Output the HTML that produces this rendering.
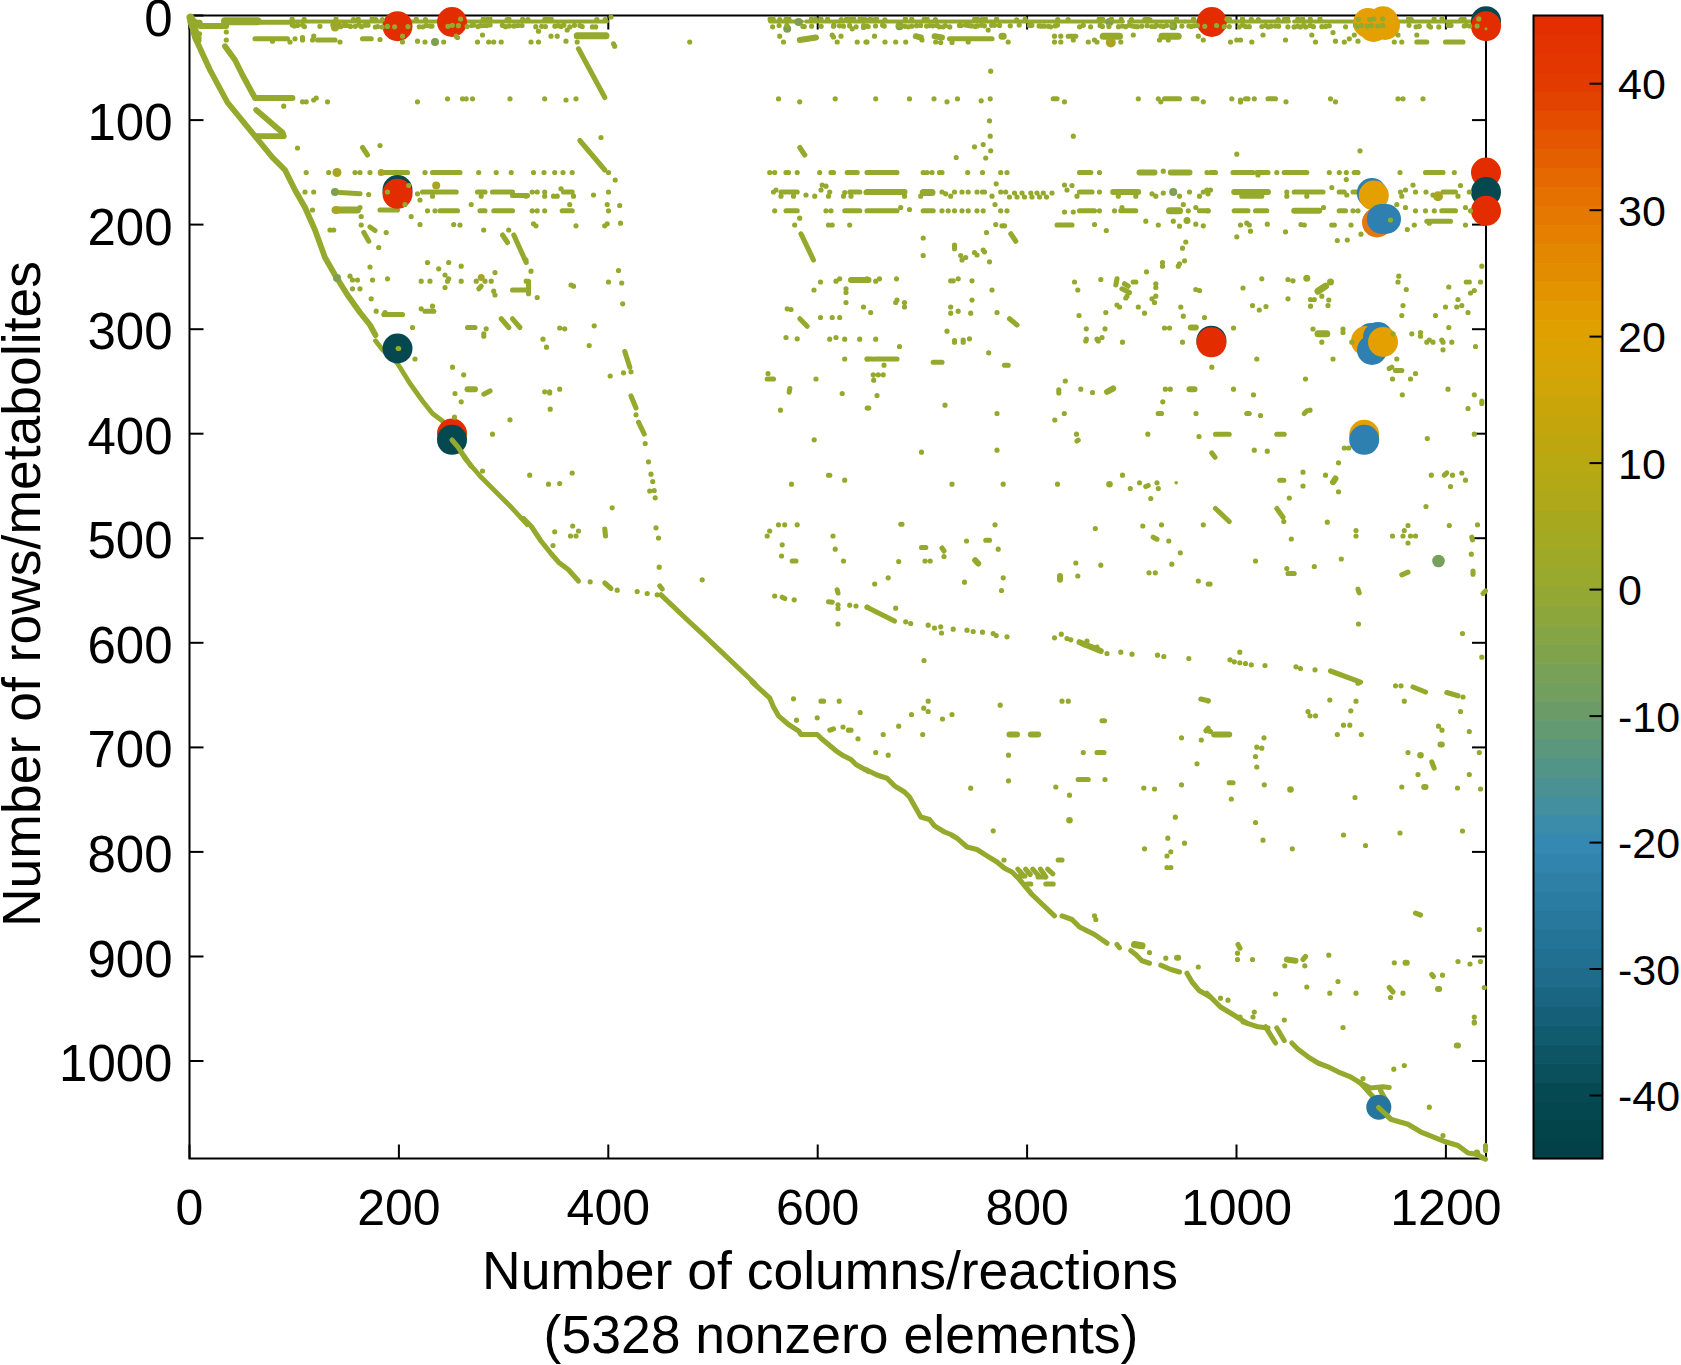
<!DOCTYPE html>
<html><head><meta charset="utf-8"><style>html,body{margin:0;padding:0;background:#fff;overflow:hidden}body{width:1681px;height:1365px;position:relative}</style></head>
<body>
<svg width="1681" height="1365" viewBox="0 0 1681 1365" style="position:absolute;left:0;top:0">
<rect width="1681" height="1365" fill="#fff"/>
<rect x="1533.5" y="15.50" width="69.0" height="19.65" fill="#e32f00"/>
<rect x="1533.5" y="34.55" width="69.0" height="19.65" fill="#e33300"/>
<rect x="1533.5" y="53.60" width="69.0" height="19.65" fill="#e33600"/>
<rect x="1533.5" y="72.65" width="69.0" height="19.65" fill="#e33a00"/>
<rect x="1533.5" y="91.70" width="69.0" height="19.65" fill="#e34300"/>
<rect x="1533.5" y="110.75" width="69.0" height="19.65" fill="#e44d00"/>
<rect x="1533.5" y="129.80" width="69.0" height="19.65" fill="#e45600"/>
<rect x="1533.5" y="148.85" width="69.0" height="19.65" fill="#e45f00"/>
<rect x="1533.5" y="167.90" width="69.0" height="19.65" fill="#e56800"/>
<rect x="1533.5" y="186.95" width="69.0" height="19.65" fill="#e57100"/>
<rect x="1533.5" y="206.00" width="69.0" height="19.65" fill="#e57900"/>
<rect x="1533.5" y="225.05" width="69.0" height="19.65" fill="#e47f00"/>
<rect x="1533.5" y="244.10" width="69.0" height="19.65" fill="#e38600"/>
<rect x="1533.5" y="263.15" width="69.0" height="19.65" fill="#e28d00"/>
<rect x="1533.5" y="282.20" width="69.0" height="19.65" fill="#e29300"/>
<rect x="1533.5" y="301.25" width="69.0" height="19.65" fill="#e19a00"/>
<rect x="1533.5" y="320.30" width="69.0" height="19.65" fill="#e0a100"/>
<rect x="1533.5" y="339.35" width="69.0" height="19.65" fill="#dba302"/>
<rect x="1533.5" y="358.40" width="69.0" height="19.65" fill="#d6a404"/>
<rect x="1533.5" y="377.45" width="69.0" height="19.65" fill="#d0a507"/>
<rect x="1533.5" y="396.50" width="69.0" height="19.65" fill="#caa509"/>
<rect x="1533.5" y="415.55" width="69.0" height="19.65" fill="#c4a60c"/>
<rect x="1533.5" y="434.60" width="69.0" height="19.65" fill="#bea70e"/>
<rect x="1533.5" y="453.65" width="69.0" height="19.65" fill="#b8a811"/>
<rect x="1533.5" y="472.70" width="69.0" height="19.65" fill="#b3a815"/>
<rect x="1533.5" y="491.75" width="69.0" height="19.65" fill="#aea81a"/>
<rect x="1533.5" y="510.80" width="69.0" height="19.65" fill="#a8a81f"/>
<rect x="1533.5" y="529.85" width="69.0" height="19.65" fill="#a3a923"/>
<rect x="1533.5" y="548.90" width="69.0" height="19.65" fill="#9ea928"/>
<rect x="1533.5" y="567.95" width="69.0" height="19.65" fill="#99a92d"/>
<rect x="1533.5" y="587.00" width="69.0" height="19.65" fill="#93a833"/>
<rect x="1533.5" y="606.05" width="69.0" height="19.65" fill="#8ca63c"/>
<rect x="1533.5" y="625.10" width="69.0" height="19.65" fill="#85a444"/>
<rect x="1533.5" y="644.15" width="69.0" height="19.65" fill="#7fa24d"/>
<rect x="1533.5" y="663.20" width="69.0" height="19.65" fill="#78a056"/>
<rect x="1533.5" y="682.25" width="69.0" height="19.65" fill="#729e5e"/>
<rect x="1533.5" y="701.30" width="69.0" height="19.65" fill="#6b9c67"/>
<rect x="1533.5" y="720.35" width="69.0" height="19.65" fill="#639a72"/>
<rect x="1533.5" y="739.40" width="69.0" height="19.65" fill="#5b977d"/>
<rect x="1533.5" y="758.45" width="69.0" height="19.65" fill="#539488"/>
<rect x="1533.5" y="777.50" width="69.0" height="19.65" fill="#4b9194"/>
<rect x="1533.5" y="796.55" width="69.0" height="19.65" fill="#438e9f"/>
<rect x="1533.5" y="815.60" width="69.0" height="19.65" fill="#3b8baa"/>
<rect x="1533.5" y="834.65" width="69.0" height="19.65" fill="#3488b2"/>
<rect x="1533.5" y="853.70" width="69.0" height="19.65" fill="#3184ad"/>
<rect x="1533.5" y="872.75" width="69.0" height="19.65" fill="#2e80a7"/>
<rect x="1533.5" y="891.80" width="69.0" height="19.65" fill="#2b7ca2"/>
<rect x="1533.5" y="910.85" width="69.0" height="19.65" fill="#28789d"/>
<rect x="1533.5" y="929.90" width="69.0" height="19.65" fill="#247497"/>
<rect x="1533.5" y="948.95" width="69.0" height="19.65" fill="#217092"/>
<rect x="1533.5" y="968.00" width="69.0" height="19.65" fill="#1e6b8b"/>
<rect x="1533.5" y="987.05" width="69.0" height="19.65" fill="#1a6581"/>
<rect x="1533.5" y="1006.10" width="69.0" height="19.65" fill="#156078"/>
<rect x="1533.5" y="1025.15" width="69.0" height="19.65" fill="#115b6e"/>
<rect x="1533.5" y="1044.20" width="69.0" height="19.65" fill="#0d5565"/>
<rect x="1533.5" y="1063.25" width="69.0" height="19.65" fill="#09505c"/>
<rect x="1533.5" y="1082.30" width="69.0" height="19.65" fill="#054a52"/>
<rect x="1533.5" y="1101.35" width="69.0" height="19.65" fill="#04474e"/>
<rect x="1533.5" y="1120.40" width="69.0" height="19.65" fill="#03444b"/>
<rect x="1533.5" y="1139.45" width="69.0" height="19.65" fill="#024147"/>
<rect x="1533.5" y="15.5" width="69.0" height="1143.0" fill="none" stroke="#000" stroke-width="2"/>
<line x1="1589.5" y1="1095.5" x2="1602.5" y2="1095.5" stroke="#000" stroke-width="2"/>
<text x="1618" y="1111.0" font-size="43" font-family="Liberation Sans, sans-serif">-40</text>
<line x1="1589.5" y1="969.0" x2="1602.5" y2="969.0" stroke="#000" stroke-width="2"/>
<text x="1618" y="984.5" font-size="43" font-family="Liberation Sans, sans-serif">-30</text>
<line x1="1589.5" y1="842.6" x2="1602.5" y2="842.6" stroke="#000" stroke-width="2"/>
<text x="1618" y="858.1" font-size="43" font-family="Liberation Sans, sans-serif">-20</text>
<line x1="1589.5" y1="716.1" x2="1602.5" y2="716.1" stroke="#000" stroke-width="2"/>
<text x="1618" y="731.6" font-size="43" font-family="Liberation Sans, sans-serif">-10</text>
<line x1="1589.5" y1="589.6" x2="1602.5" y2="589.6" stroke="#000" stroke-width="2"/>
<text x="1618" y="605.1" font-size="43" font-family="Liberation Sans, sans-serif">0</text>
<line x1="1589.5" y1="463.1" x2="1602.5" y2="463.1" stroke="#000" stroke-width="2"/>
<text x="1618" y="478.6" font-size="43" font-family="Liberation Sans, sans-serif">10</text>
<line x1="1589.5" y1="336.6" x2="1602.5" y2="336.6" stroke="#000" stroke-width="2"/>
<text x="1618" y="352.1" font-size="43" font-family="Liberation Sans, sans-serif">20</text>
<line x1="1589.5" y1="210.2" x2="1602.5" y2="210.2" stroke="#000" stroke-width="2"/>
<text x="1618" y="225.7" font-size="43" font-family="Liberation Sans, sans-serif">30</text>
<line x1="1589.5" y1="83.7" x2="1602.5" y2="83.7" stroke="#000" stroke-width="2"/>
<text x="1618" y="99.2" font-size="43" font-family="Liberation Sans, sans-serif">40</text>
<rect x="189.5" y="15.5" width="1296.5" height="1143.0" fill="none" stroke="#000" stroke-width="2"/>
<line x1="189.5" y1="1158.5" x2="189.5" y2="1144.5" stroke="#000" stroke-width="2"/>
<line x1="189.5" y1="15.5" x2="189.5" y2="29.5" stroke="#000" stroke-width="2"/>
<text x="189.5" y="1225" font-size="50" text-anchor="middle" font-family="Liberation Sans, sans-serif">0</text>
<line x1="398.9" y1="1158.5" x2="398.9" y2="1144.5" stroke="#000" stroke-width="2"/>
<line x1="398.9" y1="15.5" x2="398.9" y2="29.5" stroke="#000" stroke-width="2"/>
<text x="398.9" y="1225" font-size="50" text-anchor="middle" font-family="Liberation Sans, sans-serif">200</text>
<line x1="608.3" y1="1158.5" x2="608.3" y2="1144.5" stroke="#000" stroke-width="2"/>
<line x1="608.3" y1="15.5" x2="608.3" y2="29.5" stroke="#000" stroke-width="2"/>
<text x="608.3" y="1225" font-size="50" text-anchor="middle" font-family="Liberation Sans, sans-serif">400</text>
<line x1="817.7" y1="1158.5" x2="817.7" y2="1144.5" stroke="#000" stroke-width="2"/>
<line x1="817.7" y1="15.5" x2="817.7" y2="29.5" stroke="#000" stroke-width="2"/>
<text x="817.7" y="1225" font-size="50" text-anchor="middle" font-family="Liberation Sans, sans-serif">600</text>
<line x1="1027.1" y1="1158.5" x2="1027.1" y2="1144.5" stroke="#000" stroke-width="2"/>
<line x1="1027.1" y1="15.5" x2="1027.1" y2="29.5" stroke="#000" stroke-width="2"/>
<text x="1027.1" y="1225" font-size="50" text-anchor="middle" font-family="Liberation Sans, sans-serif">800</text>
<line x1="1236.5" y1="1158.5" x2="1236.5" y2="1144.5" stroke="#000" stroke-width="2"/>
<line x1="1236.5" y1="15.5" x2="1236.5" y2="29.5" stroke="#000" stroke-width="2"/>
<text x="1236.5" y="1225" font-size="50" text-anchor="middle" font-family="Liberation Sans, sans-serif">1000</text>
<line x1="1445.9" y1="1158.5" x2="1445.9" y2="1144.5" stroke="#000" stroke-width="2"/>
<line x1="1445.9" y1="15.5" x2="1445.9" y2="29.5" stroke="#000" stroke-width="2"/>
<text x="1445.9" y="1225" font-size="50" text-anchor="middle" font-family="Liberation Sans, sans-serif">1200</text>
<line x1="189.5" y1="15.5" x2="203.5" y2="15.5" stroke="#000" stroke-width="2"/>
<line x1="1486.0" y1="15.5" x2="1472.0" y2="15.5" stroke="#000" stroke-width="2"/>
<text x="172.5" y="35.5" font-size="51" text-anchor="end" font-family="Liberation Sans, sans-serif">0</text>
<line x1="189.5" y1="120.1" x2="203.5" y2="120.1" stroke="#000" stroke-width="2"/>
<line x1="1486.0" y1="120.1" x2="1472.0" y2="120.1" stroke="#000" stroke-width="2"/>
<text x="172.5" y="140.1" font-size="51" text-anchor="end" font-family="Liberation Sans, sans-serif">100</text>
<line x1="189.5" y1="224.6" x2="203.5" y2="224.6" stroke="#000" stroke-width="2"/>
<line x1="1486.0" y1="224.6" x2="1472.0" y2="224.6" stroke="#000" stroke-width="2"/>
<text x="172.5" y="244.6" font-size="51" text-anchor="end" font-family="Liberation Sans, sans-serif">200</text>
<line x1="189.5" y1="329.2" x2="203.5" y2="329.2" stroke="#000" stroke-width="2"/>
<line x1="1486.0" y1="329.2" x2="1472.0" y2="329.2" stroke="#000" stroke-width="2"/>
<text x="172.5" y="349.2" font-size="51" text-anchor="end" font-family="Liberation Sans, sans-serif">300</text>
<line x1="189.5" y1="433.7" x2="203.5" y2="433.7" stroke="#000" stroke-width="2"/>
<line x1="1486.0" y1="433.7" x2="1472.0" y2="433.7" stroke="#000" stroke-width="2"/>
<text x="172.5" y="453.7" font-size="51" text-anchor="end" font-family="Liberation Sans, sans-serif">400</text>
<line x1="189.5" y1="538.2" x2="203.5" y2="538.2" stroke="#000" stroke-width="2"/>
<line x1="1486.0" y1="538.2" x2="1472.0" y2="538.2" stroke="#000" stroke-width="2"/>
<text x="172.5" y="558.2" font-size="51" text-anchor="end" font-family="Liberation Sans, sans-serif">500</text>
<line x1="189.5" y1="642.8" x2="203.5" y2="642.8" stroke="#000" stroke-width="2"/>
<line x1="1486.0" y1="642.8" x2="1472.0" y2="642.8" stroke="#000" stroke-width="2"/>
<text x="172.5" y="662.8" font-size="51" text-anchor="end" font-family="Liberation Sans, sans-serif">600</text>
<line x1="189.5" y1="747.4" x2="203.5" y2="747.4" stroke="#000" stroke-width="2"/>
<line x1="1486.0" y1="747.4" x2="1472.0" y2="747.4" stroke="#000" stroke-width="2"/>
<text x="172.5" y="767.4" font-size="51" text-anchor="end" font-family="Liberation Sans, sans-serif">700</text>
<line x1="189.5" y1="851.9" x2="203.5" y2="851.9" stroke="#000" stroke-width="2"/>
<line x1="1486.0" y1="851.9" x2="1472.0" y2="851.9" stroke="#000" stroke-width="2"/>
<text x="172.5" y="871.9" font-size="51" text-anchor="end" font-family="Liberation Sans, sans-serif">800</text>
<line x1="189.5" y1="956.5" x2="203.5" y2="956.5" stroke="#000" stroke-width="2"/>
<line x1="1486.0" y1="956.5" x2="1472.0" y2="956.5" stroke="#000" stroke-width="2"/>
<text x="172.5" y="976.5" font-size="51" text-anchor="end" font-family="Liberation Sans, sans-serif">900</text>
<line x1="189.5" y1="1061.0" x2="203.5" y2="1061.0" stroke="#000" stroke-width="2"/>
<line x1="1486.0" y1="1061.0" x2="1472.0" y2="1061.0" stroke="#000" stroke-width="2"/>
<text x="172.5" y="1081.0" font-size="51" text-anchor="end" font-family="Liberation Sans, sans-serif">1000</text>
<polyline points="190.0,18.0 195.0,37.5 210.0,70.0 227.5,102.5 255.0,136.2 272.5,157.5 285.0,170.0 295.0,190.0 305.0,207.5 315.0,230.0 325.0,257.5 335.0,275.0 347.5,295.0 360.0,312.5 370.0,325.0 375.5,335.2" fill="none" stroke="#95a92c" stroke-width="5.8" stroke-linecap="round" stroke-linejoin="round"/>
<polyline points="225.0,46.2 235.0,60.0 242.5,75.0 255.0,98.0 292.5,98.0" fill="none" stroke="#95a92c" stroke-width="5.8" stroke-linecap="round" stroke-linejoin="round"/>
<polyline points="256.2,110.0 265.0,117.5 275.0,126.2 282.5,132.5 283.8,136.2 256.2,136.2" fill="none" stroke="#95a92c" stroke-width="5.8" stroke-linecap="round" stroke-linejoin="round"/>
<polyline points="190.5,18.0 200.0,26.0 226.2,26.0" fill="none" stroke="#95a92c" stroke-width="5.8" stroke-linecap="round" stroke-linejoin="round"/>
<line x1="225.0" y1="21.2" x2="257.5" y2="21.2" stroke="#95a92c" stroke-width="8.0" stroke-linecap="round"/>
<line x1="257.5" y1="22.2" x2="292.5" y2="22.2" stroke="#95a92c" stroke-width="5.1" stroke-linecap="round"/>
<line x1="190.0" y1="22.2" x2="200.0" y2="22.2" stroke="#95a92c" stroke-width="5.1" stroke-linecap="round"/>
<line x1="190.5" y1="17.5" x2="197.5" y2="40.0" stroke="#95a92c" stroke-width="8.0" stroke-linecap="round"/>
<line x1="255.0" y1="38.8" x2="287.5" y2="38.8" stroke="#95a92c" stroke-width="5.1" stroke-linecap="round"/>
<line x1="317.5" y1="40.0" x2="335.0" y2="40.0" stroke="#95a92c" stroke-width="5.1" stroke-linecap="round"/>
<line x1="362.5" y1="38.8" x2="371.2" y2="38.8" stroke="#95a92c" stroke-width="5.1" stroke-linecap="round"/>
<line x1="362.5" y1="147.5" x2="367.5" y2="155.0" stroke="#95a92c" stroke-width="5.1" stroke-linecap="round"/>
<line x1="381.2" y1="172.5" x2="407.5" y2="172.5" stroke="#95a92c" stroke-width="5.1" stroke-linecap="round"/>
<line x1="432.5" y1="172.5" x2="460.0" y2="172.5" stroke="#95a92c" stroke-width="5.1" stroke-linecap="round"/>
<line x1="340.0" y1="192.5" x2="360.0" y2="193.8" stroke="#95a92c" stroke-width="5.1" stroke-linecap="round"/>
<line x1="422.5" y1="192.0" x2="435.0" y2="192.0" stroke="#95a92c" stroke-width="5.1" stroke-linecap="round"/>
<line x1="437.5" y1="192.0" x2="456.2" y2="192.0" stroke="#95a92c" stroke-width="5.1" stroke-linecap="round"/>
<line x1="477.5" y1="192.0" x2="485.0" y2="192.0" stroke="#95a92c" stroke-width="5.1" stroke-linecap="round"/>
<line x1="492.5" y1="192.0" x2="512.5" y2="192.0" stroke="#95a92c" stroke-width="5.1" stroke-linecap="round"/>
<line x1="512.5" y1="195.5" x2="527.5" y2="195.5" stroke="#95a92c" stroke-width="5.1" stroke-linecap="round"/>
<line x1="335.0" y1="210.0" x2="357.5" y2="210.0" stroke="#95a92c" stroke-width="7.0" stroke-linecap="round"/>
<line x1="380.0" y1="210.0" x2="397.5" y2="210.0" stroke="#95a92c" stroke-width="5.1" stroke-linecap="round"/>
<line x1="440.0" y1="210.8" x2="457.5" y2="210.8" stroke="#95a92c" stroke-width="5.1" stroke-linecap="round"/>
<line x1="480.0" y1="210.8" x2="485.0" y2="210.8" stroke="#95a92c" stroke-width="5.1" stroke-linecap="round"/>
<line x1="493.8" y1="210.8" x2="512.5" y2="210.8" stroke="#95a92c" stroke-width="5.1" stroke-linecap="round"/>
<line x1="363.8" y1="232.5" x2="368.8" y2="241.2" stroke="#95a92c" stroke-width="5.1" stroke-linecap="round"/>
<line x1="370.0" y1="227.0" x2="375.0" y2="230.5" stroke="#95a92c" stroke-width="5.1" stroke-linecap="round"/>
<line x1="502.5" y1="235.0" x2="507.5" y2="242.5" stroke="#95a92c" stroke-width="5.1" stroke-linecap="round"/>
<line x1="513.8" y1="235.0" x2="526.2" y2="262.5" stroke="#95a92c" stroke-width="5.1" stroke-linecap="round"/>
<line x1="512.5" y1="290.0" x2="527.5" y2="290.0" stroke="#95a92c" stroke-width="5.1" stroke-linecap="round"/>
<line x1="478.8" y1="288.8" x2="481.2" y2="286.2" stroke="#95a92c" stroke-width="5.1" stroke-linecap="round"/>
<line x1="383.8" y1="314.5" x2="402.5" y2="314.5" stroke="#95a92c" stroke-width="5.1" stroke-linecap="round"/>
<line x1="425.0" y1="311.2" x2="433.8" y2="311.2" stroke="#95a92c" stroke-width="5.1" stroke-linecap="round"/>
<line x1="467.5" y1="327.5" x2="475.0" y2="327.5" stroke="#95a92c" stroke-width="5.1" stroke-linecap="round"/>
<line x1="501.2" y1="318.8" x2="508.8" y2="327.5" stroke="#95a92c" stroke-width="5.1" stroke-linecap="round"/>
<line x1="512.5" y1="318.8" x2="520.0" y2="327.5" stroke="#95a92c" stroke-width="5.1" stroke-linecap="round"/>
<line x1="483.8" y1="333.8" x2="483.8" y2="336.2" stroke="#95a92c" stroke-width="5.1" stroke-linecap="round"/>
<line x1="577.2" y1="35.8" x2="606.0" y2="35.8" stroke="#95a92c" stroke-width="7.0" stroke-linecap="round"/>
<line x1="578.5" y1="48.8" x2="604.8" y2="97.5" stroke="#95a92c" stroke-width="5.1" stroke-linecap="round"/>
<line x1="799.8" y1="40.0" x2="816.0" y2="37.5" stroke="#95a92c" stroke-width="6.0" stroke-linecap="round"/>
<line x1="579.8" y1="140.5" x2="604.8" y2="170.0" stroke="#95a92c" stroke-width="5.1" stroke-linecap="round"/>
<line x1="799.8" y1="147.5" x2="804.8" y2="155.0" stroke="#95a92c" stroke-width="5.1" stroke-linecap="round"/>
<line x1="563.5" y1="192.0" x2="572.2" y2="192.0" stroke="#95a92c" stroke-width="5.1" stroke-linecap="round"/>
<line x1="847.2" y1="172.5" x2="857.2" y2="172.5" stroke="#95a92c" stroke-width="5.1" stroke-linecap="round"/>
<line x1="781.0" y1="192.0" x2="797.2" y2="192.0" stroke="#95a92c" stroke-width="5.1" stroke-linecap="round"/>
<line x1="849.8" y1="192.0" x2="859.8" y2="192.0" stroke="#95a92c" stroke-width="5.1" stroke-linecap="round"/>
<line x1="562.2" y1="210.8" x2="572.2" y2="210.8" stroke="#95a92c" stroke-width="5.1" stroke-linecap="round"/>
<line x1="786.0" y1="210.8" x2="797.2" y2="210.8" stroke="#95a92c" stroke-width="5.1" stroke-linecap="round"/>
<line x1="844.8" y1="210.8" x2="859.8" y2="210.8" stroke="#95a92c" stroke-width="5.1" stroke-linecap="round"/>
<line x1="801.0" y1="233.8" x2="813.5" y2="260.0" stroke="#95a92c" stroke-width="5.1" stroke-linecap="round"/>
<line x1="528.5" y1="281.2" x2="528.5" y2="293.8" stroke="#95a92c" stroke-width="5.1" stroke-linecap="round"/>
<line x1="851.0" y1="280.0" x2="868.5" y2="280.0" stroke="#95a92c" stroke-width="6.0" stroke-linecap="round"/>
<line x1="799.8" y1="318.8" x2="807.2" y2="326.2" stroke="#95a92c" stroke-width="5.1" stroke-linecap="round"/>
<line x1="915.8" y1="36.2" x2="920.8" y2="37.5" stroke="#95a92c" stroke-width="6.0" stroke-linecap="round"/>
<line x1="934.5" y1="36.2" x2="942.0" y2="37.5" stroke="#95a92c" stroke-width="6.0" stroke-linecap="round"/>
<line x1="949.5" y1="38.8" x2="992.0" y2="38.8" stroke="#95a92c" stroke-width="5.1" stroke-linecap="round"/>
<line x1="1002.0" y1="36.2" x2="1003.2" y2="36.2" stroke="#95a92c" stroke-width="7.0" stroke-linecap="round"/>
<line x1="1068.2" y1="36.2" x2="1075.8" y2="36.2" stroke="#95a92c" stroke-width="5.1" stroke-linecap="round"/>
<line x1="1103.2" y1="36.2" x2="1119.5" y2="36.2" stroke="#95a92c" stroke-width="7.0" stroke-linecap="round"/>
<line x1="1162.0" y1="36.2" x2="1178.2" y2="36.2" stroke="#95a92c" stroke-width="7.0" stroke-linecap="round"/>
<line x1="1053.2" y1="98.8" x2="1057.0" y2="98.8" stroke="#95a92c" stroke-width="5.1" stroke-linecap="round"/>
<line x1="1164.5" y1="98.8" x2="1179.5" y2="98.8" stroke="#95a92c" stroke-width="5.1" stroke-linecap="round"/>
<line x1="1193.2" y1="98.8" x2="1197.0" y2="98.8" stroke="#95a92c" stroke-width="5.1" stroke-linecap="round"/>
<line x1="867.0" y1="172.5" x2="897.0" y2="172.5" stroke="#95a92c" stroke-width="5.1" stroke-linecap="round"/>
<line x1="1079.5" y1="172.5" x2="1090.8" y2="172.5" stroke="#95a92c" stroke-width="5.1" stroke-linecap="round"/>
<line x1="1139.5" y1="172.5" x2="1154.5" y2="172.5" stroke="#95a92c" stroke-width="6.0" stroke-linecap="round"/>
<line x1="1170.8" y1="172.5" x2="1189.5" y2="172.5" stroke="#95a92c" stroke-width="6.0" stroke-linecap="round"/>
<line x1="867.0" y1="192.0" x2="904.5" y2="192.0" stroke="#95a92c" stroke-width="6.0" stroke-linecap="round"/>
<line x1="923.2" y1="192.5" x2="932.0" y2="192.5" stroke="#95a92c" stroke-width="7.0" stroke-linecap="round"/>
<line x1="1079.5" y1="192.0" x2="1092.0" y2="192.0" stroke="#95a92c" stroke-width="5.1" stroke-linecap="round"/>
<line x1="1113.2" y1="192.0" x2="1138.2" y2="192.0" stroke="#95a92c" stroke-width="6.0" stroke-linecap="round"/>
<line x1="867.0" y1="210.8" x2="897.0" y2="210.8" stroke="#95a92c" stroke-width="5.1" stroke-linecap="round"/>
<line x1="923.2" y1="210.8" x2="933.2" y2="210.8" stroke="#95a92c" stroke-width="5.1" stroke-linecap="round"/>
<line x1="1079.5" y1="210.8" x2="1094.5" y2="210.8" stroke="#95a92c" stroke-width="5.1" stroke-linecap="round"/>
<line x1="1120.8" y1="210.8" x2="1135.8" y2="210.8" stroke="#95a92c" stroke-width="5.1" stroke-linecap="round"/>
<line x1="1169.5" y1="210.8" x2="1179.5" y2="210.8" stroke="#95a92c" stroke-width="7.0" stroke-linecap="round"/>
<line x1="1199.5" y1="210.8" x2="1208.2" y2="210.8" stroke="#95a92c" stroke-width="5.1" stroke-linecap="round"/>
<line x1="1057.0" y1="225.0" x2="1072.0" y2="225.0" stroke="#95a92c" stroke-width="5.1" stroke-linecap="round"/>
<line x1="1010.8" y1="233.8" x2="1015.8" y2="241.2" stroke="#95a92c" stroke-width="5.1" stroke-linecap="round"/>
<line x1="954.5" y1="245.0" x2="954.5" y2="248.8" stroke="#95a92c" stroke-width="5.1" stroke-linecap="round"/>
<line x1="1009.5" y1="318.8" x2="1017.0" y2="325.0" stroke="#95a92c" stroke-width="5.1" stroke-linecap="round"/>
<line x1="1117.0" y1="278.8" x2="1115.8" y2="285.0" stroke="#95a92c" stroke-width="5.1" stroke-linecap="round"/>
<line x1="1124.5" y1="283.8" x2="1128.2" y2="286.2" stroke="#95a92c" stroke-width="5.1" stroke-linecap="round"/>
<line x1="1122.0" y1="288.8" x2="1129.5" y2="292.5" stroke="#95a92c" stroke-width="5.1" stroke-linecap="round"/>
<line x1="1190.8" y1="327.5" x2="1195.8" y2="327.5" stroke="#95a92c" stroke-width="6.0" stroke-linecap="round"/>
<line x1="1416.8" y1="42.0" x2="1426.8" y2="42.0" stroke="#95a92c" stroke-width="5.1" stroke-linecap="round"/>
<line x1="1445.5" y1="42.0" x2="1463.0" y2="42.0" stroke="#95a92c" stroke-width="5.1" stroke-linecap="round"/>
<line x1="1268.0" y1="98.8" x2="1275.5" y2="98.8" stroke="#95a92c" stroke-width="5.1" stroke-linecap="round"/>
<line x1="1210.5" y1="172.5" x2="1215.5" y2="172.5" stroke="#95a92c" stroke-width="5.1" stroke-linecap="round"/>
<line x1="1233.0" y1="172.5" x2="1253.0" y2="172.5" stroke="#95a92c" stroke-width="5.1" stroke-linecap="round"/>
<line x1="1256.8" y1="172.5" x2="1268.0" y2="172.5" stroke="#95a92c" stroke-width="5.1" stroke-linecap="round"/>
<line x1="1284.2" y1="172.5" x2="1306.8" y2="172.5" stroke="#95a92c" stroke-width="5.1" stroke-linecap="round"/>
<line x1="1354.2" y1="172.5" x2="1358.0" y2="172.5" stroke="#95a92c" stroke-width="5.1" stroke-linecap="round"/>
<line x1="1425.5" y1="172.5" x2="1443.0" y2="172.5" stroke="#95a92c" stroke-width="5.1" stroke-linecap="round"/>
<line x1="1234.2" y1="192.0" x2="1268.0" y2="192.0" stroke="#95a92c" stroke-width="6.0" stroke-linecap="round"/>
<line x1="1241.8" y1="196.2" x2="1261.8" y2="196.2" stroke="#95a92c" stroke-width="5.1" stroke-linecap="round"/>
<line x1="1294.2" y1="192.0" x2="1323.0" y2="192.0" stroke="#95a92c" stroke-width="5.1" stroke-linecap="round"/>
<line x1="1339.2" y1="192.0" x2="1344.2" y2="192.0" stroke="#95a92c" stroke-width="5.1" stroke-linecap="round"/>
<line x1="1353.0" y1="192.0" x2="1360.5" y2="192.0" stroke="#95a92c" stroke-width="5.1" stroke-linecap="round"/>
<line x1="1443.0" y1="192.0" x2="1455.5" y2="192.0" stroke="#95a92c" stroke-width="5.1" stroke-linecap="round"/>
<line x1="1234.2" y1="210.8" x2="1248.0" y2="210.8" stroke="#95a92c" stroke-width="5.1" stroke-linecap="round"/>
<line x1="1255.5" y1="210.8" x2="1266.8" y2="210.8" stroke="#95a92c" stroke-width="5.1" stroke-linecap="round"/>
<line x1="1294.2" y1="210.8" x2="1319.2" y2="210.8" stroke="#95a92c" stroke-width="6.0" stroke-linecap="round"/>
<line x1="1339.2" y1="210.8" x2="1345.5" y2="210.8" stroke="#95a92c" stroke-width="5.1" stroke-linecap="round"/>
<line x1="1441.8" y1="210.8" x2="1455.5" y2="210.8" stroke="#95a92c" stroke-width="5.1" stroke-linecap="round"/>
<line x1="1426.8" y1="221.2" x2="1450.5" y2="221.2" stroke="#95a92c" stroke-width="5.1" stroke-linecap="round"/>
<line x1="1318.0" y1="291.2" x2="1325.5" y2="286.2" stroke="#95a92c" stroke-width="7.0" stroke-linecap="round"/>
<line x1="1318.0" y1="333.8" x2="1326.8" y2="333.8" stroke="#95a92c" stroke-width="7.0" stroke-linecap="round"/>
<polyline points="375.5,340.8 382.5,349.8 397.5,363.5 410.0,383.5 422.5,401.0 432.5,413.5 442.5,421.0 452.0,438.5 465.0,458.5 480.0,476.0 497.5,493.5 510.0,506.0 527.5,524.8" fill="none" stroke="#95a92c" stroke-width="4.8" stroke-linecap="round" stroke-linejoin="round"/>
<line x1="467.5" y1="389.2" x2="475.0" y2="389.2" stroke="#95a92c" stroke-width="6.0" stroke-linecap="round"/>
<line x1="483.8" y1="394.2" x2="490.0" y2="391.0" stroke="#95a92c" stroke-width="5.1" stroke-linecap="round"/>
<polyline points="523.5,518.5 531.0,526.0 541.0,541.0 551.0,553.5 558.5,562.2 568.5,569.8 578.5,581.0" fill="none" stroke="#95a92c" stroke-width="5.1" stroke-linecap="round" stroke-linejoin="round"/>
<polyline points="661.0,594.8 688.5,621.0 703.5,634.8 754.8,683.5" fill="none" stroke="#95a92c" stroke-width="5.1" stroke-linecap="round" stroke-linejoin="round"/>
<line x1="604.8" y1="583.0" x2="611.0" y2="588.5" stroke="#95a92c" stroke-width="5.1" stroke-linecap="round"/>
<line x1="624.8" y1="351.5" x2="629.8" y2="367.2" stroke="#95a92c" stroke-width="5.1" stroke-linecap="round"/>
<line x1="631.0" y1="396.0" x2="636.0" y2="408.0" stroke="#95a92c" stroke-width="5.1" stroke-linecap="round"/>
<line x1="638.5" y1="422.2" x2="644.2" y2="434.0" stroke="#95a92c" stroke-width="5.1" stroke-linecap="round"/>
<line x1="659.8" y1="586.0" x2="662.2" y2="589.0" stroke="#95a92c" stroke-width="5.1" stroke-linecap="round"/>
<line x1="604.8" y1="529.0" x2="605.5" y2="536.0" stroke="#95a92c" stroke-width="5.1" stroke-linecap="round"/>
<line x1="767.2" y1="379.0" x2="773.5" y2="379.0" stroke="#95a92c" stroke-width="5.1" stroke-linecap="round"/>
<line x1="789.8" y1="388.5" x2="789.2" y2="392.2" stroke="#95a92c" stroke-width="5.1" stroke-linecap="round"/>
<line x1="828.5" y1="475.2" x2="829.8" y2="475.2" stroke="#95a92c" stroke-width="5.1" stroke-linecap="round"/>
<line x1="792.2" y1="561.0" x2="796.0" y2="561.0" stroke="#95a92c" stroke-width="5.1" stroke-linecap="round"/>
<line x1="837.2" y1="589.8" x2="838.0" y2="593.0" stroke="#95a92c" stroke-width="5.1" stroke-linecap="round"/>
<line x1="782.2" y1="597.2" x2="784.8" y2="598.5" stroke="#95a92c" stroke-width="5.1" stroke-linecap="round"/>
<line x1="828.5" y1="601.8" x2="832.2" y2="602.2" stroke="#95a92c" stroke-width="5.1" stroke-linecap="round"/>
<polyline points="867.0,607.2 877.0,612.2 894.5,621.0" fill="none" stroke="#95a92c" stroke-width="5.1" stroke-linecap="round" stroke-linejoin="round"/>
<line x1="867.0" y1="359.0" x2="872.0" y2="359.0" stroke="#95a92c" stroke-width="5.1" stroke-linecap="round"/>
<line x1="874.5" y1="359.0" x2="897.0" y2="359.0" stroke="#95a92c" stroke-width="5.1" stroke-linecap="round"/>
<line x1="933.2" y1="362.2" x2="942.0" y2="362.2" stroke="#95a92c" stroke-width="5.1" stroke-linecap="round"/>
<line x1="1004.5" y1="365.2" x2="1008.2" y2="365.2" stroke="#95a92c" stroke-width="5.1" stroke-linecap="round"/>
<line x1="1145.8" y1="486.5" x2="1148.2" y2="485.5" stroke="#95a92c" stroke-width="5.1" stroke-linecap="round"/>
<line x1="1058.8" y1="389.8" x2="1058.8" y2="393.0" stroke="#95a92c" stroke-width="5.1" stroke-linecap="round"/>
<line x1="1107.0" y1="391.8" x2="1113.2" y2="388.5" stroke="#95a92c" stroke-width="6.0" stroke-linecap="round"/>
<line x1="1189.5" y1="389.2" x2="1194.5" y2="389.2" stroke="#95a92c" stroke-width="6.0" stroke-linecap="round"/>
<line x1="1158.2" y1="413.5" x2="1161.5" y2="413.5" stroke="#95a92c" stroke-width="5.1" stroke-linecap="round"/>
<line x1="1077.0" y1="441.0" x2="1078.2" y2="440.2" stroke="#95a92c" stroke-width="5.1" stroke-linecap="round"/>
<line x1="900.8" y1="524.2" x2="902.0" y2="524.2" stroke="#95a92c" stroke-width="5.1" stroke-linecap="round"/>
<line x1="985.8" y1="540.2" x2="989.5" y2="540.2" stroke="#95a92c" stroke-width="5.1" stroke-linecap="round"/>
<line x1="921.5" y1="547.5" x2="925.8" y2="547.5" stroke="#95a92c" stroke-width="5.1" stroke-linecap="round"/>
<line x1="942.0" y1="548.0" x2="944.0" y2="551.0" stroke="#95a92c" stroke-width="5.1" stroke-linecap="round"/>
<line x1="975.2" y1="560.2" x2="978.2" y2="563.5" stroke="#95a92c" stroke-width="6.0" stroke-linecap="round"/>
<line x1="1153.2" y1="537.2" x2="1157.0" y2="539.2" stroke="#95a92c" stroke-width="5.1" stroke-linecap="round"/>
<line x1="1060.0" y1="576.0" x2="1060.0" y2="579.8" stroke="#95a92c" stroke-width="6.0" stroke-linecap="round"/>
<line x1="1079.5" y1="642.2" x2="1100.8" y2="651.0" stroke="#95a92c" stroke-width="6.0" stroke-linecap="round"/>

<line x1="1389.2" y1="368.5" x2="1391.8" y2="367.2" stroke="#95a92c" stroke-width="5.1" stroke-linecap="round"/>
<line x1="1395.5" y1="370.5" x2="1401.8" y2="370.5" stroke="#95a92c" stroke-width="5.1" stroke-linecap="round"/>
<line x1="1481.8" y1="401.0" x2="1481.8" y2="403.5" stroke="#95a92c" stroke-width="5.1" stroke-linecap="round"/>
<line x1="1246.8" y1="413.5" x2="1249.2" y2="413.5" stroke="#95a92c" stroke-width="5.1" stroke-linecap="round"/>
<line x1="1304.2" y1="413.5" x2="1306.8" y2="411.0" stroke="#95a92c" stroke-width="5.1" stroke-linecap="round"/>
<line x1="1215.5" y1="434.2" x2="1229.2" y2="434.2" stroke="#95a92c" stroke-width="5.1" stroke-linecap="round"/>
<line x1="1276.8" y1="434.2" x2="1284.2" y2="434.2" stroke="#95a92c" stroke-width="5.1" stroke-linecap="round"/>
<line x1="1211.8" y1="453.0" x2="1215.0" y2="457.2" stroke="#95a92c" stroke-width="5.1" stroke-linecap="round"/>
<line x1="1335.5" y1="478.5" x2="1333.0" y2="482.2" stroke="#95a92c" stroke-width="6.0" stroke-linecap="round"/>
<line x1="1279.8" y1="480.2" x2="1283.8" y2="480.2" stroke="#95a92c" stroke-width="5.1" stroke-linecap="round"/>
<line x1="1444.2" y1="475.2" x2="1446.8" y2="473.0" stroke="#95a92c" stroke-width="5.1" stroke-linecap="round"/>
<line x1="1215.5" y1="508.5" x2="1229.2" y2="521.5" stroke="#95a92c" stroke-width="5.1" stroke-linecap="round"/>
<line x1="1276.8" y1="508.5" x2="1283.0" y2="517.2" stroke="#95a92c" stroke-width="5.1" stroke-linecap="round"/>
<line x1="1471.8" y1="537.2" x2="1472.5" y2="539.8" stroke="#95a92c" stroke-width="5.1" stroke-linecap="round"/>
<line x1="1288.0" y1="573.5" x2="1294.2" y2="573.5" stroke="#95a92c" stroke-width="5.1" stroke-linecap="round"/>
<line x1="1401.8" y1="574.8" x2="1408.0" y2="572.2" stroke="#95a92c" stroke-width="5.1" stroke-linecap="round"/>
<line x1="1473.0" y1="571.0" x2="1473.0" y2="574.2" stroke="#95a92c" stroke-width="5.1" stroke-linecap="round"/>
<line x1="1358.0" y1="589.2" x2="1359.2" y2="592.8" stroke="#95a92c" stroke-width="5.1" stroke-linecap="round"/>
<line x1="1483.0" y1="593.5" x2="1485.5" y2="591.0" stroke="#95a92c" stroke-width="5.1" stroke-linecap="round"/>
<line x1="1330.5" y1="671.0" x2="1360.5" y2="682.2" stroke="#95a92c" stroke-width="5.1" stroke-linecap="round"/>
<polyline points="752.2,682.0 769.8,698.2 773.5,707.0 778.5,715.8 788.5,724.5 798.5,730.8 801.0,734.5 817.2,734.5 821.0,738.2 828.5,744.5 836.0,750.8 843.5,755.8 851.0,759.5 856.0,764.5 868.5,771.5" fill="none" stroke="#95a92c" stroke-width="5.1" stroke-linecap="round" stroke-linejoin="round"/>
<line x1="829.8" y1="730.2" x2="833.5" y2="728.8" stroke="#95a92c" stroke-width="5.1" stroke-linecap="round"/>
<polyline points="865.8,769.5 877.0,775.0 887.0,778.2 894.5,785.8 904.5,792.0 909.5,797.0 920.8,817.0 929.5,819.5 934.5,825.8 944.5,832.0 950.8,834.5 957.0,838.2 967.0,847.0 977.0,849.5 987.0,855.8 997.0,862.0 1004.5,868.2 1012.0,872.0 1019.5,879.5 1032.0,894.5 1054.5,915.8" fill="none" stroke="#95a92c" stroke-width="5.1" stroke-linecap="round" stroke-linejoin="round"/>
<polyline points="1062.0,915.8 1072.0,919.5 1079.5,927.0 1087.0,930.8 1094.5,934.5 1107.0,943.2" fill="none" stroke="#95a92c" stroke-width="5.1" stroke-linecap="round" stroke-linejoin="round"/>
<polyline points="1130.8,950.8 1135.8,954.5 1142.0,960.8 1149.5,963.2" fill="none" stroke="#95a92c" stroke-width="5.1" stroke-linecap="round" stroke-linejoin="round"/>
<polyline points="1160.8,965.2 1170.8,969.5 1179.5,972.0" fill="none" stroke="#95a92c" stroke-width="5.1" stroke-linecap="round" stroke-linejoin="round"/>
<polyline points="1187.0,973.2 1192.0,982.0 1199.5,990.8 1209.5,996.5" fill="none" stroke="#95a92c" stroke-width="5.1" stroke-linecap="round" stroke-linejoin="round"/>
<line x1="1017.8" y1="869.1" x2="1023.8" y2="875.7" stroke="#95a92c" stroke-width="5.1" stroke-linecap="round"/>
<line x1="1025.6" y1="869.1" x2="1030.3" y2="874.5" stroke="#95a92c" stroke-width="5.1" stroke-linecap="round"/>
<line x1="1032.7" y1="869.1" x2="1038.5" y2="875.5" stroke="#95a92c" stroke-width="5.1" stroke-linecap="round"/>
<line x1="1040.5" y1="869.1" x2="1045.8" y2="876.9" stroke="#95a92c" stroke-width="5.1" stroke-linecap="round"/>
<line x1="1047.6" y1="869.1" x2="1052.9" y2="873.9" stroke="#95a92c" stroke-width="5.1" stroke-linecap="round"/>
<line x1="1020.0" y1="876.0" x2="1025.0" y2="876.0" stroke="#95a92c" stroke-width="5.1" stroke-linecap="round"/>
<line x1="1038.0" y1="877.0" x2="1045.0" y2="877.0" stroke="#95a92c" stroke-width="5.1" stroke-linecap="round"/>
<line x1="1045.8" y1="884.0" x2="1053.2" y2="884.0" stroke="#95a92c" stroke-width="5.1" stroke-linecap="round"/>
<line x1="1027.0" y1="884.0" x2="1030.8" y2="884.0" stroke="#95a92c" stroke-width="5.1" stroke-linecap="round"/>
<line x1="1058.2" y1="860.0" x2="1062.0" y2="860.0" stroke="#95a92c" stroke-width="5.1" stroke-linecap="round"/>
<line x1="1117.0" y1="944.5" x2="1119.5" y2="947.8" stroke="#95a92c" stroke-width="5.1" stroke-linecap="round"/>
<line x1="1134.5" y1="944.5" x2="1142.0" y2="945.8" stroke="#95a92c" stroke-width="7.0" stroke-linecap="round"/>
<line x1="1177.0" y1="957.8" x2="1178.2" y2="957.8" stroke="#95a92c" stroke-width="6.0" stroke-linecap="round"/>
<line x1="1009.5" y1="734.5" x2="1017.0" y2="734.5" stroke="#95a92c" stroke-width="6.0" stroke-linecap="round"/>
<line x1="1030.8" y1="734.5" x2="1038.2" y2="734.5" stroke="#95a92c" stroke-width="6.0" stroke-linecap="round"/>
<line x1="1102.0" y1="720.8" x2="1104.5" y2="720.8" stroke="#95a92c" stroke-width="5.1" stroke-linecap="round"/>
<line x1="1097.0" y1="752.5" x2="1104.0" y2="752.5" stroke="#95a92c" stroke-width="5.1" stroke-linecap="round"/>
<line x1="1078.2" y1="779.5" x2="1088.2" y2="779.5" stroke="#95a92c" stroke-width="5.1" stroke-linecap="round"/>
<line x1="1200.8" y1="699.0" x2="1208.2" y2="700.8" stroke="#95a92c" stroke-width="5.1" stroke-linecap="round"/>
<line x1="1205.8" y1="730.8" x2="1208.2" y2="728.2" stroke="#95a92c" stroke-width="5.1" stroke-linecap="round"/>
<polyline points="1206.8,993.2 1220.5,1007.0 1233.0,1014.5 1246.8,1023.2" fill="none" stroke="#95a92c" stroke-width="5.1" stroke-linecap="round" stroke-linejoin="round"/>
<line x1="1413.0" y1="687.0" x2="1425.5" y2="692.0" stroke="#95a92c" stroke-width="5.1" stroke-linecap="round"/>
<line x1="1446.8" y1="692.5" x2="1458.0" y2="695.8" stroke="#95a92c" stroke-width="5.1" stroke-linecap="round"/>
<line x1="1208.0" y1="730.8" x2="1210.5" y2="731.5" stroke="#95a92c" stroke-width="5.1" stroke-linecap="round"/>
<line x1="1214.2" y1="734.5" x2="1229.2" y2="734.5" stroke="#95a92c" stroke-width="6.0" stroke-linecap="round"/>
<line x1="1440.5" y1="744.5" x2="1441.8" y2="744.5" stroke="#95a92c" stroke-width="6.0" stroke-linecap="round"/>
<line x1="1431.8" y1="762.0" x2="1434.2" y2="768.2" stroke="#95a92c" stroke-width="5.1" stroke-linecap="round"/>
<line x1="1229.2" y1="782.8" x2="1233.0" y2="782.8" stroke="#95a92c" stroke-width="5.1" stroke-linecap="round"/>
<line x1="1424.2" y1="787.0" x2="1425.5" y2="787.0" stroke="#95a92c" stroke-width="6.0" stroke-linecap="round"/>
<line x1="1415.5" y1="913.2" x2="1420.5" y2="915.0" stroke="#95a92c" stroke-width="5.1" stroke-linecap="round"/>
<line x1="1238.0" y1="944.5" x2="1240.0" y2="948.2" stroke="#95a92c" stroke-width="5.1" stroke-linecap="round"/>
<line x1="1286.8" y1="959.5" x2="1295.5" y2="960.8" stroke="#95a92c" stroke-width="6.0" stroke-linecap="round"/>
<line x1="1303.0" y1="959.5" x2="1305.5" y2="956.5" stroke="#95a92c" stroke-width="5.1" stroke-linecap="round"/>
<line x1="1405.5" y1="962.8" x2="1406.8" y2="962.8" stroke="#95a92c" stroke-width="6.0" stroke-linecap="round"/>
<line x1="1431.8" y1="974.5" x2="1433.5" y2="976.5" stroke="#95a92c" stroke-width="5.1" stroke-linecap="round"/>
<line x1="1389.2" y1="987.5" x2="1393.0" y2="992.0" stroke="#95a92c" stroke-width="5.1" stroke-linecap="round"/>
<line x1="1438.0" y1="989.0" x2="1439.2" y2="989.0" stroke="#95a92c" stroke-width="6.0" stroke-linecap="round"/>

<polyline points="1243.0,1021.8 1258.0,1026.8 1268.0,1028.0" fill="none" stroke="#95a92c" stroke-width="5.1" stroke-linecap="round" stroke-linejoin="round"/>
<polyline points="1265.5,1026.8 1275.5,1043.0" fill="none" stroke="#95a92c" stroke-width="5.1" stroke-linecap="round" stroke-linejoin="round"/>
<polyline points="1276.8,1028.0 1284.2,1040.5" fill="none" stroke="#95a92c" stroke-width="5.1" stroke-linecap="round" stroke-linejoin="round"/>
<polyline points="1291.8,1043.0 1298.0,1049.2 1308.0,1056.8 1318.0,1063.0 1328.0,1066.8 1338.0,1071.8 1350.5,1076.8 1360.5,1083.0 1370.5,1088.0 1383.0,1086.8 1389.2,1087.5" fill="none" stroke="#95a92c" stroke-width="5.1" stroke-linecap="round" stroke-linejoin="round"/>
<polyline points="1360.5,1083.0 1373.0,1096.8" fill="none" stroke="#95a92c" stroke-width="5.1" stroke-linecap="round" stroke-linejoin="round"/>
<polyline points="1380.5,1090.5 1388.0,1104.2" fill="none" stroke="#95a92c" stroke-width="5.1" stroke-linecap="round" stroke-linejoin="round"/>
<polyline points="1378.8,1108.0 1390.5,1119.2 1408.0,1124.2 1420.5,1131.8 1433.0,1136.8 1445.5,1141.8 1458.0,1145.5 1468.0,1153.0 1476.8,1154.2 1485.5,1159.2" fill="none" stroke="#95a92c" stroke-width="5.1" stroke-linecap="round" stroke-linejoin="round"/>
<line x1="1456.8" y1="1045.5" x2="1458.0" y2="1045.5" stroke="#95a92c" stroke-width="6.0" stroke-linecap="round"/>
<line x1="1485.5" y1="1145.5" x2="1485.5" y2="1150.5" stroke="#95a92c" stroke-width="5.1" stroke-linecap="round"/>
<line x1="292.0" y1="21.5" x2="607.0" y2="21.5" stroke="#95a92c" stroke-width="3.8" stroke-linecap="round"/>
<line x1="770.0" y1="21.5" x2="802.0" y2="21.5" stroke="#95a92c" stroke-width="3.8" stroke-linecap="round"/>
<line x1="806.0" y1="21.5" x2="844.0" y2="21.5" stroke="#95a92c" stroke-width="3.8" stroke-linecap="round"/>
<line x1="847.0" y1="21.5" x2="1123.0" y2="21.5" stroke="#95a92c" stroke-width="3.8" stroke-linecap="round"/>
<line x1="1129.0" y1="21.5" x2="1185.0" y2="21.5" stroke="#95a92c" stroke-width="3.8" stroke-linecap="round"/>
<line x1="1185.0" y1="21.5" x2="1289.0" y2="21.5" stroke="#95a92c" stroke-width="3.8" stroke-linecap="round"/>
<line x1="1294.0" y1="21.5" x2="1484.0" y2="21.5" stroke="#95a92c" stroke-width="3.8" stroke-linecap="round"/>
<circle cx="397.5" cy="190.0" r="15" fill="#054850"/>
<circle cx="397.5" cy="26.2" r="15" fill="#e32d00"/>
<circle cx="452.0" cy="22.0" r="15" fill="#e32d00"/>
<circle cx="397.5" cy="193.8" r="15" fill="#e32d00"/>
<circle cx="1211.8" cy="22.0" r="15" fill="#e32d00"/>
<circle cx="1368.0" cy="23.0" r="15" fill="#e3a000"/>
<circle cx="1383.0" cy="21.2" r="15" fill="#e3a000"/>
<circle cx="1373.5" cy="27.0" r="15" fill="#e3a000"/>
<circle cx="1385.0" cy="25.0" r="15" fill="#e3a000"/>
<circle cx="1486.0" cy="21.2" r="15" fill="#054850"/>
<circle cx="1486.0" cy="26.2" r="15" fill="#e32d00"/>
<circle cx="1486.0" cy="172.5" r="15" fill="#e32d00"/>
<circle cx="1486.0" cy="192.0" r="15" fill="#054850"/>
<circle cx="1486.0" cy="210.8" r="15" fill="#e32d00"/>
<circle cx="1371.8" cy="193.0" r="15" fill="#2e80b0"/>
<circle cx="1373.8" cy="195.5" r="15" fill="#e3a000"/>
<circle cx="1377.0" cy="222.5" r="15" fill="#e27812"/>
<circle cx="1381.8" cy="219.0" r="15" fill="#2e80b0"/>
<circle cx="1386.0" cy="219.0" r="15" fill="#2e80b0"/>
<circle cx="397.5" cy="348.5" r="15" fill="#054850"/>
<circle cx="452.0" cy="433.5" r="15" fill="#e32d00"/>
<circle cx="452.0" cy="439.8" r="15" fill="#054850"/>
<circle cx="1211.4" cy="340.7" r="15" fill="#054850"/>
<circle cx="1211.4" cy="342.3" r="15" fill="#e32d00"/>
<circle cx="1371.0" cy="338.0" r="15" fill="#2e80b0"/>
<circle cx="1366.0" cy="341.0" r="15" fill="#e3a000"/>
<circle cx="1372.0" cy="350.0" r="15" fill="#2e80b0"/>
<circle cx="1378.0" cy="337.0" r="15" fill="#2e80b0"/>
<circle cx="1383.0" cy="342.0" r="15" fill="#e3a000"/>
<circle cx="1364.2" cy="434.8" r="15" fill="#e3a000"/>
<circle cx="1364.2" cy="439.8" r="15" fill="#2e80b0"/>
<circle cx="1378.8" cy="1107.2" r="12.5" fill="#27759c"/>
<path d="M196.9,33.8a2.6,2.6 0 1,0 5.2,0a2.6,2.6 0 1,0 -5.2,0M196.4,37.5a2.6,2.6 0 1,0 5.2,0a2.6,2.6 0 1,0 -5.2,0M281.1,106.2a2.6,2.6 0 1,0 5.2,0a2.6,2.6 0 1,0 -5.2,0M299.9,101.8a2.6,2.6 0 1,0 5.2,0a2.6,2.6 0 1,0 -5.2,0M303.6,101.8a2.6,2.6 0 1,0 5.2,0a2.6,2.6 0 1,0 -5.2,0M311.1,100.0a2.6,2.6 0 1,0 5.2,0a2.6,2.6 0 1,0 -5.2,0M313.6,98.0a2.6,2.6 0 1,0 5.2,0a2.6,2.6 0 1,0 -5.2,0M324.9,101.8a2.6,2.6 0 1,0 5.2,0a2.6,2.6 0 1,0 -5.2,0M414.9,101.8a2.6,2.6 0 1,0 5.2,0a2.6,2.6 0 1,0 -5.2,0M444.9,98.8a2.6,2.6 0 1,0 5.2,0a2.6,2.6 0 1,0 -5.2,0M459.9,98.8a2.6,2.6 0 1,0 5.2,0a2.6,2.6 0 1,0 -5.2,0M463.6,98.8a2.6,2.6 0 1,0 5.2,0a2.6,2.6 0 1,0 -5.2,0M469.9,98.8a2.6,2.6 0 1,0 5.2,0a2.6,2.6 0 1,0 -5.2,0M507.4,98.8a2.6,2.6 0 1,0 5.2,0a2.6,2.6 0 1,0 -5.2,0M269.9,41.2a2.6,2.6 0 1,0 5.2,0a2.6,2.6 0 1,0 -5.2,0M287.4,42.0a2.6,2.6 0 1,0 5.2,0a2.6,2.6 0 1,0 -5.2,0M292.4,38.8a2.6,2.6 0 1,0 5.2,0a2.6,2.6 0 1,0 -5.2,0M299.9,37.5a2.6,2.6 0 1,0 5.2,0a2.6,2.6 0 1,0 -5.2,0M299.9,40.0a2.6,2.6 0 1,0 5.2,0a2.6,2.6 0 1,0 -5.2,0M311.1,36.2a2.6,2.6 0 1,0 5.2,0a2.6,2.6 0 1,0 -5.2,0M309.9,40.0a2.6,2.6 0 1,0 5.2,0a2.6,2.6 0 1,0 -5.2,0M337.4,42.0a2.6,2.6 0 1,0 5.2,0a2.6,2.6 0 1,0 -5.2,0M377.4,39.5a2.6,2.6 0 1,0 5.2,0a2.6,2.6 0 1,0 -5.2,0M399.9,42.0a2.6,2.6 0 1,0 5.2,0a2.6,2.6 0 1,0 -5.2,0M414.9,41.2a2.6,2.6 0 1,0 5.2,0a2.6,2.6 0 1,0 -5.2,0M422.4,42.0a2.6,2.6 0 1,0 5.2,0a2.6,2.6 0 1,0 -5.2,0M441.1,42.0a2.6,2.6 0 1,0 5.2,0a2.6,2.6 0 1,0 -5.2,0M454.9,37.5a2.6,2.6 0 1,0 5.2,0a2.6,2.6 0 1,0 -5.2,0M474.9,42.0a2.6,2.6 0 1,0 5.2,0a2.6,2.6 0 1,0 -5.2,0M479.9,35.0a2.6,2.6 0 1,0 5.2,0a2.6,2.6 0 1,0 -5.2,0M486.1,42.0a2.6,2.6 0 1,0 5.2,0a2.6,2.6 0 1,0 -5.2,0M491.1,42.0a2.6,2.6 0 1,0 5.2,0a2.6,2.6 0 1,0 -5.2,0M498.6,42.0a2.6,2.6 0 1,0 5.2,0a2.6,2.6 0 1,0 -5.2,0M223.7,32.0a2.6,2.6 0 1,0 5.2,0a2.6,2.6 0 1,0 -5.2,0M223.7,40.0a2.6,2.6 0 1,0 5.2,0a2.6,2.6 0 1,0 -5.2,0M399.9,36.2a2.6,2.6 0 1,0 5.2,0a2.6,2.6 0 1,0 -5.2,0M453.6,36.2a2.6,2.6 0 1,0 5.2,0a2.6,2.6 0 1,0 -5.2,0M294.9,148.0a2.6,2.6 0 1,0 5.2,0a2.6,2.6 0 1,0 -5.2,0M377.4,145.5a2.6,2.6 0 1,0 5.2,0a2.6,2.6 0 1,0 -5.2,0M303.6,172.5a2.6,2.6 0 1,0 5.2,0a2.6,2.6 0 1,0 -5.2,0M326.1,172.5a2.6,2.6 0 1,0 5.2,0a2.6,2.6 0 1,0 -5.2,0M352.4,172.5a2.6,2.6 0 1,0 5.2,0a2.6,2.6 0 1,0 -5.2,0M357.4,172.5a2.6,2.6 0 1,0 5.2,0a2.6,2.6 0 1,0 -5.2,0M367.4,172.5a2.6,2.6 0 1,0 5.2,0a2.6,2.6 0 1,0 -5.2,0M422.4,172.5a2.6,2.6 0 1,0 5.2,0a2.6,2.6 0 1,0 -5.2,0M476.1,172.5a2.6,2.6 0 1,0 5.2,0a2.6,2.6 0 1,0 -5.2,0M493.6,172.5a2.6,2.6 0 1,0 5.2,0a2.6,2.6 0 1,0 -5.2,0M508.6,172.5a2.6,2.6 0 1,0 5.2,0a2.6,2.6 0 1,0 -5.2,0M302.4,192.0a2.6,2.6 0 1,0 5.2,0a2.6,2.6 0 1,0 -5.2,0M311.1,192.0a2.6,2.6 0 1,0 5.2,0a2.6,2.6 0 1,0 -5.2,0M366.1,194.5a2.6,2.6 0 1,0 5.2,0a2.6,2.6 0 1,0 -5.2,0M384.9,192.0a2.6,2.6 0 1,0 5.2,0a2.6,2.6 0 1,0 -5.2,0M406.1,185.5a2.6,2.6 0 1,0 5.2,0a2.6,2.6 0 1,0 -5.2,0M414.9,193.8a2.6,2.6 0 1,0 5.2,0a2.6,2.6 0 1,0 -5.2,0M417.4,200.0a2.6,2.6 0 1,0 5.2,0a2.6,2.6 0 1,0 -5.2,0M429.9,196.2a2.6,2.6 0 1,0 5.2,0a2.6,2.6 0 1,0 -5.2,0M478.6,196.2a2.6,2.6 0 1,0 5.2,0a2.6,2.6 0 1,0 -5.2,0M309.9,210.0a2.6,2.6 0 1,0 5.2,0a2.6,2.6 0 1,0 -5.2,0M357.4,207.5a2.6,2.6 0 1,0 5.2,0a2.6,2.6 0 1,0 -5.2,0M402.4,204.5a2.6,2.6 0 1,0 5.2,0a2.6,2.6 0 1,0 -5.2,0M408.6,216.5a2.6,2.6 0 1,0 5.2,0a2.6,2.6 0 1,0 -5.2,0M424.9,210.8a2.6,2.6 0 1,0 5.2,0a2.6,2.6 0 1,0 -5.2,0M432.4,210.8a2.6,2.6 0 1,0 5.2,0a2.6,2.6 0 1,0 -5.2,0M468.6,204.5a2.6,2.6 0 1,0 5.2,0a2.6,2.6 0 1,0 -5.2,0M358.6,216.5a2.6,2.6 0 1,0 5.2,0a2.6,2.6 0 1,0 -5.2,0M358.6,225.0a2.6,2.6 0 1,0 5.2,0a2.6,2.6 0 1,0 -5.2,0M383.6,232.5a2.6,2.6 0 1,0 5.2,0a2.6,2.6 0 1,0 -5.2,0M376.1,247.5a2.6,2.6 0 1,0 5.2,0a2.6,2.6 0 1,0 -5.2,0M327.4,230.0a2.6,2.6 0 1,0 5.2,0a2.6,2.6 0 1,0 -5.2,0M331.1,230.0a2.6,2.6 0 1,0 5.2,0a2.6,2.6 0 1,0 -5.2,0M417.4,224.5a2.6,2.6 0 1,0 5.2,0a2.6,2.6 0 1,0 -5.2,0M451.1,224.5a2.6,2.6 0 1,0 5.2,0a2.6,2.6 0 1,0 -5.2,0M457.4,225.0a2.6,2.6 0 1,0 5.2,0a2.6,2.6 0 1,0 -5.2,0M481.1,230.0a2.6,2.6 0 1,0 5.2,0a2.6,2.6 0 1,0 -5.2,0M506.1,230.0a2.6,2.6 0 1,0 5.2,0a2.6,2.6 0 1,0 -5.2,0M367.4,267.0a2.6,2.6 0 1,0 5.2,0a2.6,2.6 0 1,0 -5.2,0M424.9,262.5a2.6,2.6 0 1,0 5.2,0a2.6,2.6 0 1,0 -5.2,0M446.1,262.5a2.6,2.6 0 1,0 5.2,0a2.6,2.6 0 1,0 -5.2,0M458.6,266.2a2.6,2.6 0 1,0 5.2,0a2.6,2.6 0 1,0 -5.2,0M436.1,268.8a2.6,2.6 0 1,0 5.2,0a2.6,2.6 0 1,0 -5.2,0M442.4,275.0a2.6,2.6 0 1,0 5.2,0a2.6,2.6 0 1,0 -5.2,0M446.1,278.8a2.6,2.6 0 1,0 5.2,0a2.6,2.6 0 1,0 -5.2,0M444.9,281.2a2.6,2.6 0 1,0 5.2,0a2.6,2.6 0 1,0 -5.2,0M442.4,287.5a2.6,2.6 0 1,0 5.2,0a2.6,2.6 0 1,0 -5.2,0M418.6,281.2a2.6,2.6 0 1,0 5.2,0a2.6,2.6 0 1,0 -5.2,0M427.4,281.2a2.6,2.6 0 1,0 5.2,0a2.6,2.6 0 1,0 -5.2,0M458.6,281.2a2.6,2.6 0 1,0 5.2,0a2.6,2.6 0 1,0 -5.2,0M473.6,281.2a2.6,2.6 0 1,0 5.2,0a2.6,2.6 0 1,0 -5.2,0M482.4,281.2a2.6,2.6 0 1,0 5.2,0a2.6,2.6 0 1,0 -5.2,0M488.6,281.2a2.6,2.6 0 1,0 5.2,0a2.6,2.6 0 1,0 -5.2,0M492.4,272.5a2.6,2.6 0 1,0 5.2,0a2.6,2.6 0 1,0 -5.2,0M491.1,291.2a2.6,2.6 0 1,0 5.2,0a2.6,2.6 0 1,0 -5.2,0M492.4,295.0a2.6,2.6 0 1,0 5.2,0a2.6,2.6 0 1,0 -5.2,0M523.6,281.2a2.6,2.6 0 1,0 5.2,0a2.6,2.6 0 1,0 -5.2,0M347.4,276.2a2.6,2.6 0 1,0 5.2,0a2.6,2.6 0 1,0 -5.2,0M349.9,280.0a2.6,2.6 0 1,0 5.2,0a2.6,2.6 0 1,0 -5.2,0M354.9,280.0a2.6,2.6 0 1,0 5.2,0a2.6,2.6 0 1,0 -5.2,0M369.9,280.0a2.6,2.6 0 1,0 5.2,0a2.6,2.6 0 1,0 -5.2,0M384.9,278.8a2.6,2.6 0 1,0 5.2,0a2.6,2.6 0 1,0 -5.2,0M349.9,288.8a2.6,2.6 0 1,0 5.2,0a2.6,2.6 0 1,0 -5.2,0M357.4,288.8a2.6,2.6 0 1,0 5.2,0a2.6,2.6 0 1,0 -5.2,0M368.6,298.8a2.6,2.6 0 1,0 5.2,0a2.6,2.6 0 1,0 -5.2,0M373.6,311.2a2.6,2.6 0 1,0 5.2,0a2.6,2.6 0 1,0 -5.2,0M382.4,312.5a2.6,2.6 0 1,0 5.2,0a2.6,2.6 0 1,0 -5.2,0M418.6,308.8a2.6,2.6 0 1,0 5.2,0a2.6,2.6 0 1,0 -5.2,0M429.9,306.2a2.6,2.6 0 1,0 5.2,0a2.6,2.6 0 1,0 -5.2,0M409.9,327.5a2.6,2.6 0 1,0 5.2,0a2.6,2.6 0 1,0 -5.2,0M483.6,328.8a2.6,2.6 0 1,0 5.2,0a2.6,2.6 0 1,0 -5.2,0" fill="#95a92c"/>
<circle cx="335.0" cy="27.5" r="4" fill="#a9a520"/>
<circle cx="337.5" cy="23.8" r="4" fill="#a9a520"/>
<circle cx="435.0" cy="42.0" r="4" fill="#7c9f50"/>
<circle cx="337.0" cy="172.5" r="4.5" fill="#a9a520"/>
<circle cx="381.2" cy="172.5" r="3.5" fill="#a9a520"/>
<circle cx="335.0" cy="192.0" r="4" fill="#7c9f50"/>
<circle cx="436.2" cy="185.5" r="4" fill="#a9a520"/>
<circle cx="337.0" cy="278.0" r="4" fill="#7c9f50"/>
<circle cx="481.2" cy="277.5" r="3.5" fill="#a9a520"/>
<circle cx="336.2" cy="210.0" r="4" fill="#a9a520"/>
<path d="M535.9,31.2a2.6,2.6 0 1,0 5.2,0a2.6,2.6 0 1,0 -5.2,0M564.6,30.0a2.6,2.6 0 1,0 5.2,0a2.6,2.6 0 1,0 -5.2,0M548.4,36.2a2.6,2.6 0 1,0 5.2,0a2.6,2.6 0 1,0 -5.2,0M554.6,36.2a2.6,2.6 0 1,0 5.2,0a2.6,2.6 0 1,0 -5.2,0M528.4,42.0a2.6,2.6 0 1,0 5.2,0a2.6,2.6 0 1,0 -5.2,0M535.9,42.0a2.6,2.6 0 1,0 5.2,0a2.6,2.6 0 1,0 -5.2,0M563.4,41.2a2.6,2.6 0 1,0 5.2,0a2.6,2.6 0 1,0 -5.2,0M574.6,42.0a2.6,2.6 0 1,0 5.2,0a2.6,2.6 0 1,0 -5.2,0M608.4,17.0a2.6,2.6 0 1,0 5.2,0a2.6,2.6 0 1,0 -5.2,0M610.9,43.8a2.6,2.6 0 1,0 5.2,0a2.6,2.6 0 1,0 -5.2,0M612.1,46.2a2.6,2.6 0 1,0 5.2,0a2.6,2.6 0 1,0 -5.2,0M542.1,98.8a2.6,2.6 0 1,0 5.2,0a2.6,2.6 0 1,0 -5.2,0M563.4,100.0a2.6,2.6 0 1,0 5.2,0a2.6,2.6 0 1,0 -5.2,0M573.4,98.8a2.6,2.6 0 1,0 5.2,0a2.6,2.6 0 1,0 -5.2,0M687.1,42.0a2.6,2.6 0 1,0 5.2,0a2.6,2.6 0 1,0 -5.2,0M777.1,36.2a2.6,2.6 0 1,0 5.2,0a2.6,2.6 0 1,0 -5.2,0M780.9,42.0a2.6,2.6 0 1,0 5.2,0a2.6,2.6 0 1,0 -5.2,0M829.6,35.0a2.6,2.6 0 1,0 5.2,0a2.6,2.6 0 1,0 -5.2,0M830.9,37.0a2.6,2.6 0 1,0 5.2,0a2.6,2.6 0 1,0 -5.2,0M838.4,36.2a2.6,2.6 0 1,0 5.2,0a2.6,2.6 0 1,0 -5.2,0M834.6,42.0a2.6,2.6 0 1,0 5.2,0a2.6,2.6 0 1,0 -5.2,0M854.6,42.0a2.6,2.6 0 1,0 5.2,0a2.6,2.6 0 1,0 -5.2,0M863.4,42.0a2.6,2.6 0 1,0 5.2,0a2.6,2.6 0 1,0 -5.2,0M849.6,28.8a2.6,2.6 0 1,0 5.2,0a2.6,2.6 0 1,0 -5.2,0M830.9,26.2a2.6,2.6 0 1,0 5.2,0a2.6,2.6 0 1,0 -5.2,0M840.9,26.2a2.6,2.6 0 1,0 5.2,0a2.6,2.6 0 1,0 -5.2,0M860.9,27.5a2.6,2.6 0 1,0 5.2,0a2.6,2.6 0 1,0 -5.2,0M775.9,98.8a2.6,2.6 0 1,0 5.2,0a2.6,2.6 0 1,0 -5.2,0M797.1,101.8a2.6,2.6 0 1,0 5.2,0a2.6,2.6 0 1,0 -5.2,0M832.6,98.8a2.6,2.6 0 1,0 5.2,0a2.6,2.6 0 1,0 -5.2,0M598.4,137.5a2.6,2.6 0 1,0 5.2,0a2.6,2.6 0 1,0 -5.2,0M605.9,172.5a2.6,2.6 0 1,0 5.2,0a2.6,2.6 0 1,0 -5.2,0M612.6,180.0a2.6,2.6 0 1,0 5.2,0a2.6,2.6 0 1,0 -5.2,0M530.9,172.5a2.6,2.6 0 1,0 5.2,0a2.6,2.6 0 1,0 -5.2,0M541.4,172.5a2.6,2.6 0 1,0 5.2,0a2.6,2.6 0 1,0 -5.2,0M552.1,172.5a2.6,2.6 0 1,0 5.2,0a2.6,2.6 0 1,0 -5.2,0M560.4,172.5a2.6,2.6 0 1,0 5.2,0a2.6,2.6 0 1,0 -5.2,0M569.6,172.5a2.6,2.6 0 1,0 5.2,0a2.6,2.6 0 1,0 -5.2,0M767.1,172.5a2.6,2.6 0 1,0 5.2,0a2.6,2.6 0 1,0 -5.2,0M772.1,172.5a2.6,2.6 0 1,0 5.2,0a2.6,2.6 0 1,0 -5.2,0M783.4,172.5a2.6,2.6 0 1,0 5.2,0a2.6,2.6 0 1,0 -5.2,0M785.9,172.5a2.6,2.6 0 1,0 5.2,0a2.6,2.6 0 1,0 -5.2,0M794.6,172.5a2.6,2.6 0 1,0 5.2,0a2.6,2.6 0 1,0 -5.2,0M817.1,172.5a2.6,2.6 0 1,0 5.2,0a2.6,2.6 0 1,0 -5.2,0M828.4,172.5a2.6,2.6 0 1,0 5.2,0a2.6,2.6 0 1,0 -5.2,0M830.9,172.5a2.6,2.6 0 1,0 5.2,0a2.6,2.6 0 1,0 -5.2,0M523.4,196.2a2.6,2.6 0 1,0 5.2,0a2.6,2.6 0 1,0 -5.2,0M529.6,192.0a2.6,2.6 0 1,0 5.2,0a2.6,2.6 0 1,0 -5.2,0M534.6,192.0a2.6,2.6 0 1,0 5.2,0a2.6,2.6 0 1,0 -5.2,0M542.1,192.0a2.6,2.6 0 1,0 5.2,0a2.6,2.6 0 1,0 -5.2,0M542.1,196.2a2.6,2.6 0 1,0 5.2,0a2.6,2.6 0 1,0 -5.2,0M550.9,196.2a2.6,2.6 0 1,0 5.2,0a2.6,2.6 0 1,0 -5.2,0M554.6,196.2a2.6,2.6 0 1,0 5.2,0a2.6,2.6 0 1,0 -5.2,0M558.4,188.8a2.6,2.6 0 1,0 5.2,0a2.6,2.6 0 1,0 -5.2,0M570.9,196.2a2.6,2.6 0 1,0 5.2,0a2.6,2.6 0 1,0 -5.2,0M590.9,195.0a2.6,2.6 0 1,0 5.2,0a2.6,2.6 0 1,0 -5.2,0M605.9,192.0a2.6,2.6 0 1,0 5.2,0a2.6,2.6 0 1,0 -5.2,0M770.9,192.0a2.6,2.6 0 1,0 5.2,0a2.6,2.6 0 1,0 -5.2,0M773.4,190.0a2.6,2.6 0 1,0 5.2,0a2.6,2.6 0 1,0 -5.2,0M778.4,196.2a2.6,2.6 0 1,0 5.2,0a2.6,2.6 0 1,0 -5.2,0M790.9,196.2a2.6,2.6 0 1,0 5.2,0a2.6,2.6 0 1,0 -5.2,0M803.4,195.0a2.6,2.6 0 1,0 5.2,0a2.6,2.6 0 1,0 -5.2,0M812.1,196.2a2.6,2.6 0 1,0 5.2,0a2.6,2.6 0 1,0 -5.2,0M819.6,185.0a2.6,2.6 0 1,0 5.2,0a2.6,2.6 0 1,0 -5.2,0M823.4,186.2a2.6,2.6 0 1,0 5.2,0a2.6,2.6 0 1,0 -5.2,0M818.4,190.0a2.6,2.6 0 1,0 5.2,0a2.6,2.6 0 1,0 -5.2,0M827.1,192.0a2.6,2.6 0 1,0 5.2,0a2.6,2.6 0 1,0 -5.2,0M825.9,196.2a2.6,2.6 0 1,0 5.2,0a2.6,2.6 0 1,0 -5.2,0M842.1,192.5a2.6,2.6 0 1,0 5.2,0a2.6,2.6 0 1,0 -5.2,0M840.9,196.2a2.6,2.6 0 1,0 5.2,0a2.6,2.6 0 1,0 -5.2,0M848.4,196.2a2.6,2.6 0 1,0 5.2,0a2.6,2.6 0 1,0 -5.2,0M863.4,192.5a2.6,2.6 0 1,0 5.2,0a2.6,2.6 0 1,0 -5.2,0M529.6,210.8a2.6,2.6 0 1,0 5.2,0a2.6,2.6 0 1,0 -5.2,0M534.6,210.8a2.6,2.6 0 1,0 5.2,0a2.6,2.6 0 1,0 -5.2,0M542.1,210.8a2.6,2.6 0 1,0 5.2,0a2.6,2.6 0 1,0 -5.2,0M567.1,204.5a2.6,2.6 0 1,0 5.2,0a2.6,2.6 0 1,0 -5.2,0M604.6,204.5a2.6,2.6 0 1,0 5.2,0a2.6,2.6 0 1,0 -5.2,0M605.9,210.8a2.6,2.6 0 1,0 5.2,0a2.6,2.6 0 1,0 -5.2,0M617.1,205.5a2.6,2.6 0 1,0 5.2,0a2.6,2.6 0 1,0 -5.2,0M772.1,210.8a2.6,2.6 0 1,0 5.2,0a2.6,2.6 0 1,0 -5.2,0M823.4,210.8a2.6,2.6 0 1,0 5.2,0a2.6,2.6 0 1,0 -5.2,0M828.4,210.8a2.6,2.6 0 1,0 5.2,0a2.6,2.6 0 1,0 -5.2,0M530.9,223.8a2.6,2.6 0 1,0 5.2,0a2.6,2.6 0 1,0 -5.2,0M533.4,225.8a2.6,2.6 0 1,0 5.2,0a2.6,2.6 0 1,0 -5.2,0M573.4,225.8a2.6,2.6 0 1,0 5.2,0a2.6,2.6 0 1,0 -5.2,0M602.1,225.8a2.6,2.6 0 1,0 5.2,0a2.6,2.6 0 1,0 -5.2,0M604.6,223.8a2.6,2.6 0 1,0 5.2,0a2.6,2.6 0 1,0 -5.2,0M617.9,223.2a2.6,2.6 0 1,0 5.2,0a2.6,2.6 0 1,0 -5.2,0M792.1,225.0a2.6,2.6 0 1,0 5.2,0a2.6,2.6 0 1,0 -5.2,0M797.1,218.2a2.6,2.6 0 1,0 5.2,0a2.6,2.6 0 1,0 -5.2,0M825.9,225.0a2.6,2.6 0 1,0 5.2,0a2.6,2.6 0 1,0 -5.2,0M829.6,225.0a2.6,2.6 0 1,0 5.2,0a2.6,2.6 0 1,0 -5.2,0M847.1,225.0a2.6,2.6 0 1,0 5.2,0a2.6,2.6 0 1,0 -5.2,0M523.4,260.0a2.6,2.6 0 1,0 5.2,0a2.6,2.6 0 1,0 -5.2,0M528.4,271.2a2.6,2.6 0 1,0 5.2,0a2.6,2.6 0 1,0 -5.2,0M534.6,297.5a2.6,2.6 0 1,0 5.2,0a2.6,2.6 0 1,0 -5.2,0M568.4,285.0a2.6,2.6 0 1,0 5.2,0a2.6,2.6 0 1,0 -5.2,0M570.9,286.2a2.6,2.6 0 1,0 5.2,0a2.6,2.6 0 1,0 -5.2,0M605.9,282.0a2.6,2.6 0 1,0 5.2,0a2.6,2.6 0 1,0 -5.2,0M615.9,270.5a2.6,2.6 0 1,0 5.2,0a2.6,2.6 0 1,0 -5.2,0M619.1,283.0a2.6,2.6 0 1,0 5.2,0a2.6,2.6 0 1,0 -5.2,0M620.1,303.8a2.6,2.6 0 1,0 5.2,0a2.6,2.6 0 1,0 -5.2,0M557.1,328.0a2.6,2.6 0 1,0 5.2,0a2.6,2.6 0 1,0 -5.2,0M562.1,328.8a2.6,2.6 0 1,0 5.2,0a2.6,2.6 0 1,0 -5.2,0M591.6,325.8a2.6,2.6 0 1,0 5.2,0a2.6,2.6 0 1,0 -5.2,0M540.4,339.2a2.6,2.6 0 1,0 5.2,0a2.6,2.6 0 1,0 -5.2,0M817.9,282.0a2.6,2.6 0 1,0 5.2,0a2.6,2.6 0 1,0 -5.2,0M811.4,290.0a2.6,2.6 0 1,0 5.2,0a2.6,2.6 0 1,0 -5.2,0M833.4,281.2a2.6,2.6 0 1,0 5.2,0a2.6,2.6 0 1,0 -5.2,0M837.1,278.8a2.6,2.6 0 1,0 5.2,0a2.6,2.6 0 1,0 -5.2,0M843.4,288.8a2.6,2.6 0 1,0 5.2,0a2.6,2.6 0 1,0 -5.2,0M843.4,292.5a2.6,2.6 0 1,0 5.2,0a2.6,2.6 0 1,0 -5.2,0M843.4,302.5a2.6,2.6 0 1,0 5.2,0a2.6,2.6 0 1,0 -5.2,0M860.9,307.0a2.6,2.6 0 1,0 5.2,0a2.6,2.6 0 1,0 -5.2,0M784.6,308.8a2.6,2.6 0 1,0 5.2,0a2.6,2.6 0 1,0 -5.2,0M788.4,309.5a2.6,2.6 0 1,0 5.2,0a2.6,2.6 0 1,0 -5.2,0M817.9,317.5a2.6,2.6 0 1,0 5.2,0a2.6,2.6 0 1,0 -5.2,0M829.6,317.5a2.6,2.6 0 1,0 5.2,0a2.6,2.6 0 1,0 -5.2,0M837.1,317.5a2.6,2.6 0 1,0 5.2,0a2.6,2.6 0 1,0 -5.2,0M783.4,337.5a2.6,2.6 0 1,0 5.2,0a2.6,2.6 0 1,0 -5.2,0M794.6,338.8a2.6,2.6 0 1,0 5.2,0a2.6,2.6 0 1,0 -5.2,0M827.1,339.2a2.6,2.6 0 1,0 5.2,0a2.6,2.6 0 1,0 -5.2,0M833.4,337.5a2.6,2.6 0 1,0 5.2,0a2.6,2.6 0 1,0 -5.2,0M842.1,339.2a2.6,2.6 0 1,0 5.2,0a2.6,2.6 0 1,0 -5.2,0M857.1,339.2a2.6,2.6 0 1,0 5.2,0a2.6,2.6 0 1,0 -5.2,0" fill="#95a92c"/>
<circle cx="787.2" cy="28.8" r="4" fill="#7c9f50"/>
<circle cx="798.5" cy="22.0" r="4" fill="#7c9f50"/>
<path d="M871.9,36.2a2.6,2.6 0 1,0 5.2,0a2.6,2.6 0 1,0 -5.2,0M864.4,42.0a2.6,2.6 0 1,0 5.2,0a2.6,2.6 0 1,0 -5.2,0M882.4,42.0a2.6,2.6 0 1,0 5.2,0a2.6,2.6 0 1,0 -5.2,0M893.1,42.0a2.6,2.6 0 1,0 5.2,0a2.6,2.6 0 1,0 -5.2,0M903.1,42.0a2.6,2.6 0 1,0 5.2,0a2.6,2.6 0 1,0 -5.2,0M919.4,40.0a2.6,2.6 0 1,0 5.2,0a2.6,2.6 0 1,0 -5.2,0M933.1,42.0a2.6,2.6 0 1,0 5.2,0a2.6,2.6 0 1,0 -5.2,0M938.1,42.5a2.6,2.6 0 1,0 5.2,0a2.6,2.6 0 1,0 -5.2,0M949.4,42.5a2.6,2.6 0 1,0 5.2,0a2.6,2.6 0 1,0 -5.2,0M965.6,42.0a2.6,2.6 0 1,0 5.2,0a2.6,2.6 0 1,0 -5.2,0M985.6,30.0a2.6,2.6 0 1,0 5.2,0a2.6,2.6 0 1,0 -5.2,0M1005.6,42.0a2.6,2.6 0 1,0 5.2,0a2.6,2.6 0 1,0 -5.2,0M1051.9,36.2a2.6,2.6 0 1,0 5.2,0a2.6,2.6 0 1,0 -5.2,0M1051.9,42.0a2.6,2.6 0 1,0 5.2,0a2.6,2.6 0 1,0 -5.2,0M1058.2,36.2a2.6,2.6 0 1,0 5.2,0a2.6,2.6 0 1,0 -5.2,0M1058.2,42.0a2.6,2.6 0 1,0 5.2,0a2.6,2.6 0 1,0 -5.2,0M1070.7,40.0a2.6,2.6 0 1,0 5.2,0a2.6,2.6 0 1,0 -5.2,0M1085.7,42.0a2.6,2.6 0 1,0 5.2,0a2.6,2.6 0 1,0 -5.2,0M1091.9,40.0a2.6,2.6 0 1,0 5.2,0a2.6,2.6 0 1,0 -5.2,0M1094.4,42.0a2.6,2.6 0 1,0 5.2,0a2.6,2.6 0 1,0 -5.2,0M1118.2,42.0a2.6,2.6 0 1,0 5.2,0a2.6,2.6 0 1,0 -5.2,0M1130.7,35.0a2.6,2.6 0 1,0 5.2,0a2.6,2.6 0 1,0 -5.2,0M1156.9,40.0a2.6,2.6 0 1,0 5.2,0a2.6,2.6 0 1,0 -5.2,0M1165.7,40.0a2.6,2.6 0 1,0 5.2,0a2.6,2.6 0 1,0 -5.2,0M1195.7,36.2a2.6,2.6 0 1,0 5.2,0a2.6,2.6 0 1,0 -5.2,0M1200.7,40.0a2.6,2.6 0 1,0 5.2,0a2.6,2.6 0 1,0 -5.2,0M873.1,98.8a2.6,2.6 0 1,0 5.2,0a2.6,2.6 0 1,0 -5.2,0M906.9,98.8a2.6,2.6 0 1,0 5.2,0a2.6,2.6 0 1,0 -5.2,0M931.4,98.8a2.6,2.6 0 1,0 5.2,0a2.6,2.6 0 1,0 -5.2,0M944.4,101.8a2.6,2.6 0 1,0 5.2,0a2.6,2.6 0 1,0 -5.2,0M954.9,98.8a2.6,2.6 0 1,0 5.2,0a2.6,2.6 0 1,0 -5.2,0M978.6,100.8a2.6,2.6 0 1,0 5.2,0a2.6,2.6 0 1,0 -5.2,0M987.6,98.8a2.6,2.6 0 1,0 5.2,0a2.6,2.6 0 1,0 -5.2,0M1061.9,101.8a2.6,2.6 0 1,0 5.2,0a2.6,2.6 0 1,0 -5.2,0M1135.7,98.8a2.6,2.6 0 1,0 5.2,0a2.6,2.6 0 1,0 -5.2,0M1155.7,98.8a2.6,2.6 0 1,0 5.2,0a2.6,2.6 0 1,0 -5.2,0M1158.2,101.8a2.6,2.6 0 1,0 5.2,0a2.6,2.6 0 1,0 -5.2,0M1200.7,101.8a2.6,2.6 0 1,0 5.2,0a2.6,2.6 0 1,0 -5.2,0M988.1,71.2a2.6,2.6 0 1,0 5.2,0a2.6,2.6 0 1,0 -5.2,0M986.9,120.8a2.6,2.6 0 1,0 5.2,0a2.6,2.6 0 1,0 -5.2,0M987.6,136.2a2.6,2.6 0 1,0 5.2,0a2.6,2.6 0 1,0 -5.2,0M988.1,150.8a2.6,2.6 0 1,0 5.2,0a2.6,2.6 0 1,0 -5.2,0M983.1,158.0a2.6,2.6 0 1,0 5.2,0a2.6,2.6 0 1,0 -5.2,0M971.9,146.8a2.6,2.6 0 1,0 5.2,0a2.6,2.6 0 1,0 -5.2,0M980.6,144.5a2.6,2.6 0 1,0 5.2,0a2.6,2.6 0 1,0 -5.2,0M953.6,157.5a2.6,2.6 0 1,0 5.2,0a2.6,2.6 0 1,0 -5.2,0M1070.7,136.2a2.6,2.6 0 1,0 5.2,0a2.6,2.6 0 1,0 -5.2,0M920.6,172.5a2.6,2.6 0 1,0 5.2,0a2.6,2.6 0 1,0 -5.2,0M924.4,172.5a2.6,2.6 0 1,0 5.2,0a2.6,2.6 0 1,0 -5.2,0M929.4,172.5a2.6,2.6 0 1,0 5.2,0a2.6,2.6 0 1,0 -5.2,0M936.9,172.5a2.6,2.6 0 1,0 5.2,0a2.6,2.6 0 1,0 -5.2,0M939.4,172.5a2.6,2.6 0 1,0 5.2,0a2.6,2.6 0 1,0 -5.2,0M965.1,172.5a2.6,2.6 0 1,0 5.2,0a2.6,2.6 0 1,0 -5.2,0M979.9,172.5a2.6,2.6 0 1,0 5.2,0a2.6,2.6 0 1,0 -5.2,0M998.1,172.5a2.6,2.6 0 1,0 5.2,0a2.6,2.6 0 1,0 -5.2,0M1004.4,172.5a2.6,2.6 0 1,0 5.2,0a2.6,2.6 0 1,0 -5.2,0M1096.9,172.5a2.6,2.6 0 1,0 5.2,0a2.6,2.6 0 1,0 -5.2,0M1160.7,171.2a2.6,2.6 0 1,0 5.2,0a2.6,2.6 0 1,0 -5.2,0M1204.4,172.5a2.6,2.6 0 1,0 5.2,0a2.6,2.6 0 1,0 -5.2,0M901.9,196.2a2.6,2.6 0 1,0 5.2,0a2.6,2.6 0 1,0 -5.2,0M918.1,196.2a2.6,2.6 0 1,0 5.2,0a2.6,2.6 0 1,0 -5.2,0M939.4,192.0a2.6,2.6 0 1,0 5.2,0a2.6,2.6 0 1,0 -5.2,0M943.1,193.8a2.6,2.6 0 1,0 5.2,0a2.6,2.6 0 1,0 -5.2,0M948.1,196.2a2.6,2.6 0 1,0 5.2,0a2.6,2.6 0 1,0 -5.2,0M951.9,192.0a2.6,2.6 0 1,0 5.2,0a2.6,2.6 0 1,0 -5.2,0M959.4,192.0a2.6,2.6 0 1,0 5.2,0a2.6,2.6 0 1,0 -5.2,0M965.6,192.0a2.6,2.6 0 1,0 5.2,0a2.6,2.6 0 1,0 -5.2,0M974.4,192.0a2.6,2.6 0 1,0 5.2,0a2.6,2.6 0 1,0 -5.2,0M979.9,192.0a2.6,2.6 0 1,0 5.2,0a2.6,2.6 0 1,0 -5.2,0M981.9,192.0a2.6,2.6 0 1,0 5.2,0a2.6,2.6 0 1,0 -5.2,0M989.4,196.2a2.6,2.6 0 1,0 5.2,0a2.6,2.6 0 1,0 -5.2,0M993.6,183.8a2.6,2.6 0 1,0 5.2,0a2.6,2.6 0 1,0 -5.2,0M998.1,192.0a2.6,2.6 0 1,0 5.2,0a2.6,2.6 0 1,0 -5.2,0M1003.1,192.0a2.6,2.6 0 1,0 5.2,0a2.6,2.6 0 1,0 -5.2,0M1006.9,197.0a2.6,2.6 0 1,0 5.2,0a2.6,2.6 0 1,0 -5.2,0M1011.9,193.0a2.6,2.6 0 1,0 5.2,0a2.6,2.6 0 1,0 -5.2,0M1014.4,197.0a2.6,2.6 0 1,0 5.2,0a2.6,2.6 0 1,0 -5.2,0M1019.4,193.0a2.6,2.6 0 1,0 5.2,0a2.6,2.6 0 1,0 -5.2,0M1021.9,197.0a2.6,2.6 0 1,0 5.2,0a2.6,2.6 0 1,0 -5.2,0M1028.2,193.0a2.6,2.6 0 1,0 5.2,0a2.6,2.6 0 1,0 -5.2,0M1029.4,197.0a2.6,2.6 0 1,0 5.2,0a2.6,2.6 0 1,0 -5.2,0M1034.4,193.0a2.6,2.6 0 1,0 5.2,0a2.6,2.6 0 1,0 -5.2,0M1036.9,197.0a2.6,2.6 0 1,0 5.2,0a2.6,2.6 0 1,0 -5.2,0M1040.7,193.0a2.6,2.6 0 1,0 5.2,0a2.6,2.6 0 1,0 -5.2,0M1043.9,197.0a2.6,2.6 0 1,0 5.2,0a2.6,2.6 0 1,0 -5.2,0M1049.4,193.0a2.6,2.6 0 1,0 5.2,0a2.6,2.6 0 1,0 -5.2,0M1061.9,185.0a2.6,2.6 0 1,0 5.2,0a2.6,2.6 0 1,0 -5.2,0M1064.4,190.0a2.6,2.6 0 1,0 5.2,0a2.6,2.6 0 1,0 -5.2,0M1069.4,185.5a2.6,2.6 0 1,0 5.2,0a2.6,2.6 0 1,0 -5.2,0M1074.4,196.2a2.6,2.6 0 1,0 5.2,0a2.6,2.6 0 1,0 -5.2,0M1096.9,192.0a2.6,2.6 0 1,0 5.2,0a2.6,2.6 0 1,0 -5.2,0M1115.7,196.2a2.6,2.6 0 1,0 5.2,0a2.6,2.6 0 1,0 -5.2,0M1133.2,196.2a2.6,2.6 0 1,0 5.2,0a2.6,2.6 0 1,0 -5.2,0M1149.4,193.8a2.6,2.6 0 1,0 5.2,0a2.6,2.6 0 1,0 -5.2,0M1153.2,196.2a2.6,2.6 0 1,0 5.2,0a2.6,2.6 0 1,0 -5.2,0M1160.7,193.0a2.6,2.6 0 1,0 5.2,0a2.6,2.6 0 1,0 -5.2,0M1176.9,196.2a2.6,2.6 0 1,0 5.2,0a2.6,2.6 0 1,0 -5.2,0M1186.9,192.0a2.6,2.6 0 1,0 5.2,0a2.6,2.6 0 1,0 -5.2,0M1196.9,196.2a2.6,2.6 0 1,0 5.2,0a2.6,2.6 0 1,0 -5.2,0M1200.7,192.0a2.6,2.6 0 1,0 5.2,0a2.6,2.6 0 1,0 -5.2,0M1204.4,190.0a2.6,2.6 0 1,0 5.2,0a2.6,2.6 0 1,0 -5.2,0M898.1,207.5a2.6,2.6 0 1,0 5.2,0a2.6,2.6 0 1,0 -5.2,0M906.9,209.5a2.6,2.6 0 1,0 5.2,0a2.6,2.6 0 1,0 -5.2,0M939.4,210.8a2.6,2.6 0 1,0 5.2,0a2.6,2.6 0 1,0 -5.2,0M945.6,210.8a2.6,2.6 0 1,0 5.2,0a2.6,2.6 0 1,0 -5.2,0M951.9,210.8a2.6,2.6 0 1,0 5.2,0a2.6,2.6 0 1,0 -5.2,0M959.4,210.8a2.6,2.6 0 1,0 5.2,0a2.6,2.6 0 1,0 -5.2,0M965.6,210.8a2.6,2.6 0 1,0 5.2,0a2.6,2.6 0 1,0 -5.2,0M974.4,210.8a2.6,2.6 0 1,0 5.2,0a2.6,2.6 0 1,0 -5.2,0M980.6,210.8a2.6,2.6 0 1,0 5.2,0a2.6,2.6 0 1,0 -5.2,0M992.4,204.5a2.6,2.6 0 1,0 5.2,0a2.6,2.6 0 1,0 -5.2,0M998.1,210.8a2.6,2.6 0 1,0 5.2,0a2.6,2.6 0 1,0 -5.2,0M1004.4,210.8a2.6,2.6 0 1,0 5.2,0a2.6,2.6 0 1,0 -5.2,0M1061.9,212.0a2.6,2.6 0 1,0 5.2,0a2.6,2.6 0 1,0 -5.2,0M1070.7,212.0a2.6,2.6 0 1,0 5.2,0a2.6,2.6 0 1,0 -5.2,0M1096.9,210.8a2.6,2.6 0 1,0 5.2,0a2.6,2.6 0 1,0 -5.2,0M1111.9,210.8a2.6,2.6 0 1,0 5.2,0a2.6,2.6 0 1,0 -5.2,0M1119.4,207.5a2.6,2.6 0 1,0 5.2,0a2.6,2.6 0 1,0 -5.2,0M1180.7,204.5a2.6,2.6 0 1,0 5.2,0a2.6,2.6 0 1,0 -5.2,0M1185.7,210.8a2.6,2.6 0 1,0 5.2,0a2.6,2.6 0 1,0 -5.2,0M1193.2,207.5a2.6,2.6 0 1,0 5.2,0a2.6,2.6 0 1,0 -5.2,0M993.1,224.5a2.6,2.6 0 1,0 5.2,0a2.6,2.6 0 1,0 -5.2,0M999.4,225.8a2.6,2.6 0 1,0 5.2,0a2.6,2.6 0 1,0 -5.2,0M1001.9,225.8a2.6,2.6 0 1,0 5.2,0a2.6,2.6 0 1,0 -5.2,0M1091.9,224.5a2.6,2.6 0 1,0 5.2,0a2.6,2.6 0 1,0 -5.2,0M1103.7,230.5a2.6,2.6 0 1,0 5.2,0a2.6,2.6 0 1,0 -5.2,0M1143.2,221.2a2.6,2.6 0 1,0 5.2,0a2.6,2.6 0 1,0 -5.2,0M1155.7,225.0a2.6,2.6 0 1,0 5.2,0a2.6,2.6 0 1,0 -5.2,0M1170.7,221.2a2.6,2.6 0 1,0 5.2,0a2.6,2.6 0 1,0 -5.2,0M1176.9,226.2a2.6,2.6 0 1,0 5.2,0a2.6,2.6 0 1,0 -5.2,0M1193.2,224.2a2.6,2.6 0 1,0 5.2,0a2.6,2.6 0 1,0 -5.2,0M1200.7,225.8a2.6,2.6 0 1,0 5.2,0a2.6,2.6 0 1,0 -5.2,0M983.9,232.5a2.6,2.6 0 1,0 5.2,0a2.6,2.6 0 1,0 -5.2,0M920.6,238.0a2.6,2.6 0 1,0 5.2,0a2.6,2.6 0 1,0 -5.2,0M920.6,255.5a2.6,2.6 0 1,0 5.2,0a2.6,2.6 0 1,0 -5.2,0M958.1,255.5a2.6,2.6 0 1,0 5.2,0a2.6,2.6 0 1,0 -5.2,0M959.4,260.0a2.6,2.6 0 1,0 5.2,0a2.6,2.6 0 1,0 -5.2,0M963.1,257.5a2.6,2.6 0 1,0 5.2,0a2.6,2.6 0 1,0 -5.2,0M971.9,252.5a2.6,2.6 0 1,0 5.2,0a2.6,2.6 0 1,0 -5.2,0M974.4,255.0a2.6,2.6 0 1,0 5.2,0a2.6,2.6 0 1,0 -5.2,0M980.6,250.0a2.6,2.6 0 1,0 5.2,0a2.6,2.6 0 1,0 -5.2,0M981.9,251.8a2.6,2.6 0 1,0 5.2,0a2.6,2.6 0 1,0 -5.2,0M986.9,261.8a2.6,2.6 0 1,0 5.2,0a2.6,2.6 0 1,0 -5.2,0M1183.2,242.0a2.6,2.6 0 1,0 5.2,0a2.6,2.6 0 1,0 -5.2,0M1179.9,248.2a2.6,2.6 0 1,0 5.2,0a2.6,2.6 0 1,0 -5.2,0M1181.9,260.8a2.6,2.6 0 1,0 5.2,0a2.6,2.6 0 1,0 -5.2,0M1176.9,263.8a2.6,2.6 0 1,0 5.2,0a2.6,2.6 0 1,0 -5.2,0M1175.7,266.2a2.6,2.6 0 1,0 5.2,0a2.6,2.6 0 1,0 -5.2,0M1159.9,262.5a2.6,2.6 0 1,0 5.2,0a2.6,2.6 0 1,0 -5.2,0M1159.9,266.2a2.6,2.6 0 1,0 5.2,0a2.6,2.6 0 1,0 -5.2,0M1143.9,271.8a2.6,2.6 0 1,0 5.2,0a2.6,2.6 0 1,0 -5.2,0M864.4,278.8a2.6,2.6 0 1,0 5.2,0a2.6,2.6 0 1,0 -5.2,0M873.1,281.2a2.6,2.6 0 1,0 5.2,0a2.6,2.6 0 1,0 -5.2,0M876.9,278.8a2.6,2.6 0 1,0 5.2,0a2.6,2.6 0 1,0 -5.2,0M893.9,278.8a2.6,2.6 0 1,0 5.2,0a2.6,2.6 0 1,0 -5.2,0M948.1,280.8a2.6,2.6 0 1,0 5.2,0a2.6,2.6 0 1,0 -5.2,0M950.6,280.8a2.6,2.6 0 1,0 5.2,0a2.6,2.6 0 1,0 -5.2,0M955.6,278.8a2.6,2.6 0 1,0 5.2,0a2.6,2.6 0 1,0 -5.2,0M969.4,280.8a2.6,2.6 0 1,0 5.2,0a2.6,2.6 0 1,0 -5.2,0M989.4,290.0a2.6,2.6 0 1,0 5.2,0a2.6,2.6 0 1,0 -5.2,0M894.4,300.0a2.6,2.6 0 1,0 5.2,0a2.6,2.6 0 1,0 -5.2,0M901.9,302.5a2.6,2.6 0 1,0 5.2,0a2.6,2.6 0 1,0 -5.2,0M901.9,307.0a2.6,2.6 0 1,0 5.2,0a2.6,2.6 0 1,0 -5.2,0M893.1,302.5a2.6,2.6 0 1,0 5.2,0a2.6,2.6 0 1,0 -5.2,0M868.1,312.5a2.6,2.6 0 1,0 5.2,0a2.6,2.6 0 1,0 -5.2,0M948.1,307.0a2.6,2.6 0 1,0 5.2,0a2.6,2.6 0 1,0 -5.2,0M948.1,313.2a2.6,2.6 0 1,0 5.2,0a2.6,2.6 0 1,0 -5.2,0M955.6,311.2a2.6,2.6 0 1,0 5.2,0a2.6,2.6 0 1,0 -5.2,0M968.1,313.2a2.6,2.6 0 1,0 5.2,0a2.6,2.6 0 1,0 -5.2,0M969.4,300.0a2.6,2.6 0 1,0 5.2,0a2.6,2.6 0 1,0 -5.2,0M994.4,312.5a2.6,2.6 0 1,0 5.2,0a2.6,2.6 0 1,0 -5.2,0M944.4,331.2a2.6,2.6 0 1,0 5.2,0a2.6,2.6 0 1,0 -5.2,0M873.1,339.2a2.6,2.6 0 1,0 5.2,0a2.6,2.6 0 1,0 -5.2,0M951.9,340.5a2.6,2.6 0 1,0 5.2,0a2.6,2.6 0 1,0 -5.2,0M960.6,340.0a2.6,2.6 0 1,0 5.2,0a2.6,2.6 0 1,0 -5.2,0M966.9,338.8a2.6,2.6 0 1,0 5.2,0a2.6,2.6 0 1,0 -5.2,0M1071.9,282.0a2.6,2.6 0 1,0 5.2,0a2.6,2.6 0 1,0 -5.2,0M1075.2,290.0a2.6,2.6 0 1,0 5.2,0a2.6,2.6 0 1,0 -5.2,0M1098.2,279.5a2.6,2.6 0 1,0 5.2,0a2.6,2.6 0 1,0 -5.2,0M1124.4,296.2a2.6,2.6 0 1,0 5.2,0a2.6,2.6 0 1,0 -5.2,0M1123.2,298.0a2.6,2.6 0 1,0 5.2,0a2.6,2.6 0 1,0 -5.2,0M1130.7,282.0a2.6,2.6 0 1,0 5.2,0a2.6,2.6 0 1,0 -5.2,0M1133.2,282.0a2.6,2.6 0 1,0 5.2,0a2.6,2.6 0 1,0 -5.2,0M1153.2,283.8a2.6,2.6 0 1,0 5.2,0a2.6,2.6 0 1,0 -5.2,0M1153.2,287.5a2.6,2.6 0 1,0 5.2,0a2.6,2.6 0 1,0 -5.2,0M1149.4,298.8a2.6,2.6 0 1,0 5.2,0a2.6,2.6 0 1,0 -5.2,0M1153.2,296.2a2.6,2.6 0 1,0 5.2,0a2.6,2.6 0 1,0 -5.2,0M1151.9,302.5a2.6,2.6 0 1,0 5.2,0a2.6,2.6 0 1,0 -5.2,0M1135.7,307.0a2.6,2.6 0 1,0 5.2,0a2.6,2.6 0 1,0 -5.2,0M1141.9,313.2a2.6,2.6 0 1,0 5.2,0a2.6,2.6 0 1,0 -5.2,0M1114.4,305.0a2.6,2.6 0 1,0 5.2,0a2.6,2.6 0 1,0 -5.2,0M1116.9,307.0a2.6,2.6 0 1,0 5.2,0a2.6,2.6 0 1,0 -5.2,0M1103.2,312.5a2.6,2.6 0 1,0 5.2,0a2.6,2.6 0 1,0 -5.2,0M1076.4,315.5a2.6,2.6 0 1,0 5.2,0a2.6,2.6 0 1,0 -5.2,0M1083.7,328.8a2.6,2.6 0 1,0 5.2,0a2.6,2.6 0 1,0 -5.2,0M1102.4,328.8a2.6,2.6 0 1,0 5.2,0a2.6,2.6 0 1,0 -5.2,0M1083.7,339.2a2.6,2.6 0 1,0 5.2,0a2.6,2.6 0 1,0 -5.2,0M1094.4,339.2a2.6,2.6 0 1,0 5.2,0a2.6,2.6 0 1,0 -5.2,0M1099.4,337.5a2.6,2.6 0 1,0 5.2,0a2.6,2.6 0 1,0 -5.2,0M1178.2,307.0a2.6,2.6 0 1,0 5.2,0a2.6,2.6 0 1,0 -5.2,0M1180.7,316.2a2.6,2.6 0 1,0 5.2,0a2.6,2.6 0 1,0 -5.2,0M1193.2,289.5a2.6,2.6 0 1,0 5.2,0a2.6,2.6 0 1,0 -5.2,0M1196.9,290.5a2.6,2.6 0 1,0 5.2,0a2.6,2.6 0 1,0 -5.2,0M1201.9,317.5a2.6,2.6 0 1,0 5.2,0a2.6,2.6 0 1,0 -5.2,0M1161.9,328.0a2.6,2.6 0 1,0 5.2,0a2.6,2.6 0 1,0 -5.2,0M1166.9,328.0a2.6,2.6 0 1,0 5.2,0a2.6,2.6 0 1,0 -5.2,0" fill="#95a92c"/>
<circle cx="899.5" cy="26.2" r="4" fill="#7c9f50"/>
<circle cx="1109.5" cy="22.0" r="4" fill="#7c9f50"/>
<circle cx="1173.2" cy="26.2" r="4" fill="#7c9f50"/>
<circle cx="1110.8" cy="42.5" r="5" fill="#a9a520"/>
<circle cx="1173.2" cy="192.0" r="4" fill="#7c9f50"/>
<circle cx="1187.0" cy="220.5" r="3.5" fill="#95a92c"/>
<path d="M1227.9,42.0a2.6,2.6 0 1,0 5.2,0a2.6,2.6 0 1,0 -5.2,0M1234.2,40.0a2.6,2.6 0 1,0 5.2,0a2.6,2.6 0 1,0 -5.2,0M1237.9,40.0a2.6,2.6 0 1,0 5.2,0a2.6,2.6 0 1,0 -5.2,0M1249.2,42.0a2.6,2.6 0 1,0 5.2,0a2.6,2.6 0 1,0 -5.2,0M1260.4,35.0a2.6,2.6 0 1,0 5.2,0a2.6,2.6 0 1,0 -5.2,0M1282.9,40.0a2.6,2.6 0 1,0 5.2,0a2.6,2.6 0 1,0 -5.2,0M1309.2,35.0a2.6,2.6 0 1,0 5.2,0a2.6,2.6 0 1,0 -5.2,0M1312.9,42.0a2.6,2.6 0 1,0 5.2,0a2.6,2.6 0 1,0 -5.2,0M1330.4,32.5a2.6,2.6 0 1,0 5.2,0a2.6,2.6 0 1,0 -5.2,0M1332.9,41.2a2.6,2.6 0 1,0 5.2,0a2.6,2.6 0 1,0 -5.2,0M1341.7,42.0a2.6,2.6 0 1,0 5.2,0a2.6,2.6 0 1,0 -5.2,0M1346.7,38.8a2.6,2.6 0 1,0 5.2,0a2.6,2.6 0 1,0 -5.2,0M1351.7,35.0a2.6,2.6 0 1,0 5.2,0a2.6,2.6 0 1,0 -5.2,0M1355.4,41.2a2.6,2.6 0 1,0 5.2,0a2.6,2.6 0 1,0 -5.2,0M1391.7,42.0a2.6,2.6 0 1,0 5.2,0a2.6,2.6 0 1,0 -5.2,0M1395.4,35.0a2.6,2.6 0 1,0 5.2,0a2.6,2.6 0 1,0 -5.2,0M1399.2,42.0a2.6,2.6 0 1,0 5.2,0a2.6,2.6 0 1,0 -5.2,0M1414.2,35.0a2.6,2.6 0 1,0 5.2,0a2.6,2.6 0 1,0 -5.2,0M1229.2,98.8a2.6,2.6 0 1,0 5.2,0a2.6,2.6 0 1,0 -5.2,0M1237.9,100.0a2.6,2.6 0 1,0 5.2,0a2.6,2.6 0 1,0 -5.2,0M1237.9,102.0a2.6,2.6 0 1,0 5.2,0a2.6,2.6 0 1,0 -5.2,0M1242.9,98.8a2.6,2.6 0 1,0 5.2,0a2.6,2.6 0 1,0 -5.2,0M1245.4,98.8a2.6,2.6 0 1,0 5.2,0a2.6,2.6 0 1,0 -5.2,0M1251.7,98.8a2.6,2.6 0 1,0 5.2,0a2.6,2.6 0 1,0 -5.2,0M1283.4,101.8a2.6,2.6 0 1,0 5.2,0a2.6,2.6 0 1,0 -5.2,0M1327.9,98.8a2.6,2.6 0 1,0 5.2,0a2.6,2.6 0 1,0 -5.2,0M1332.9,101.8a2.6,2.6 0 1,0 5.2,0a2.6,2.6 0 1,0 -5.2,0M1395.4,98.8a2.6,2.6 0 1,0 5.2,0a2.6,2.6 0 1,0 -5.2,0M1400.4,98.8a2.6,2.6 0 1,0 5.2,0a2.6,2.6 0 1,0 -5.2,0M1420.4,98.8a2.6,2.6 0 1,0 5.2,0a2.6,2.6 0 1,0 -5.2,0M1234.2,154.2a2.6,2.6 0 1,0 5.2,0a2.6,2.6 0 1,0 -5.2,0M1357.4,150.8a2.6,2.6 0 1,0 5.2,0a2.6,2.6 0 1,0 -5.2,0M1255.4,175.0a2.6,2.6 0 1,0 5.2,0a2.6,2.6 0 1,0 -5.2,0M1274.2,172.5a2.6,2.6 0 1,0 5.2,0a2.6,2.6 0 1,0 -5.2,0M1326.7,172.5a2.6,2.6 0 1,0 5.2,0a2.6,2.6 0 1,0 -5.2,0M1336.7,172.5a2.6,2.6 0 1,0 5.2,0a2.6,2.6 0 1,0 -5.2,0M1343.7,172.5a2.6,2.6 0 1,0 5.2,0a2.6,2.6 0 1,0 -5.2,0M1343.7,179.5a2.6,2.6 0 1,0 5.2,0a2.6,2.6 0 1,0 -5.2,0M1397.4,172.5a2.6,2.6 0 1,0 5.2,0a2.6,2.6 0 1,0 -5.2,0M1451.7,172.5a2.6,2.6 0 1,0 5.2,0a2.6,2.6 0 1,0 -5.2,0M1207.9,190.0a2.6,2.6 0 1,0 5.2,0a2.6,2.6 0 1,0 -5.2,0M1205.4,193.8a2.6,2.6 0 1,0 5.2,0a2.6,2.6 0 1,0 -5.2,0M1284.2,192.0a2.6,2.6 0 1,0 5.2,0a2.6,2.6 0 1,0 -5.2,0M1284.2,196.2a2.6,2.6 0 1,0 5.2,0a2.6,2.6 0 1,0 -5.2,0M1304.2,196.2a2.6,2.6 0 1,0 5.2,0a2.6,2.6 0 1,0 -5.2,0M1329.2,187.5a2.6,2.6 0 1,0 5.2,0a2.6,2.6 0 1,0 -5.2,0M1344.2,195.0a2.6,2.6 0 1,0 5.2,0a2.6,2.6 0 1,0 -5.2,0M1397.9,192.0a2.6,2.6 0 1,0 5.2,0a2.6,2.6 0 1,0 -5.2,0M1399.2,196.2a2.6,2.6 0 1,0 5.2,0a2.6,2.6 0 1,0 -5.2,0M1402.9,190.0a2.6,2.6 0 1,0 5.2,0a2.6,2.6 0 1,0 -5.2,0M1410.4,185.0a2.6,2.6 0 1,0 5.2,0a2.6,2.6 0 1,0 -5.2,0M1412.9,192.0a2.6,2.6 0 1,0 5.2,0a2.6,2.6 0 1,0 -5.2,0M1423.4,192.0a2.6,2.6 0 1,0 5.2,0a2.6,2.6 0 1,0 -5.2,0M1430.4,195.0a2.6,2.6 0 1,0 5.2,0a2.6,2.6 0 1,0 -5.2,0M1457.9,185.5a2.6,2.6 0 1,0 5.2,0a2.6,2.6 0 1,0 -5.2,0M1455.4,196.2a2.6,2.6 0 1,0 5.2,0a2.6,2.6 0 1,0 -5.2,0M1466.7,192.0a2.6,2.6 0 1,0 5.2,0a2.6,2.6 0 1,0 -5.2,0M1205.4,210.8a2.6,2.6 0 1,0 5.2,0a2.6,2.6 0 1,0 -5.2,0M1320.9,207.5a2.6,2.6 0 1,0 5.2,0a2.6,2.6 0 1,0 -5.2,0M1350.4,210.8a2.6,2.6 0 1,0 5.2,0a2.6,2.6 0 1,0 -5.2,0M1355.4,210.8a2.6,2.6 0 1,0 5.2,0a2.6,2.6 0 1,0 -5.2,0M1394.2,204.5a2.6,2.6 0 1,0 5.2,0a2.6,2.6 0 1,0 -5.2,0M1402.9,207.5a2.6,2.6 0 1,0 5.2,0a2.6,2.6 0 1,0 -5.2,0M1412.9,210.8a2.6,2.6 0 1,0 5.2,0a2.6,2.6 0 1,0 -5.2,0M1422.9,210.8a2.6,2.6 0 1,0 5.2,0a2.6,2.6 0 1,0 -5.2,0M1431.7,210.8a2.6,2.6 0 1,0 5.2,0a2.6,2.6 0 1,0 -5.2,0M1462.9,207.5a2.6,2.6 0 1,0 5.2,0a2.6,2.6 0 1,0 -5.2,0M1467.9,210.8a2.6,2.6 0 1,0 5.2,0a2.6,2.6 0 1,0 -5.2,0M1237.9,225.0a2.6,2.6 0 1,0 5.2,0a2.6,2.6 0 1,0 -5.2,0M1244.2,223.2a2.6,2.6 0 1,0 5.2,0a2.6,2.6 0 1,0 -5.2,0M1246.7,225.0a2.6,2.6 0 1,0 5.2,0a2.6,2.6 0 1,0 -5.2,0M1247.9,231.2a2.6,2.6 0 1,0 5.2,0a2.6,2.6 0 1,0 -5.2,0M1264.7,224.2a2.6,2.6 0 1,0 5.2,0a2.6,2.6 0 1,0 -5.2,0M1282.9,231.8a2.6,2.6 0 1,0 5.2,0a2.6,2.6 0 1,0 -5.2,0M1298.4,224.5a2.6,2.6 0 1,0 5.2,0a2.6,2.6 0 1,0 -5.2,0M1301.7,225.0a2.6,2.6 0 1,0 5.2,0a2.6,2.6 0 1,0 -5.2,0M1329.2,225.0a2.6,2.6 0 1,0 5.2,0a2.6,2.6 0 1,0 -5.2,0M1331.7,225.0a2.6,2.6 0 1,0 5.2,0a2.6,2.6 0 1,0 -5.2,0M1348.4,225.0a2.6,2.6 0 1,0 5.2,0a2.6,2.6 0 1,0 -5.2,0M1358.4,234.2a2.6,2.6 0 1,0 5.2,0a2.6,2.6 0 1,0 -5.2,0M1334.7,240.5a2.6,2.6 0 1,0 5.2,0a2.6,2.6 0 1,0 -5.2,0M1344.7,240.0a2.6,2.6 0 1,0 5.2,0a2.6,2.6 0 1,0 -5.2,0M1234.2,236.8a2.6,2.6 0 1,0 5.2,0a2.6,2.6 0 1,0 -5.2,0M1387.9,220.0a2.6,2.6 0 1,0 5.2,0a2.6,2.6 0 1,0 -5.2,0M1404.7,229.5a2.6,2.6 0 1,0 5.2,0a2.6,2.6 0 1,0 -5.2,0M1411.7,225.0a2.6,2.6 0 1,0 5.2,0a2.6,2.6 0 1,0 -5.2,0M1426.7,223.2a2.6,2.6 0 1,0 5.2,0a2.6,2.6 0 1,0 -5.2,0M1462.9,225.0a2.6,2.6 0 1,0 5.2,0a2.6,2.6 0 1,0 -5.2,0M1259.2,278.8a2.6,2.6 0 1,0 5.2,0a2.6,2.6 0 1,0 -5.2,0M1240.4,288.0a2.6,2.6 0 1,0 5.2,0a2.6,2.6 0 1,0 -5.2,0M1285.4,279.5a2.6,2.6 0 1,0 5.2,0a2.6,2.6 0 1,0 -5.2,0M1290.4,280.8a2.6,2.6 0 1,0 5.2,0a2.6,2.6 0 1,0 -5.2,0M1319.2,296.2a2.6,2.6 0 1,0 5.2,0a2.6,2.6 0 1,0 -5.2,0M1307.9,299.5a2.6,2.6 0 1,0 5.2,0a2.6,2.6 0 1,0 -5.2,0M1311.7,299.5a2.6,2.6 0 1,0 5.2,0a2.6,2.6 0 1,0 -5.2,0M1326.2,300.0a2.6,2.6 0 1,0 5.2,0a2.6,2.6 0 1,0 -5.2,0M1285.4,298.8a2.6,2.6 0 1,0 5.2,0a2.6,2.6 0 1,0 -5.2,0M1249.9,305.5a2.6,2.6 0 1,0 5.2,0a2.6,2.6 0 1,0 -5.2,0M1256.7,310.0a2.6,2.6 0 1,0 5.2,0a2.6,2.6 0 1,0 -5.2,0M1263.4,306.5a2.6,2.6 0 1,0 5.2,0a2.6,2.6 0 1,0 -5.2,0M1307.9,306.2a2.6,2.6 0 1,0 5.2,0a2.6,2.6 0 1,0 -5.2,0M1325.4,305.5a2.6,2.6 0 1,0 5.2,0a2.6,2.6 0 1,0 -5.2,0M1396.2,276.2a2.6,2.6 0 1,0 5.2,0a2.6,2.6 0 1,0 -5.2,0M1395.4,282.0a2.6,2.6 0 1,0 5.2,0a2.6,2.6 0 1,0 -5.2,0M1403.7,289.5a2.6,2.6 0 1,0 5.2,0a2.6,2.6 0 1,0 -5.2,0M1400.4,305.5a2.6,2.6 0 1,0 5.2,0a2.6,2.6 0 1,0 -5.2,0M1399.2,315.5a2.6,2.6 0 1,0 5.2,0a2.6,2.6 0 1,0 -5.2,0M1446.2,287.0a2.6,2.6 0 1,0 5.2,0a2.6,2.6 0 1,0 -5.2,0M1463.7,282.0a2.6,2.6 0 1,0 5.2,0a2.6,2.6 0 1,0 -5.2,0M1466.7,282.0a2.6,2.6 0 1,0 5.2,0a2.6,2.6 0 1,0 -5.2,0M1477.9,282.0a2.6,2.6 0 1,0 5.2,0a2.6,2.6 0 1,0 -5.2,0M1479.2,266.2a2.6,2.6 0 1,0 5.2,0a2.6,2.6 0 1,0 -5.2,0M1467.9,293.0a2.6,2.6 0 1,0 5.2,0a2.6,2.6 0 1,0 -5.2,0M1471.7,290.5a2.6,2.6 0 1,0 5.2,0a2.6,2.6 0 1,0 -5.2,0M1455.4,299.5a2.6,2.6 0 1,0 5.2,0a2.6,2.6 0 1,0 -5.2,0M1442.9,307.0a2.6,2.6 0 1,0 5.2,0a2.6,2.6 0 1,0 -5.2,0M1454.2,307.0a2.6,2.6 0 1,0 5.2,0a2.6,2.6 0 1,0 -5.2,0M1459.2,305.5a2.6,2.6 0 1,0 5.2,0a2.6,2.6 0 1,0 -5.2,0M1465.4,312.5a2.6,2.6 0 1,0 5.2,0a2.6,2.6 0 1,0 -5.2,0M1432.9,315.5a2.6,2.6 0 1,0 5.2,0a2.6,2.6 0 1,0 -5.2,0M1446.2,327.5a2.6,2.6 0 1,0 5.2,0a2.6,2.6 0 1,0 -5.2,0M1230.9,328.0a2.6,2.6 0 1,0 5.2,0a2.6,2.6 0 1,0 -5.2,0M1310.4,329.0a2.6,2.6 0 1,0 5.2,0a2.6,2.6 0 1,0 -5.2,0M1340.4,329.0a2.6,2.6 0 1,0 5.2,0a2.6,2.6 0 1,0 -5.2,0M1340.4,332.5a2.6,2.6 0 1,0 5.2,0a2.6,2.6 0 1,0 -5.2,0M1390.4,333.8a2.6,2.6 0 1,0 5.2,0a2.6,2.6 0 1,0 -5.2,0M1409.2,333.8a2.6,2.6 0 1,0 5.2,0a2.6,2.6 0 1,0 -5.2,0M1417.9,332.5a2.6,2.6 0 1,0 5.2,0a2.6,2.6 0 1,0 -5.2,0M1417.9,336.2a2.6,2.6 0 1,0 5.2,0a2.6,2.6 0 1,0 -5.2,0M1439.2,340.0a2.6,2.6 0 1,0 5.2,0a2.6,2.6 0 1,0 -5.2,0M1426.7,340.0a2.6,2.6 0 1,0 5.2,0a2.6,2.6 0 1,0 -5.2,0" fill="#95a92c"/>
<circle cx="1438.0" cy="196.2" r="5" fill="#a9a520"/>
<circle cx="1306.8" cy="278.2" r="3.5" fill="#95a92c"/>
<circle cx="1330.5" cy="282.0" r="3.5" fill="#95a92c"/>
<circle cx="1486.0" cy="28.8" r="1.5" fill="#95a92c"/>
<path d="M396.1,348.5a2.6,2.6 0 1,0 5.2,0a2.6,2.6 0 1,0 -5.2,0M412.4,359.0a2.6,2.6 0 1,0 5.2,0a2.6,2.6 0 1,0 -5.2,0M449.9,367.2a2.6,2.6 0 1,0 5.2,0a2.6,2.6 0 1,0 -5.2,0M461.1,374.8a2.6,2.6 0 1,0 5.2,0a2.6,2.6 0 1,0 -5.2,0M452.4,393.5a2.6,2.6 0 1,0 5.2,0a2.6,2.6 0 1,0 -5.2,0M458.6,401.8a2.6,2.6 0 1,0 5.2,0a2.6,2.6 0 1,0 -5.2,0M451.9,417.2a2.6,2.6 0 1,0 5.2,0a2.6,2.6 0 1,0 -5.2,0M507.4,419.8a2.6,2.6 0 1,0 5.2,0a2.6,2.6 0 1,0 -5.2,0M489.9,434.2a2.6,2.6 0 1,0 5.2,0a2.6,2.6 0 1,0 -5.2,0M479.9,471.0a2.6,2.6 0 1,0 5.2,0a2.6,2.6 0 1,0 -5.2,0" fill="#95a92c"/>
<path d="M587.6,581.8a2.6,2.6 0 1,0 5.2,0a2.6,2.6 0 1,0 -5.2,0M614.6,590.2a2.6,2.6 0 1,0 5.2,0a2.6,2.6 0 1,0 -5.2,0M634.6,591.5a2.6,2.6 0 1,0 5.2,0a2.6,2.6 0 1,0 -5.2,0M644.6,593.5a2.6,2.6 0 1,0 5.2,0a2.6,2.6 0 1,0 -5.2,0M654.6,594.8a2.6,2.6 0 1,0 5.2,0a2.6,2.6 0 1,0 -5.2,0M628.4,371.8a2.6,2.6 0 1,0 5.2,0a2.6,2.6 0 1,0 -5.2,0M620.9,372.8a2.6,2.6 0 1,0 5.2,0a2.6,2.6 0 1,0 -5.2,0M607.6,376.0a2.6,2.6 0 1,0 5.2,0a2.6,2.6 0 1,0 -5.2,0M633.4,414.8a2.6,2.6 0 1,0 5.2,0a2.6,2.6 0 1,0 -5.2,0M642.6,443.5a2.6,2.6 0 1,0 5.2,0a2.6,2.6 0 1,0 -5.2,0M645.9,461.8a2.6,2.6 0 1,0 5.2,0a2.6,2.6 0 1,0 -5.2,0M648.4,474.2a2.6,2.6 0 1,0 5.2,0a2.6,2.6 0 1,0 -5.2,0M650.1,481.5a2.6,2.6 0 1,0 5.2,0a2.6,2.6 0 1,0 -5.2,0M647.1,491.0a2.6,2.6 0 1,0 5.2,0a2.6,2.6 0 1,0 -5.2,0M651.6,490.5a2.6,2.6 0 1,0 5.2,0a2.6,2.6 0 1,0 -5.2,0M652.6,497.8a2.6,2.6 0 1,0 5.2,0a2.6,2.6 0 1,0 -5.2,0M653.4,527.8a2.6,2.6 0 1,0 5.2,0a2.6,2.6 0 1,0 -5.2,0M655.9,538.0a2.6,2.6 0 1,0 5.2,0a2.6,2.6 0 1,0 -5.2,0M656.6,567.2a2.6,2.6 0 1,0 5.2,0a2.6,2.6 0 1,0 -5.2,0M543.9,347.2a2.6,2.6 0 1,0 5.2,0a2.6,2.6 0 1,0 -5.2,0M586.6,345.5a2.6,2.6 0 1,0 5.2,0a2.6,2.6 0 1,0 -5.2,0M542.1,391.8a2.6,2.6 0 1,0 5.2,0a2.6,2.6 0 1,0 -5.2,0M547.1,391.8a2.6,2.6 0 1,0 5.2,0a2.6,2.6 0 1,0 -5.2,0M547.1,393.0a2.6,2.6 0 1,0 5.2,0a2.6,2.6 0 1,0 -5.2,0M557.1,389.2a2.6,2.6 0 1,0 5.2,0a2.6,2.6 0 1,0 -5.2,0M547.6,409.2a2.6,2.6 0 1,0 5.2,0a2.6,2.6 0 1,0 -5.2,0M527.1,475.2a2.6,2.6 0 1,0 5.2,0a2.6,2.6 0 1,0 -5.2,0M569.6,473.0a2.6,2.6 0 1,0 5.2,0a2.6,2.6 0 1,0 -5.2,0M545.9,484.2a2.6,2.6 0 1,0 5.2,0a2.6,2.6 0 1,0 -5.2,0M557.1,483.5a2.6,2.6 0 1,0 5.2,0a2.6,2.6 0 1,0 -5.2,0M609.6,507.8a2.6,2.6 0 1,0 5.2,0a2.6,2.6 0 1,0 -5.2,0M570.1,526.0a2.6,2.6 0 1,0 5.2,0a2.6,2.6 0 1,0 -5.2,0M575.9,531.0a2.6,2.6 0 1,0 5.2,0a2.6,2.6 0 1,0 -5.2,0M567.9,536.0a2.6,2.6 0 1,0 5.2,0a2.6,2.6 0 1,0 -5.2,0M573.4,536.0a2.6,2.6 0 1,0 5.2,0a2.6,2.6 0 1,0 -5.2,0M552.1,531.8a2.6,2.6 0 1,0 5.2,0a2.6,2.6 0 1,0 -5.2,0M550.4,545.5a2.6,2.6 0 1,0 5.2,0a2.6,2.6 0 1,0 -5.2,0M699.6,579.8a2.6,2.6 0 1,0 5.2,0a2.6,2.6 0 1,0 -5.2,0M842.1,359.0a2.6,2.6 0 1,0 5.2,0a2.6,2.6 0 1,0 -5.2,0M864.6,359.0a2.6,2.6 0 1,0 5.2,0a2.6,2.6 0 1,0 -5.2,0M765.4,373.5a2.6,2.6 0 1,0 5.2,0a2.6,2.6 0 1,0 -5.2,0M813.4,379.0a2.6,2.6 0 1,0 5.2,0a2.6,2.6 0 1,0 -5.2,0M839.6,393.5a2.6,2.6 0 1,0 5.2,0a2.6,2.6 0 1,0 -5.2,0M864.6,408.0a2.6,2.6 0 1,0 5.2,0a2.6,2.6 0 1,0 -5.2,0M777.9,410.2a2.6,2.6 0 1,0 5.2,0a2.6,2.6 0 1,0 -5.2,0M811.6,439.8a2.6,2.6 0 1,0 5.2,0a2.6,2.6 0 1,0 -5.2,0M842.1,480.2a2.6,2.6 0 1,0 5.2,0a2.6,2.6 0 1,0 -5.2,0M788.9,484.2a2.6,2.6 0 1,0 5.2,0a2.6,2.6 0 1,0 -5.2,0M775.9,524.8a2.6,2.6 0 1,0 5.2,0a2.6,2.6 0 1,0 -5.2,0M782.1,524.8a2.6,2.6 0 1,0 5.2,0a2.6,2.6 0 1,0 -5.2,0M794.6,524.8a2.6,2.6 0 1,0 5.2,0a2.6,2.6 0 1,0 -5.2,0M767.1,531.0a2.6,2.6 0 1,0 5.2,0a2.6,2.6 0 1,0 -5.2,0M764.6,536.0a2.6,2.6 0 1,0 5.2,0a2.6,2.6 0 1,0 -5.2,0M830.4,536.0a2.6,2.6 0 1,0 5.2,0a2.6,2.6 0 1,0 -5.2,0M779.6,544.8a2.6,2.6 0 1,0 5.2,0a2.6,2.6 0 1,0 -5.2,0M832.6,549.2a2.6,2.6 0 1,0 5.2,0a2.6,2.6 0 1,0 -5.2,0M778.9,556.0a2.6,2.6 0 1,0 5.2,0a2.6,2.6 0 1,0 -5.2,0M840.9,561.0a2.6,2.6 0 1,0 5.2,0a2.6,2.6 0 1,0 -5.2,0M772.1,596.0a2.6,2.6 0 1,0 5.2,0a2.6,2.6 0 1,0 -5.2,0M791.6,599.8a2.6,2.6 0 1,0 5.2,0a2.6,2.6 0 1,0 -5.2,0M835.4,604.8a2.6,2.6 0 1,0 5.2,0a2.6,2.6 0 1,0 -5.2,0M835.4,608.5a2.6,2.6 0 1,0 5.2,0a2.6,2.6 0 1,0 -5.2,0M847.1,605.2a2.6,2.6 0 1,0 5.2,0a2.6,2.6 0 1,0 -5.2,0M853.4,606.0a2.6,2.6 0 1,0 5.2,0a2.6,2.6 0 1,0 -5.2,0M864.6,607.2a2.6,2.6 0 1,0 5.2,0a2.6,2.6 0 1,0 -5.2,0M835.4,624.0a2.6,2.6 0 1,0 5.2,0a2.6,2.6 0 1,0 -5.2,0" fill="#95a92c"/>
<path d="M896.9,346.5a2.6,2.6 0 1,0 5.2,0a2.6,2.6 0 1,0 -5.2,0M951.9,342.2a2.6,2.6 0 1,0 5.2,0a2.6,2.6 0 1,0 -5.2,0M960.6,342.2a2.6,2.6 0 1,0 5.2,0a2.6,2.6 0 1,0 -5.2,0M986.1,352.8a2.6,2.6 0 1,0 5.2,0a2.6,2.6 0 1,0 -5.2,0M881.4,365.2a2.6,2.6 0 1,0 5.2,0a2.6,2.6 0 1,0 -5.2,0M870.6,374.8a2.6,2.6 0 1,0 5.2,0a2.6,2.6 0 1,0 -5.2,0M875.6,374.8a2.6,2.6 0 1,0 5.2,0a2.6,2.6 0 1,0 -5.2,0M880.6,374.8a2.6,2.6 0 1,0 5.2,0a2.6,2.6 0 1,0 -5.2,0M871.1,380.2a2.6,2.6 0 1,0 5.2,0a2.6,2.6 0 1,0 -5.2,0M874.4,395.5a2.6,2.6 0 1,0 5.2,0a2.6,2.6 0 1,0 -5.2,0M866.1,408.0a2.6,2.6 0 1,0 5.2,0a2.6,2.6 0 1,0 -5.2,0M942.4,405.2a2.6,2.6 0 1,0 5.2,0a2.6,2.6 0 1,0 -5.2,0M994.4,413.5a2.6,2.6 0 1,0 5.2,0a2.6,2.6 0 1,0 -5.2,0M918.9,452.2a2.6,2.6 0 1,0 5.2,0a2.6,2.6 0 1,0 -5.2,0M994.4,450.2a2.6,2.6 0 1,0 5.2,0a2.6,2.6 0 1,0 -5.2,0M949.4,484.2a2.6,2.6 0 1,0 5.2,0a2.6,2.6 0 1,0 -5.2,0M1000.6,484.2a2.6,2.6 0 1,0 5.2,0a2.6,2.6 0 1,0 -5.2,0M1054.9,484.2a2.6,2.6 0 1,0 5.2,0a2.6,2.6 0 1,0 -5.2,0M1119.9,475.2a2.6,2.6 0 1,0 5.2,0a2.6,2.6 0 1,0 -5.2,0M1127.7,488.5a2.6,2.6 0 1,0 5.2,0a2.6,2.6 0 1,0 -5.2,0M1136.9,482.8a2.6,2.6 0 1,0 5.2,0a2.6,2.6 0 1,0 -5.2,0M1154.4,482.8a2.6,2.6 0 1,0 5.2,0a2.6,2.6 0 1,0 -5.2,0M1155.7,488.5a2.6,2.6 0 1,0 5.2,0a2.6,2.6 0 1,0 -5.2,0M1148.2,498.5a2.6,2.6 0 1,0 5.2,0a2.6,2.6 0 1,0 -5.2,0M1062.7,381.0a2.6,2.6 0 1,0 5.2,0a2.6,2.6 0 1,0 -5.2,0M1078.2,389.2a2.6,2.6 0 1,0 5.2,0a2.6,2.6 0 1,0 -5.2,0M1089.9,392.5a2.6,2.6 0 1,0 5.2,0a2.6,2.6 0 1,0 -5.2,0M1162.7,389.2a2.6,2.6 0 1,0 5.2,0a2.6,2.6 0 1,0 -5.2,0M1167.7,389.2a2.6,2.6 0 1,0 5.2,0a2.6,2.6 0 1,0 -5.2,0M1160.2,401.8a2.6,2.6 0 1,0 5.2,0a2.6,2.6 0 1,0 -5.2,0M1193.4,413.5a2.6,2.6 0 1,0 5.2,0a2.6,2.6 0 1,0 -5.2,0M1061.7,413.5a2.6,2.6 0 1,0 5.2,0a2.6,2.6 0 1,0 -5.2,0M1052.2,420.0a2.6,2.6 0 1,0 5.2,0a2.6,2.6 0 1,0 -5.2,0M1073.9,434.2a2.6,2.6 0 1,0 5.2,0a2.6,2.6 0 1,0 -5.2,0M1145.2,434.2a2.6,2.6 0 1,0 5.2,0a2.6,2.6 0 1,0 -5.2,0M1196.4,436.5a2.6,2.6 0 1,0 5.2,0a2.6,2.6 0 1,0 -5.2,0M1083.2,341.0a2.6,2.6 0 1,0 5.2,0a2.6,2.6 0 1,0 -5.2,0M1095.7,341.0a2.6,2.6 0 1,0 5.2,0a2.6,2.6 0 1,0 -5.2,0M1119.9,342.2a2.6,2.6 0 1,0 5.2,0a2.6,2.6 0 1,0 -5.2,0M1179.9,342.2a2.6,2.6 0 1,0 5.2,0a2.6,2.6 0 1,0 -5.2,0M992.4,524.8a2.6,2.6 0 1,0 5.2,0a2.6,2.6 0 1,0 -5.2,0M963.9,541.0a2.6,2.6 0 1,0 5.2,0a2.6,2.6 0 1,0 -5.2,0M941.4,556.5a2.6,2.6 0 1,0 5.2,0a2.6,2.6 0 1,0 -5.2,0M995.6,549.2a2.6,2.6 0 1,0 5.2,0a2.6,2.6 0 1,0 -5.2,0M896.1,561.5a2.6,2.6 0 1,0 5.2,0a2.6,2.6 0 1,0 -5.2,0M922.4,561.0a2.6,2.6 0 1,0 5.2,0a2.6,2.6 0 1,0 -5.2,0M927.6,561.0a2.6,2.6 0 1,0 5.2,0a2.6,2.6 0 1,0 -5.2,0M885.6,577.8a2.6,2.6 0 1,0 5.2,0a2.6,2.6 0 1,0 -5.2,0M872.1,584.0a2.6,2.6 0 1,0 5.2,0a2.6,2.6 0 1,0 -5.2,0M961.9,582.2a2.6,2.6 0 1,0 5.2,0a2.6,2.6 0 1,0 -5.2,0M1000.6,577.8a2.6,2.6 0 1,0 5.2,0a2.6,2.6 0 1,0 -5.2,0M998.9,590.5a2.6,2.6 0 1,0 5.2,0a2.6,2.6 0 1,0 -5.2,0M893.1,608.2a2.6,2.6 0 1,0 5.2,0a2.6,2.6 0 1,0 -5.2,0M1092.7,528.5a2.6,2.6 0 1,0 5.2,0a2.6,2.6 0 1,0 -5.2,0M1140.2,526.0a2.6,2.6 0 1,0 5.2,0a2.6,2.6 0 1,0 -5.2,0M1158.9,524.8a2.6,2.6 0 1,0 5.2,0a2.6,2.6 0 1,0 -5.2,0M1200.7,524.8a2.6,2.6 0 1,0 5.2,0a2.6,2.6 0 1,0 -5.2,0M1166.2,541.0a2.6,2.6 0 1,0 5.2,0a2.6,2.6 0 1,0 -5.2,0M1177.7,552.8a2.6,2.6 0 1,0 5.2,0a2.6,2.6 0 1,0 -5.2,0M1169.2,564.2a2.6,2.6 0 1,0 5.2,0a2.6,2.6 0 1,0 -5.2,0M1073.2,563.0a2.6,2.6 0 1,0 5.2,0a2.6,2.6 0 1,0 -5.2,0M1098.2,565.2a2.6,2.6 0 1,0 5.2,0a2.6,2.6 0 1,0 -5.2,0M1075.2,576.0a2.6,2.6 0 1,0 5.2,0a2.6,2.6 0 1,0 -5.2,0M1146.4,572.8a2.6,2.6 0 1,0 5.2,0a2.6,2.6 0 1,0 -5.2,0M1152.7,572.8a2.6,2.6 0 1,0 5.2,0a2.6,2.6 0 1,0 -5.2,0M1195.7,581.0a2.6,2.6 0 1,0 5.2,0a2.6,2.6 0 1,0 -5.2,0M1205.7,584.0a2.6,2.6 0 1,0 5.2,0a2.6,2.6 0 1,0 -5.2,0M903.1,621.8a2.6,2.6 0 1,0 5.2,0a2.6,2.6 0 1,0 -5.2,0M908.1,623.5a2.6,2.6 0 1,0 5.2,0a2.6,2.6 0 1,0 -5.2,0M925.6,625.2a2.6,2.6 0 1,0 5.2,0a2.6,2.6 0 1,0 -5.2,0M931.9,628.0a2.6,2.6 0 1,0 5.2,0a2.6,2.6 0 1,0 -5.2,0M938.1,626.8a2.6,2.6 0 1,0 5.2,0a2.6,2.6 0 1,0 -5.2,0M938.9,633.0a2.6,2.6 0 1,0 5.2,0a2.6,2.6 0 1,0 -5.2,0M950.6,629.2a2.6,2.6 0 1,0 5.2,0a2.6,2.6 0 1,0 -5.2,0M964.4,630.2a2.6,2.6 0 1,0 5.2,0a2.6,2.6 0 1,0 -5.2,0M970.6,631.5a2.6,2.6 0 1,0 5.2,0a2.6,2.6 0 1,0 -5.2,0M979.9,632.2a2.6,2.6 0 1,0 5.2,0a2.6,2.6 0 1,0 -5.2,0M990.6,633.5a2.6,2.6 0 1,0 5.2,0a2.6,2.6 0 1,0 -5.2,0M993.6,635.5a2.6,2.6 0 1,0 5.2,0a2.6,2.6 0 1,0 -5.2,0M1004.4,636.8a2.6,2.6 0 1,0 5.2,0a2.6,2.6 0 1,0 -5.2,0M921.4,660.5a2.6,2.6 0 1,0 5.2,0a2.6,2.6 0 1,0 -5.2,0M1051.9,637.8a2.6,2.6 0 1,0 5.2,0a2.6,2.6 0 1,0 -5.2,0M1058.7,634.2a2.6,2.6 0 1,0 5.2,0a2.6,2.6 0 1,0 -5.2,0M1064.4,638.5a2.6,2.6 0 1,0 5.2,0a2.6,2.6 0 1,0 -5.2,0M1068.2,639.8a2.6,2.6 0 1,0 5.2,0a2.6,2.6 0 1,0 -5.2,0M1084.4,641.0a2.6,2.6 0 1,0 5.2,0a2.6,2.6 0 1,0 -5.2,0M1081.9,644.8a2.6,2.6 0 1,0 5.2,0a2.6,2.6 0 1,0 -5.2,0M1089.4,647.2a2.6,2.6 0 1,0 5.2,0a2.6,2.6 0 1,0 -5.2,0M1094.4,647.2a2.6,2.6 0 1,0 5.2,0a2.6,2.6 0 1,0 -5.2,0M1104.4,653.5a2.6,2.6 0 1,0 5.2,0a2.6,2.6 0 1,0 -5.2,0M1118.2,652.2a2.6,2.6 0 1,0 5.2,0a2.6,2.6 0 1,0 -5.2,0M1129.4,654.2a2.6,2.6 0 1,0 5.2,0a2.6,2.6 0 1,0 -5.2,0M1154.9,655.2a2.6,2.6 0 1,0 5.2,0a2.6,2.6 0 1,0 -5.2,0M1161.2,656.5a2.6,2.6 0 1,0 5.2,0a2.6,2.6 0 1,0 -5.2,0M1186.2,658.5a2.6,2.6 0 1,0 5.2,0a2.6,2.6 0 1,0 -5.2,0" fill="#95a92c"/>
<circle cx="1109.5" cy="484.2" r="3.3" fill="#95a92c"/>
<circle cx="1176.2" cy="482.8" r="1.8" fill="#95a92c"/>

<path d="M1319.2,342.2a2.6,2.6 0 1,0 5.2,0a2.6,2.6 0 1,0 -5.2,0M1349.2,342.2a2.6,2.6 0 1,0 5.2,0a2.6,2.6 0 1,0 -5.2,0M1424.2,342.2a2.6,2.6 0 1,0 5.2,0a2.6,2.6 0 1,0 -5.2,0M1430.4,342.2a2.6,2.6 0 1,0 5.2,0a2.6,2.6 0 1,0 -5.2,0M1440.4,342.2a2.6,2.6 0 1,0 5.2,0a2.6,2.6 0 1,0 -5.2,0M1449.2,342.2a2.6,2.6 0 1,0 5.2,0a2.6,2.6 0 1,0 -5.2,0M1440.4,349.8a2.6,2.6 0 1,0 5.2,0a2.6,2.6 0 1,0 -5.2,0M1472.9,346.5a2.6,2.6 0 1,0 5.2,0a2.6,2.6 0 1,0 -5.2,0M1254.2,359.0a2.6,2.6 0 1,0 5.2,0a2.6,2.6 0 1,0 -5.2,0M1330.4,359.0a2.6,2.6 0 1,0 5.2,0a2.6,2.6 0 1,0 -5.2,0M1394.2,359.0a2.6,2.6 0 1,0 5.2,0a2.6,2.6 0 1,0 -5.2,0M1209.2,367.2a2.6,2.6 0 1,0 5.2,0a2.6,2.6 0 1,0 -5.2,0M1389.9,379.0a2.6,2.6 0 1,0 5.2,0a2.6,2.6 0 1,0 -5.2,0M1407.9,379.0a2.6,2.6 0 1,0 5.2,0a2.6,2.6 0 1,0 -5.2,0M1412.9,373.5a2.6,2.6 0 1,0 5.2,0a2.6,2.6 0 1,0 -5.2,0M1302.9,379.0a2.6,2.6 0 1,0 5.2,0a2.6,2.6 0 1,0 -5.2,0M1230.9,389.2a2.6,2.6 0 1,0 5.2,0a2.6,2.6 0 1,0 -5.2,0M1250.9,394.8a2.6,2.6 0 1,0 5.2,0a2.6,2.6 0 1,0 -5.2,0M1399.7,394.8a2.6,2.6 0 1,0 5.2,0a2.6,2.6 0 1,0 -5.2,0M1445.4,389.2a2.6,2.6 0 1,0 5.2,0a2.6,2.6 0 1,0 -5.2,0M1471.7,394.8a2.6,2.6 0 1,0 5.2,0a2.6,2.6 0 1,0 -5.2,0M1465.4,408.5a2.6,2.6 0 1,0 5.2,0a2.6,2.6 0 1,0 -5.2,0M1257.9,415.5a2.6,2.6 0 1,0 5.2,0a2.6,2.6 0 1,0 -5.2,0M1307.4,410.2a2.6,2.6 0 1,0 5.2,0a2.6,2.6 0 1,0 -5.2,0M1424.7,438.5a2.6,2.6 0 1,0 5.2,0a2.6,2.6 0 1,0 -5.2,0M1471.7,434.2a2.6,2.6 0 1,0 5.2,0a2.6,2.6 0 1,0 -5.2,0M1251.7,450.2a2.6,2.6 0 1,0 5.2,0a2.6,2.6 0 1,0 -5.2,0M1264.7,451.2a2.6,2.6 0 1,0 5.2,0a2.6,2.6 0 1,0 -5.2,0M1341.7,448.0a2.6,2.6 0 1,0 5.2,0a2.6,2.6 0 1,0 -5.2,0M1346.2,448.0a2.6,2.6 0 1,0 5.2,0a2.6,2.6 0 1,0 -5.2,0M1335.9,462.8a2.6,2.6 0 1,0 5.2,0a2.6,2.6 0 1,0 -5.2,0M1300.4,472.2a2.6,2.6 0 1,0 5.2,0a2.6,2.6 0 1,0 -5.2,0M1322.9,475.2a2.6,2.6 0 1,0 5.2,0a2.6,2.6 0 1,0 -5.2,0M1300.4,486.0a2.6,2.6 0 1,0 5.2,0a2.6,2.6 0 1,0 -5.2,0M1335.9,491.8a2.6,2.6 0 1,0 5.2,0a2.6,2.6 0 1,0 -5.2,0M1286.7,498.0a2.6,2.6 0 1,0 5.2,0a2.6,2.6 0 1,0 -5.2,0M1428.7,475.2a2.6,2.6 0 1,0 5.2,0a2.6,2.6 0 1,0 -5.2,0M1449.9,475.2a2.6,2.6 0 1,0 5.2,0a2.6,2.6 0 1,0 -5.2,0M1459.2,473.0a2.6,2.6 0 1,0 5.2,0a2.6,2.6 0 1,0 -5.2,0M1462.9,480.2a2.6,2.6 0 1,0 5.2,0a2.6,2.6 0 1,0 -5.2,0M1447.9,486.5a2.6,2.6 0 1,0 5.2,0a2.6,2.6 0 1,0 -5.2,0M1423.4,506.5a2.6,2.6 0 1,0 5.2,0a2.6,2.6 0 1,0 -5.2,0M1281.2,521.5a2.6,2.6 0 1,0 5.2,0a2.6,2.6 0 1,0 -5.2,0M1324.7,522.2a2.6,2.6 0 1,0 5.2,0a2.6,2.6 0 1,0 -5.2,0M1353.4,530.5a2.6,2.6 0 1,0 5.2,0a2.6,2.6 0 1,0 -5.2,0M1353.4,536.0a2.6,2.6 0 1,0 5.2,0a2.6,2.6 0 1,0 -5.2,0M1389.9,536.0a2.6,2.6 0 1,0 5.2,0a2.6,2.6 0 1,0 -5.2,0M1401.7,530.5a2.6,2.6 0 1,0 5.2,0a2.6,2.6 0 1,0 -5.2,0M1400.4,536.0a2.6,2.6 0 1,0 5.2,0a2.6,2.6 0 1,0 -5.2,0M1407.9,536.0a2.6,2.6 0 1,0 5.2,0a2.6,2.6 0 1,0 -5.2,0M1412.9,536.0a2.6,2.6 0 1,0 5.2,0a2.6,2.6 0 1,0 -5.2,0M1405.4,543.0a2.6,2.6 0 1,0 5.2,0a2.6,2.6 0 1,0 -5.2,0M1405.4,525.5a2.6,2.6 0 1,0 5.2,0a2.6,2.6 0 1,0 -5.2,0M1446.7,525.5a2.6,2.6 0 1,0 5.2,0a2.6,2.6 0 1,0 -5.2,0M1474.9,524.8a2.6,2.6 0 1,0 5.2,0a2.6,2.6 0 1,0 -5.2,0M1288.7,539.0a2.6,2.6 0 1,0 5.2,0a2.6,2.6 0 1,0 -5.2,0M1252.9,561.0a2.6,2.6 0 1,0 5.2,0a2.6,2.6 0 1,0 -5.2,0M1338.7,559.0a2.6,2.6 0 1,0 5.2,0a2.6,2.6 0 1,0 -5.2,0M1311.7,566.5a2.6,2.6 0 1,0 5.2,0a2.6,2.6 0 1,0 -5.2,0M1284.2,568.5a2.6,2.6 0 1,0 5.2,0a2.6,2.6 0 1,0 -5.2,0M1468.7,554.2a2.6,2.6 0 1,0 5.2,0a2.6,2.6 0 1,0 -5.2,0M1207.4,584.0a2.6,2.6 0 1,0 5.2,0a2.6,2.6 0 1,0 -5.2,0M1355.9,624.0a2.6,2.6 0 1,0 5.2,0a2.6,2.6 0 1,0 -5.2,0M1459.9,633.5a2.6,2.6 0 1,0 5.2,0a2.6,2.6 0 1,0 -5.2,0M1479.2,657.2a2.6,2.6 0 1,0 5.2,0a2.6,2.6 0 1,0 -5.2,0M1237.2,652.2a2.6,2.6 0 1,0 5.2,0a2.6,2.6 0 1,0 -5.2,0M1227.4,659.8a2.6,2.6 0 1,0 5.2,0a2.6,2.6 0 1,0 -5.2,0M1231.7,661.8a2.6,2.6 0 1,0 5.2,0a2.6,2.6 0 1,0 -5.2,0M1237.2,662.8a2.6,2.6 0 1,0 5.2,0a2.6,2.6 0 1,0 -5.2,0M1242.9,663.5a2.6,2.6 0 1,0 5.2,0a2.6,2.6 0 1,0 -5.2,0M1248.7,664.8a2.6,2.6 0 1,0 5.2,0a2.6,2.6 0 1,0 -5.2,0M1262.4,665.5a2.6,2.6 0 1,0 5.2,0a2.6,2.6 0 1,0 -5.2,0M1293.4,666.8a2.6,2.6 0 1,0 5.2,0a2.6,2.6 0 1,0 -5.2,0M1297.9,668.5a2.6,2.6 0 1,0 5.2,0a2.6,2.6 0 1,0 -5.2,0M1312.4,669.8a2.6,2.6 0 1,0 5.2,0a2.6,2.6 0 1,0 -5.2,0" fill="#95a92c"/>
<circle cx="1438.5" cy="561.0" r="6.3" fill="#76a05c"/>
<path d="M790.9,698.8a2.6,2.6 0 1,0 5.2,0a2.6,2.6 0 1,0 -5.2,0M818.4,701.2a2.6,2.6 0 1,0 5.2,0a2.6,2.6 0 1,0 -5.2,0M820.9,701.2a2.6,2.6 0 1,0 5.2,0a2.6,2.6 0 1,0 -5.2,0M836.6,701.2a2.6,2.6 0 1,0 5.2,0a2.6,2.6 0 1,0 -5.2,0M857.6,712.5a2.6,2.6 0 1,0 5.2,0a2.6,2.6 0 1,0 -5.2,0M814.6,717.8a2.6,2.6 0 1,0 5.2,0a2.6,2.6 0 1,0 -5.2,0M793.9,720.2a2.6,2.6 0 1,0 5.2,0a2.6,2.6 0 1,0 -5.2,0M840.4,727.0a2.6,2.6 0 1,0 5.2,0a2.6,2.6 0 1,0 -5.2,0M845.9,730.2a2.6,2.6 0 1,0 5.2,0a2.6,2.6 0 1,0 -5.2,0M848.4,730.2a2.6,2.6 0 1,0 5.2,0a2.6,2.6 0 1,0 -5.2,0M855.4,738.8a2.6,2.6 0 1,0 5.2,0a2.6,2.6 0 1,0 -5.2,0" fill="#95a92c"/>
<path d="M1001.4,860.0a2.6,2.6 0 1,0 5.2,0a2.6,2.6 0 1,0 -5.2,0M1146.9,952.5a2.6,2.6 0 1,0 5.2,0a2.6,2.6 0 1,0 -5.2,0M1163.2,958.2a2.6,2.6 0 1,0 5.2,0a2.6,2.6 0 1,0 -5.2,0M1195.7,967.0a2.6,2.6 0 1,0 5.2,0a2.6,2.6 0 1,0 -5.2,0M1091.9,915.8a2.6,2.6 0 1,0 5.2,0a2.6,2.6 0 1,0 -5.2,0M1093.2,919.5a2.6,2.6 0 1,0 5.2,0a2.6,2.6 0 1,0 -5.2,0M925.6,701.2a2.6,2.6 0 1,0 5.2,0a2.6,2.6 0 1,0 -5.2,0M921.1,708.2a2.6,2.6 0 1,0 5.2,0a2.6,2.6 0 1,0 -5.2,0M925.6,711.5a2.6,2.6 0 1,0 5.2,0a2.6,2.6 0 1,0 -5.2,0M908.9,714.5a2.6,2.6 0 1,0 5.2,0a2.6,2.6 0 1,0 -5.2,0M939.9,719.0a2.6,2.6 0 1,0 5.2,0a2.6,2.6 0 1,0 -5.2,0M949.4,714.5a2.6,2.6 0 1,0 5.2,0a2.6,2.6 0 1,0 -5.2,0M896.1,726.2a2.6,2.6 0 1,0 5.2,0a2.6,2.6 0 1,0 -5.2,0M880.6,734.5a2.6,2.6 0 1,0 5.2,0a2.6,2.6 0 1,0 -5.2,0M920.1,734.5a2.6,2.6 0 1,0 5.2,0a2.6,2.6 0 1,0 -5.2,0M873.1,752.5a2.6,2.6 0 1,0 5.2,0a2.6,2.6 0 1,0 -5.2,0M885.6,755.2a2.6,2.6 0 1,0 5.2,0a2.6,2.6 0 1,0 -5.2,0M997.6,705.2a2.6,2.6 0 1,0 5.2,0a2.6,2.6 0 1,0 -5.2,0M1059.4,701.2a2.6,2.6 0 1,0 5.2,0a2.6,2.6 0 1,0 -5.2,0M1065.7,701.2a2.6,2.6 0 1,0 5.2,0a2.6,2.6 0 1,0 -5.2,0M1005.9,755.2a2.6,2.6 0 1,0 5.2,0a2.6,2.6 0 1,0 -5.2,0M1005.9,780.8a2.6,2.6 0 1,0 5.2,0a2.6,2.6 0 1,0 -5.2,0M968.1,788.2a2.6,2.6 0 1,0 5.2,0a2.6,2.6 0 1,0 -5.2,0M990.6,830.8a2.6,2.6 0 1,0 5.2,0a2.6,2.6 0 1,0 -5.2,0M1080.7,752.5a2.6,2.6 0 1,0 5.2,0a2.6,2.6 0 1,0 -5.2,0M1102.4,779.5a2.6,2.6 0 1,0 5.2,0a2.6,2.6 0 1,0 -5.2,0M1053.2,787.0a2.6,2.6 0 1,0 5.2,0a2.6,2.6 0 1,0 -5.2,0M1066.9,795.2a2.6,2.6 0 1,0 5.2,0a2.6,2.6 0 1,0 -5.2,0M1178.9,737.8a2.6,2.6 0 1,0 5.2,0a2.6,2.6 0 1,0 -5.2,0M1198.7,740.0a2.6,2.6 0 1,0 5.2,0a2.6,2.6 0 1,0 -5.2,0M1194.4,763.8a2.6,2.6 0 1,0 5.2,0a2.6,2.6 0 1,0 -5.2,0M1178.9,784.8a2.6,2.6 0 1,0 5.2,0a2.6,2.6 0 1,0 -5.2,0M1141.2,788.0a2.6,2.6 0 1,0 5.2,0a2.6,2.6 0 1,0 -5.2,0M1151.9,789.0a2.6,2.6 0 1,0 5.2,0a2.6,2.6 0 1,0 -5.2,0M1172.7,817.2a2.6,2.6 0 1,0 5.2,0a2.6,2.6 0 1,0 -5.2,0M1165.2,838.2a2.6,2.6 0 1,0 5.2,0a2.6,2.6 0 1,0 -5.2,0M1181.9,843.2a2.6,2.6 0 1,0 5.2,0a2.6,2.6 0 1,0 -5.2,0M1141.9,848.8a2.6,2.6 0 1,0 5.2,0a2.6,2.6 0 1,0 -5.2,0M1168.2,851.8a2.6,2.6 0 1,0 5.2,0a2.6,2.6 0 1,0 -5.2,0M1164.4,856.0a2.6,2.6 0 1,0 5.2,0a2.6,2.6 0 1,0 -5.2,0M1164.4,867.5a2.6,2.6 0 1,0 5.2,0a2.6,2.6 0 1,0 -5.2,0M1168.2,867.5a2.6,2.6 0 1,0 5.2,0a2.6,2.6 0 1,0 -5.2,0" fill="#95a92c"/>
<circle cx="1069.5" cy="820.2" r="3.3" fill="#95a92c"/>
<path d="M1355.4,683.2a2.6,2.6 0 1,0 5.2,0a2.6,2.6 0 1,0 -5.2,0M1392.9,685.8a2.6,2.6 0 1,0 5.2,0a2.6,2.6 0 1,0 -5.2,0M1398.4,685.8a2.6,2.6 0 1,0 5.2,0a2.6,2.6 0 1,0 -5.2,0M1460.4,697.0a2.6,2.6 0 1,0 5.2,0a2.6,2.6 0 1,0 -5.2,0M1205.4,700.8a2.6,2.6 0 1,0 5.2,0a2.6,2.6 0 1,0 -5.2,0M1327.2,700.0a2.6,2.6 0 1,0 5.2,0a2.6,2.6 0 1,0 -5.2,0M1353.4,701.2a2.6,2.6 0 1,0 5.2,0a2.6,2.6 0 1,0 -5.2,0M1401.7,701.2a2.6,2.6 0 1,0 5.2,0a2.6,2.6 0 1,0 -5.2,0M1305.4,711.5a2.6,2.6 0 1,0 5.2,0a2.6,2.6 0 1,0 -5.2,0M1307.4,715.8a2.6,2.6 0 1,0 5.2,0a2.6,2.6 0 1,0 -5.2,0M1312.9,715.8a2.6,2.6 0 1,0 5.2,0a2.6,2.6 0 1,0 -5.2,0M1348.2,710.8a2.6,2.6 0 1,0 5.2,0a2.6,2.6 0 1,0 -5.2,0M1457.9,711.5a2.6,2.6 0 1,0 5.2,0a2.6,2.6 0 1,0 -5.2,0M1340.9,725.2a2.6,2.6 0 1,0 5.2,0a2.6,2.6 0 1,0 -5.2,0M1347.2,725.2a2.6,2.6 0 1,0 5.2,0a2.6,2.6 0 1,0 -5.2,0M1334.7,734.5a2.6,2.6 0 1,0 5.2,0a2.6,2.6 0 1,0 -5.2,0M1358.7,734.5a2.6,2.6 0 1,0 5.2,0a2.6,2.6 0 1,0 -5.2,0M1435.9,726.2a2.6,2.6 0 1,0 5.2,0a2.6,2.6 0 1,0 -5.2,0M1439.4,730.2a2.6,2.6 0 1,0 5.2,0a2.6,2.6 0 1,0 -5.2,0M1466.7,731.5a2.6,2.6 0 1,0 5.2,0a2.6,2.6 0 1,0 -5.2,0M1261.4,737.8a2.6,2.6 0 1,0 5.2,0a2.6,2.6 0 1,0 -5.2,0M1254.2,747.2a2.6,2.6 0 1,0 5.2,0a2.6,2.6 0 1,0 -5.2,0M1259.2,748.2a2.6,2.6 0 1,0 5.2,0a2.6,2.6 0 1,0 -5.2,0M1252.9,756.5a2.6,2.6 0 1,0 5.2,0a2.6,2.6 0 1,0 -5.2,0M1254.2,767.0a2.6,2.6 0 1,0 5.2,0a2.6,2.6 0 1,0 -5.2,0M1405.4,752.5a2.6,2.6 0 1,0 5.2,0a2.6,2.6 0 1,0 -5.2,0M1476.7,752.5a2.6,2.6 0 1,0 5.2,0a2.6,2.6 0 1,0 -5.2,0M1415.4,774.5a2.6,2.6 0 1,0 5.2,0a2.6,2.6 0 1,0 -5.2,0M1466.7,774.5a2.6,2.6 0 1,0 5.2,0a2.6,2.6 0 1,0 -5.2,0M1261.7,784.8a2.6,2.6 0 1,0 5.2,0a2.6,2.6 0 1,0 -5.2,0M1228.7,799.0a2.6,2.6 0 1,0 5.2,0a2.6,2.6 0 1,0 -5.2,0M1399.2,787.0a2.6,2.6 0 1,0 5.2,0a2.6,2.6 0 1,0 -5.2,0M1454.9,788.0a2.6,2.6 0 1,0 5.2,0a2.6,2.6 0 1,0 -5.2,0M1477.9,789.0a2.6,2.6 0 1,0 5.2,0a2.6,2.6 0 1,0 -5.2,0M1352.4,797.5a2.6,2.6 0 1,0 5.2,0a2.6,2.6 0 1,0 -5.2,0M1252.9,822.5a2.6,2.6 0 1,0 5.2,0a2.6,2.6 0 1,0 -5.2,0M1260.4,840.2a2.6,2.6 0 1,0 5.2,0a2.6,2.6 0 1,0 -5.2,0M1289.7,848.8a2.6,2.6 0 1,0 5.2,0a2.6,2.6 0 1,0 -5.2,0M1340.9,835.0a2.6,2.6 0 1,0 5.2,0a2.6,2.6 0 1,0 -5.2,0M1362.9,845.5a2.6,2.6 0 1,0 5.2,0a2.6,2.6 0 1,0 -5.2,0M1397.4,833.0a2.6,2.6 0 1,0 5.2,0a2.6,2.6 0 1,0 -5.2,0M1459.9,831.0a2.6,2.6 0 1,0 5.2,0a2.6,2.6 0 1,0 -5.2,0M1476.7,929.5a2.6,2.6 0 1,0 5.2,0a2.6,2.6 0 1,0 -5.2,0M1234.9,953.2a2.6,2.6 0 1,0 5.2,0a2.6,2.6 0 1,0 -5.2,0M1234.9,959.5a2.6,2.6 0 1,0 5.2,0a2.6,2.6 0 1,0 -5.2,0M1249.9,959.5a2.6,2.6 0 1,0 5.2,0a2.6,2.6 0 1,0 -5.2,0M1282.2,965.8a2.6,2.6 0 1,0 5.2,0a2.6,2.6 0 1,0 -5.2,0M1302.2,965.8a2.6,2.6 0 1,0 5.2,0a2.6,2.6 0 1,0 -5.2,0M1326.2,955.2a2.6,2.6 0 1,0 5.2,0a2.6,2.6 0 1,0 -5.2,0M1391.7,962.8a2.6,2.6 0 1,0 5.2,0a2.6,2.6 0 1,0 -5.2,0M1455.4,961.5a2.6,2.6 0 1,0 5.2,0a2.6,2.6 0 1,0 -5.2,0M1467.4,964.0a2.6,2.6 0 1,0 5.2,0a2.6,2.6 0 1,0 -5.2,0M1477.9,961.5a2.6,2.6 0 1,0 5.2,0a2.6,2.6 0 1,0 -5.2,0M1439.9,975.2a2.6,2.6 0 1,0 5.2,0a2.6,2.6 0 1,0 -5.2,0M1335.4,981.5a2.6,2.6 0 1,0 5.2,0a2.6,2.6 0 1,0 -5.2,0M1304.2,987.0a2.6,2.6 0 1,0 5.2,0a2.6,2.6 0 1,0 -5.2,0M1272.9,994.0a2.6,2.6 0 1,0 5.2,0a2.6,2.6 0 1,0 -5.2,0M1327.2,993.2a2.6,2.6 0 1,0 5.2,0a2.6,2.6 0 1,0 -5.2,0M1353.4,993.2a2.6,2.6 0 1,0 5.2,0a2.6,2.6 0 1,0 -5.2,0M1387.9,997.5a2.6,2.6 0 1,0 5.2,0a2.6,2.6 0 1,0 -5.2,0M1400.4,993.2a2.6,2.6 0 1,0 5.2,0a2.6,2.6 0 1,0 -5.2,0M1481.7,987.5a2.6,2.6 0 1,0 5.2,0a2.6,2.6 0 1,0 -5.2,0M1471.7,1017.0a2.6,2.6 0 1,0 5.2,0a2.6,2.6 0 1,0 -5.2,0M1471.7,1022.0a2.6,2.6 0 1,0 5.2,0a2.6,2.6 0 1,0 -5.2,0M1251.7,1012.0a2.6,2.6 0 1,0 5.2,0a2.6,2.6 0 1,0 -5.2,0M1250.4,1017.0a2.6,2.6 0 1,0 5.2,0a2.6,2.6 0 1,0 -5.2,0M1281.7,1020.0a2.6,2.6 0 1,0 5.2,0a2.6,2.6 0 1,0 -5.2,0M1217.9,998.2a2.6,2.6 0 1,0 5.2,0a2.6,2.6 0 1,0 -5.2,0M1225.4,1000.2a2.6,2.6 0 1,0 5.2,0a2.6,2.6 0 1,0 -5.2,0M1237.4,1017.0a2.6,2.6 0 1,0 5.2,0a2.6,2.6 0 1,0 -5.2,0" fill="#95a92c"/>
<circle cx="1420.5" cy="755.2" r="3.3" fill="#95a92c"/>
<circle cx="1290.5" cy="789.5" r="3.3" fill="#95a92c"/>

<path d="M1340.4,1027.5a2.6,2.6 0 1,0 5.2,0a2.6,2.6 0 1,0 -5.2,0M1471.7,1023.0a2.6,2.6 0 1,0 5.2,0a2.6,2.6 0 1,0 -5.2,0M1391.2,1069.2a2.6,2.6 0 1,0 5.2,0a2.6,2.6 0 1,0 -5.2,0M1401.7,1065.5a2.6,2.6 0 1,0 5.2,0a2.6,2.6 0 1,0 -5.2,0M1426.7,1107.2a2.6,2.6 0 1,0 5.2,0a2.6,2.6 0 1,0 -5.2,0M1360.4,1078.5a2.6,2.6 0 1,0 5.2,0a2.6,2.6 0 1,0 -5.2,0M1440.4,1135.5a2.6,2.6 0 1,0 5.2,0a2.6,2.6 0 1,0 -5.2,0M1480.4,1158.0a2.6,2.6 0 1,0 5.2,0a2.6,2.6 0 1,0 -5.2,0" fill="#95a92c"/>
<circle cx="1476.8" cy="1153.0" r="3.5" fill="#95a92c"/>
<path d="M289.7,25.1a2.6,2.6 0 1,0 5.2,0a2.6,2.6 0 1,0 -5.2,0M289.5,19.2a2.6,2.6 0 1,0 5.2,0a2.6,2.6 0 1,0 -5.2,0M291.7,25.9a2.6,2.6 0 1,0 5.2,0a2.6,2.6 0 1,0 -5.2,0M295.0,25.4a2.6,2.6 0 1,0 5.2,0a2.6,2.6 0 1,0 -5.2,0M300.0,25.1a2.6,2.6 0 1,0 5.2,0a2.6,2.6 0 1,0 -5.2,0M301.8,26.6a2.6,2.6 0 1,0 5.2,0a2.6,2.6 0 1,0 -5.2,0M301.6,19.4a2.6,2.6 0 1,0 5.2,0a2.6,2.6 0 1,0 -5.2,0M317.3,26.3a2.6,2.6 0 1,0 5.2,0a2.6,2.6 0 1,0 -5.2,0M330.3,25.2a2.6,2.6 0 1,0 5.2,0a2.6,2.6 0 1,0 -5.2,0M334.0,26.7a2.6,2.6 0 1,0 5.2,0a2.6,2.6 0 1,0 -5.2,0M333.4,19.2a2.6,2.6 0 1,0 5.2,0a2.6,2.6 0 1,0 -5.2,0M338.0,26.7a2.6,2.6 0 1,0 5.2,0a2.6,2.6 0 1,0 -5.2,0M341.5,25.3a2.6,2.6 0 1,0 5.2,0a2.6,2.6 0 1,0 -5.2,0M344.0,25.5a2.6,2.6 0 1,0 5.2,0a2.6,2.6 0 1,0 -5.2,0M347.9,26.4a2.6,2.6 0 1,0 5.2,0a2.6,2.6 0 1,0 -5.2,0M350.9,19.6a2.6,2.6 0 1,0 5.2,0a2.6,2.6 0 1,0 -5.2,0M352.6,26.3a2.6,2.6 0 1,0 5.2,0a2.6,2.6 0 1,0 -5.2,0M356.3,25.1a2.6,2.6 0 1,0 5.2,0a2.6,2.6 0 1,0 -5.2,0M355.6,19.0a2.6,2.6 0 1,0 5.2,0a2.6,2.6 0 1,0 -5.2,0M358.9,26.7a2.6,2.6 0 1,0 5.2,0a2.6,2.6 0 1,0 -5.2,0M362.7,25.2a2.6,2.6 0 1,0 5.2,0a2.6,2.6 0 1,0 -5.2,0M365.4,25.2a2.6,2.6 0 1,0 5.2,0a2.6,2.6 0 1,0 -5.2,0M369.5,18.9a2.6,2.6 0 1,0 5.2,0a2.6,2.6 0 1,0 -5.2,0M372.7,27.0a2.6,2.6 0 1,0 5.2,0a2.6,2.6 0 1,0 -5.2,0M373.3,19.5a2.6,2.6 0 1,0 5.2,0a2.6,2.6 0 1,0 -5.2,0M375.1,26.5a2.6,2.6 0 1,0 5.2,0a2.6,2.6 0 1,0 -5.2,0M379.6,27.0a2.6,2.6 0 1,0 5.2,0a2.6,2.6 0 1,0 -5.2,0M379.7,19.6a2.6,2.6 0 1,0 5.2,0a2.6,2.6 0 1,0 -5.2,0M384.9,26.4a2.6,2.6 0 1,0 5.2,0a2.6,2.6 0 1,0 -5.2,0M392.0,26.8a2.6,2.6 0 1,0 5.2,0a2.6,2.6 0 1,0 -5.2,0M405.4,26.6a2.6,2.6 0 1,0 5.2,0a2.6,2.6 0 1,0 -5.2,0M413.7,19.4a2.6,2.6 0 1,0 5.2,0a2.6,2.6 0 1,0 -5.2,0M416.7,26.8a2.6,2.6 0 1,0 5.2,0a2.6,2.6 0 1,0 -5.2,0M420.4,26.8a2.6,2.6 0 1,0 5.2,0a2.6,2.6 0 1,0 -5.2,0M423.7,25.4a2.6,2.6 0 1,0 5.2,0a2.6,2.6 0 1,0 -5.2,0M422.8,19.6a2.6,2.6 0 1,0 5.2,0a2.6,2.6 0 1,0 -5.2,0M427.5,26.1a2.6,2.6 0 1,0 5.2,0a2.6,2.6 0 1,0 -5.2,0M429.4,26.1a2.6,2.6 0 1,0 5.2,0a2.6,2.6 0 1,0 -5.2,0M445.3,26.3a2.6,2.6 0 1,0 5.2,0a2.6,2.6 0 1,0 -5.2,0M449.7,25.3a2.6,2.6 0 1,0 5.2,0a2.6,2.6 0 1,0 -5.2,0M455.8,25.7a2.6,2.6 0 1,0 5.2,0a2.6,2.6 0 1,0 -5.2,0M458.0,19.1a2.6,2.6 0 1,0 5.2,0a2.6,2.6 0 1,0 -5.2,0M464.5,26.6a2.6,2.6 0 1,0 5.2,0a2.6,2.6 0 1,0 -5.2,0M469.2,25.5a2.6,2.6 0 1,0 5.2,0a2.6,2.6 0 1,0 -5.2,0M471.0,25.1a2.6,2.6 0 1,0 5.2,0a2.6,2.6 0 1,0 -5.2,0M475.3,26.6a2.6,2.6 0 1,0 5.2,0a2.6,2.6 0 1,0 -5.2,0M478.1,25.7a2.6,2.6 0 1,0 5.2,0a2.6,2.6 0 1,0 -5.2,0M481.5,25.5a2.6,2.6 0 1,0 5.2,0a2.6,2.6 0 1,0 -5.2,0M480.6,19.0a2.6,2.6 0 1,0 5.2,0a2.6,2.6 0 1,0 -5.2,0M484.2,25.6a2.6,2.6 0 1,0 5.2,0a2.6,2.6 0 1,0 -5.2,0M485.1,19.1a2.6,2.6 0 1,0 5.2,0a2.6,2.6 0 1,0 -5.2,0M487.5,25.0a2.6,2.6 0 1,0 5.2,0a2.6,2.6 0 1,0 -5.2,0M487.3,18.8a2.6,2.6 0 1,0 5.2,0a2.6,2.6 0 1,0 -5.2,0M499.7,25.3a2.6,2.6 0 1,0 5.2,0a2.6,2.6 0 1,0 -5.2,0M503.0,26.7a2.6,2.6 0 1,0 5.2,0a2.6,2.6 0 1,0 -5.2,0M504.5,19.5a2.6,2.6 0 1,0 5.2,0a2.6,2.6 0 1,0 -5.2,0M506.6,25.9a2.6,2.6 0 1,0 5.2,0a2.6,2.6 0 1,0 -5.2,0M506.3,19.2a2.6,2.6 0 1,0 5.2,0a2.6,2.6 0 1,0 -5.2,0M511.1,26.1a2.6,2.6 0 1,0 5.2,0a2.6,2.6 0 1,0 -5.2,0M512.4,25.8a2.6,2.6 0 1,0 5.2,0a2.6,2.6 0 1,0 -5.2,0M515.6,25.5a2.6,2.6 0 1,0 5.2,0a2.6,2.6 0 1,0 -5.2,0M519.4,25.5a2.6,2.6 0 1,0 5.2,0a2.6,2.6 0 1,0 -5.2,0M520.0,19.3a2.6,2.6 0 1,0 5.2,0a2.6,2.6 0 1,0 -5.2,0M525.3,19.6a2.6,2.6 0 1,0 5.2,0a2.6,2.6 0 1,0 -5.2,0M533.2,26.7a2.6,2.6 0 1,0 5.2,0a2.6,2.6 0 1,0 -5.2,0M539.1,26.3a2.6,2.6 0 1,0 5.2,0a2.6,2.6 0 1,0 -5.2,0M542.8,26.5a2.6,2.6 0 1,0 5.2,0a2.6,2.6 0 1,0 -5.2,0M542.2,19.3a2.6,2.6 0 1,0 5.2,0a2.6,2.6 0 1,0 -5.2,0M544.5,19.1a2.6,2.6 0 1,0 5.2,0a2.6,2.6 0 1,0 -5.2,0M548.6,19.2a2.6,2.6 0 1,0 5.2,0a2.6,2.6 0 1,0 -5.2,0M552.3,26.2a2.6,2.6 0 1,0 5.2,0a2.6,2.6 0 1,0 -5.2,0M555.5,25.6a2.6,2.6 0 1,0 5.2,0a2.6,2.6 0 1,0 -5.2,0M558.5,26.4a2.6,2.6 0 1,0 5.2,0a2.6,2.6 0 1,0 -5.2,0M561.3,25.2a2.6,2.6 0 1,0 5.2,0a2.6,2.6 0 1,0 -5.2,0M567.2,26.9a2.6,2.6 0 1,0 5.2,0a2.6,2.6 0 1,0 -5.2,0M571.9,25.3a2.6,2.6 0 1,0 5.2,0a2.6,2.6 0 1,0 -5.2,0M577.3,25.6a2.6,2.6 0 1,0 5.2,0a2.6,2.6 0 1,0 -5.2,0M579.6,26.5a2.6,2.6 0 1,0 5.2,0a2.6,2.6 0 1,0 -5.2,0M589.8,26.9a2.6,2.6 0 1,0 5.2,0a2.6,2.6 0 1,0 -5.2,0M593.1,26.9a2.6,2.6 0 1,0 5.2,0a2.6,2.6 0 1,0 -5.2,0M594.2,19.6a2.6,2.6 0 1,0 5.2,0a2.6,2.6 0 1,0 -5.2,0M602.6,19.5a2.6,2.6 0 1,0 5.2,0a2.6,2.6 0 1,0 -5.2,0M767.5,19.2a2.6,2.6 0 1,0 5.2,0a2.6,2.6 0 1,0 -5.2,0M770.0,26.8a2.6,2.6 0 1,0 5.2,0a2.6,2.6 0 1,0 -5.2,0M770.6,19.0a2.6,2.6 0 1,0 5.2,0a2.6,2.6 0 1,0 -5.2,0M776.5,25.5a2.6,2.6 0 1,0 5.2,0a2.6,2.6 0 1,0 -5.2,0M777.1,19.7a2.6,2.6 0 1,0 5.2,0a2.6,2.6 0 1,0 -5.2,0M784.3,25.3a2.6,2.6 0 1,0 5.2,0a2.6,2.6 0 1,0 -5.2,0M783.4,19.4a2.6,2.6 0 1,0 5.2,0a2.6,2.6 0 1,0 -5.2,0M786.4,19.2a2.6,2.6 0 1,0 5.2,0a2.6,2.6 0 1,0 -5.2,0M800.3,26.4a2.6,2.6 0 1,0 5.2,0a2.6,2.6 0 1,0 -5.2,0M801.7,26.6a2.6,2.6 0 1,0 5.2,0a2.6,2.6 0 1,0 -5.2,0M809.0,26.2a2.6,2.6 0 1,0 5.2,0a2.6,2.6 0 1,0 -5.2,0M808.8,19.0a2.6,2.6 0 1,0 5.2,0a2.6,2.6 0 1,0 -5.2,0M813.1,19.4a2.6,2.6 0 1,0 5.2,0a2.6,2.6 0 1,0 -5.2,0M818.6,26.3a2.6,2.6 0 1,0 5.2,0a2.6,2.6 0 1,0 -5.2,0M818.4,19.1a2.6,2.6 0 1,0 5.2,0a2.6,2.6 0 1,0 -5.2,0M825.0,19.0a2.6,2.6 0 1,0 5.2,0a2.6,2.6 0 1,0 -5.2,0M831.4,25.4a2.6,2.6 0 1,0 5.2,0a2.6,2.6 0 1,0 -5.2,0M836.9,25.8a2.6,2.6 0 1,0 5.2,0a2.6,2.6 0 1,0 -5.2,0M838.6,19.7a2.6,2.6 0 1,0 5.2,0a2.6,2.6 0 1,0 -5.2,0M843.9,19.1a2.6,2.6 0 1,0 5.2,0a2.6,2.6 0 1,0 -5.2,0M847.0,25.7a2.6,2.6 0 1,0 5.2,0a2.6,2.6 0 1,0 -5.2,0M848.3,18.9a2.6,2.6 0 1,0 5.2,0a2.6,2.6 0 1,0 -5.2,0M851.2,19.2a2.6,2.6 0 1,0 5.2,0a2.6,2.6 0 1,0 -5.2,0M853.5,26.8a2.6,2.6 0 1,0 5.2,0a2.6,2.6 0 1,0 -5.2,0M857.5,18.8a2.6,2.6 0 1,0 5.2,0a2.6,2.6 0 1,0 -5.2,0M861.0,25.5a2.6,2.6 0 1,0 5.2,0a2.6,2.6 0 1,0 -5.2,0M860.7,19.7a2.6,2.6 0 1,0 5.2,0a2.6,2.6 0 1,0 -5.2,0M864.3,26.2a2.6,2.6 0 1,0 5.2,0a2.6,2.6 0 1,0 -5.2,0M862.9,19.5a2.6,2.6 0 1,0 5.2,0a2.6,2.6 0 1,0 -5.2,0M865.6,26.5a2.6,2.6 0 1,0 5.2,0a2.6,2.6 0 1,0 -5.2,0M867.4,19.4a2.6,2.6 0 1,0 5.2,0a2.6,2.6 0 1,0 -5.2,0M870.7,19.8a2.6,2.6 0 1,0 5.2,0a2.6,2.6 0 1,0 -5.2,0M872.9,26.0a2.6,2.6 0 1,0 5.2,0a2.6,2.6 0 1,0 -5.2,0M873.9,19.0a2.6,2.6 0 1,0 5.2,0a2.6,2.6 0 1,0 -5.2,0M880.0,25.2a2.6,2.6 0 1,0 5.2,0a2.6,2.6 0 1,0 -5.2,0M881.7,26.1a2.6,2.6 0 1,0 5.2,0a2.6,2.6 0 1,0 -5.2,0M882.3,19.8a2.6,2.6 0 1,0 5.2,0a2.6,2.6 0 1,0 -5.2,0M895.9,25.4a2.6,2.6 0 1,0 5.2,0a2.6,2.6 0 1,0 -5.2,0M898.8,25.7a2.6,2.6 0 1,0 5.2,0a2.6,2.6 0 1,0 -5.2,0M902.4,26.3a2.6,2.6 0 1,0 5.2,0a2.6,2.6 0 1,0 -5.2,0M902.8,18.9a2.6,2.6 0 1,0 5.2,0a2.6,2.6 0 1,0 -5.2,0M905.7,26.8a2.6,2.6 0 1,0 5.2,0a2.6,2.6 0 1,0 -5.2,0M909.1,26.2a2.6,2.6 0 1,0 5.2,0a2.6,2.6 0 1,0 -5.2,0M909.1,19.2a2.6,2.6 0 1,0 5.2,0a2.6,2.6 0 1,0 -5.2,0M914.0,25.7a2.6,2.6 0 1,0 5.2,0a2.6,2.6 0 1,0 -5.2,0M918.1,25.4a2.6,2.6 0 1,0 5.2,0a2.6,2.6 0 1,0 -5.2,0M921.6,19.3a2.6,2.6 0 1,0 5.2,0a2.6,2.6 0 1,0 -5.2,0M924.0,26.1a2.6,2.6 0 1,0 5.2,0a2.6,2.6 0 1,0 -5.2,0M924.5,18.9a2.6,2.6 0 1,0 5.2,0a2.6,2.6 0 1,0 -5.2,0M927.2,25.6a2.6,2.6 0 1,0 5.2,0a2.6,2.6 0 1,0 -5.2,0M930.3,25.8a2.6,2.6 0 1,0 5.2,0a2.6,2.6 0 1,0 -5.2,0M934.3,25.4a2.6,2.6 0 1,0 5.2,0a2.6,2.6 0 1,0 -5.2,0M932.8,19.7a2.6,2.6 0 1,0 5.2,0a2.6,2.6 0 1,0 -5.2,0M936.8,26.8a2.6,2.6 0 1,0 5.2,0a2.6,2.6 0 1,0 -5.2,0M940.5,26.8a2.6,2.6 0 1,0 5.2,0a2.6,2.6 0 1,0 -5.2,0M942.7,25.6a2.6,2.6 0 1,0 5.2,0a2.6,2.6 0 1,0 -5.2,0M947.2,26.9a2.6,2.6 0 1,0 5.2,0a2.6,2.6 0 1,0 -5.2,0M956.9,25.4a2.6,2.6 0 1,0 5.2,0a2.6,2.6 0 1,0 -5.2,0M958.6,25.5a2.6,2.6 0 1,0 5.2,0a2.6,2.6 0 1,0 -5.2,0M963.1,25.1a2.6,2.6 0 1,0 5.2,0a2.6,2.6 0 1,0 -5.2,0M966.1,25.6a2.6,2.6 0 1,0 5.2,0a2.6,2.6 0 1,0 -5.2,0M968.9,25.9a2.6,2.6 0 1,0 5.2,0a2.6,2.6 0 1,0 -5.2,0M972.7,26.6a2.6,2.6 0 1,0 5.2,0a2.6,2.6 0 1,0 -5.2,0M972.1,19.0a2.6,2.6 0 1,0 5.2,0a2.6,2.6 0 1,0 -5.2,0M974.7,25.9a2.6,2.6 0 1,0 5.2,0a2.6,2.6 0 1,0 -5.2,0M974.6,19.2a2.6,2.6 0 1,0 5.2,0a2.6,2.6 0 1,0 -5.2,0M978.9,25.2a2.6,2.6 0 1,0 5.2,0a2.6,2.6 0 1,0 -5.2,0M979.1,19.6a2.6,2.6 0 1,0 5.2,0a2.6,2.6 0 1,0 -5.2,0M981.8,25.8a2.6,2.6 0 1,0 5.2,0a2.6,2.6 0 1,0 -5.2,0M982.7,18.9a2.6,2.6 0 1,0 5.2,0a2.6,2.6 0 1,0 -5.2,0M989.0,25.3a2.6,2.6 0 1,0 5.2,0a2.6,2.6 0 1,0 -5.2,0M991.9,25.3a2.6,2.6 0 1,0 5.2,0a2.6,2.6 0 1,0 -5.2,0M994.0,19.1a2.6,2.6 0 1,0 5.2,0a2.6,2.6 0 1,0 -5.2,0M996.9,25.4a2.6,2.6 0 1,0 5.2,0a2.6,2.6 0 1,0 -5.2,0M1007.7,25.8a2.6,2.6 0 1,0 5.2,0a2.6,2.6 0 1,0 -5.2,0M1014.1,19.8a2.6,2.6 0 1,0 5.2,0a2.6,2.6 0 1,0 -5.2,0M1016.6,25.0a2.6,2.6 0 1,0 5.2,0a2.6,2.6 0 1,0 -5.2,0M1022.6,19.2a2.6,2.6 0 1,0 5.2,0a2.6,2.6 0 1,0 -5.2,0M1026.8,25.4a2.6,2.6 0 1,0 5.2,0a2.6,2.6 0 1,0 -5.2,0M1029.3,25.3a2.6,2.6 0 1,0 5.2,0a2.6,2.6 0 1,0 -5.2,0M1036.5,25.9a2.6,2.6 0 1,0 5.2,0a2.6,2.6 0 1,0 -5.2,0M1038.5,26.1a2.6,2.6 0 1,0 5.2,0a2.6,2.6 0 1,0 -5.2,0M1041.6,26.1a2.6,2.6 0 1,0 5.2,0a2.6,2.6 0 1,0 -5.2,0M1045.8,26.3a2.6,2.6 0 1,0 5.2,0a2.6,2.6 0 1,0 -5.2,0M1048.1,26.8a2.6,2.6 0 1,0 5.2,0a2.6,2.6 0 1,0 -5.2,0M1052.7,25.9a2.6,2.6 0 1,0 5.2,0a2.6,2.6 0 1,0 -5.2,0M1054.9,25.1a2.6,2.6 0 1,0 5.2,0a2.6,2.6 0 1,0 -5.2,0M1055.1,19.5a2.6,2.6 0 1,0 5.2,0a2.6,2.6 0 1,0 -5.2,0M1065.5,19.7a2.6,2.6 0 1,0 5.2,0a2.6,2.6 0 1,0 -5.2,0M1077.0,26.8a2.6,2.6 0 1,0 5.2,0a2.6,2.6 0 1,0 -5.2,0M1080.7,25.3a2.6,2.6 0 1,0 5.2,0a2.6,2.6 0 1,0 -5.2,0M1088.0,26.8a2.6,2.6 0 1,0 5.2,0a2.6,2.6 0 1,0 -5.2,0M1097.5,25.4a2.6,2.6 0 1,0 5.2,0a2.6,2.6 0 1,0 -5.2,0M1096.6,19.2a2.6,2.6 0 1,0 5.2,0a2.6,2.6 0 1,0 -5.2,0M1099.8,26.4a2.6,2.6 0 1,0 5.2,0a2.6,2.6 0 1,0 -5.2,0M1099.9,19.1a2.6,2.6 0 1,0 5.2,0a2.6,2.6 0 1,0 -5.2,0M1106.3,26.4a2.6,2.6 0 1,0 5.2,0a2.6,2.6 0 1,0 -5.2,0M1108.8,19.0a2.6,2.6 0 1,0 5.2,0a2.6,2.6 0 1,0 -5.2,0M1115.9,26.7a2.6,2.6 0 1,0 5.2,0a2.6,2.6 0 1,0 -5.2,0M1119.8,26.0a2.6,2.6 0 1,0 5.2,0a2.6,2.6 0 1,0 -5.2,0M1118.6,19.4a2.6,2.6 0 1,0 5.2,0a2.6,2.6 0 1,0 -5.2,0M1123.0,26.6a2.6,2.6 0 1,0 5.2,0a2.6,2.6 0 1,0 -5.2,0M1126.6,25.2a2.6,2.6 0 1,0 5.2,0a2.6,2.6 0 1,0 -5.2,0M1129.8,26.0a2.6,2.6 0 1,0 5.2,0a2.6,2.6 0 1,0 -5.2,0M1128.8,19.7a2.6,2.6 0 1,0 5.2,0a2.6,2.6 0 1,0 -5.2,0M1132.3,26.5a2.6,2.6 0 1,0 5.2,0a2.6,2.6 0 1,0 -5.2,0M1134.7,26.7a2.6,2.6 0 1,0 5.2,0a2.6,2.6 0 1,0 -5.2,0M1139.1,26.2a2.6,2.6 0 1,0 5.2,0a2.6,2.6 0 1,0 -5.2,0M1142.2,19.6a2.6,2.6 0 1,0 5.2,0a2.6,2.6 0 1,0 -5.2,0M1144.5,25.7a2.6,2.6 0 1,0 5.2,0a2.6,2.6 0 1,0 -5.2,0M1145.0,19.0a2.6,2.6 0 1,0 5.2,0a2.6,2.6 0 1,0 -5.2,0M1149.2,26.5a2.6,2.6 0 1,0 5.2,0a2.6,2.6 0 1,0 -5.2,0M1147.4,19.8a2.6,2.6 0 1,0 5.2,0a2.6,2.6 0 1,0 -5.2,0M1152.4,26.6a2.6,2.6 0 1,0 5.2,0a2.6,2.6 0 1,0 -5.2,0M1153.8,25.4a2.6,2.6 0 1,0 5.2,0a2.6,2.6 0 1,0 -5.2,0M1158.2,26.0a2.6,2.6 0 1,0 5.2,0a2.6,2.6 0 1,0 -5.2,0M1160.8,26.5a2.6,2.6 0 1,0 5.2,0a2.6,2.6 0 1,0 -5.2,0M1164.0,25.5a2.6,2.6 0 1,0 5.2,0a2.6,2.6 0 1,0 -5.2,0M1169.8,25.8a2.6,2.6 0 1,0 5.2,0a2.6,2.6 0 1,0 -5.2,0M1174.0,19.2a2.6,2.6 0 1,0 5.2,0a2.6,2.6 0 1,0 -5.2,0M1179.3,26.1a2.6,2.6 0 1,0 5.2,0a2.6,2.6 0 1,0 -5.2,0M1186.3,26.0a2.6,2.6 0 1,0 5.2,0a2.6,2.6 0 1,0 -5.2,0M1188.6,26.5a2.6,2.6 0 1,0 5.2,0a2.6,2.6 0 1,0 -5.2,0M1191.5,25.8a2.6,2.6 0 1,0 5.2,0a2.6,2.6 0 1,0 -5.2,0M1191.0,19.2a2.6,2.6 0 1,0 5.2,0a2.6,2.6 0 1,0 -5.2,0M1194.9,25.5a2.6,2.6 0 1,0 5.2,0a2.6,2.6 0 1,0 -5.2,0M1202.2,26.3a2.6,2.6 0 1,0 5.2,0a2.6,2.6 0 1,0 -5.2,0M1214.0,25.5a2.6,2.6 0 1,0 5.2,0a2.6,2.6 0 1,0 -5.2,0M1221.6,26.6a2.6,2.6 0 1,0 5.2,0a2.6,2.6 0 1,0 -5.2,0M1224.3,19.1a2.6,2.6 0 1,0 5.2,0a2.6,2.6 0 1,0 -5.2,0M1226.7,26.6a2.6,2.6 0 1,0 5.2,0a2.6,2.6 0 1,0 -5.2,0M1226.9,19.0a2.6,2.6 0 1,0 5.2,0a2.6,2.6 0 1,0 -5.2,0M1236.7,26.8a2.6,2.6 0 1,0 5.2,0a2.6,2.6 0 1,0 -5.2,0M1240.0,25.1a2.6,2.6 0 1,0 5.2,0a2.6,2.6 0 1,0 -5.2,0M1239.9,18.9a2.6,2.6 0 1,0 5.2,0a2.6,2.6 0 1,0 -5.2,0M1243.3,26.7a2.6,2.6 0 1,0 5.2,0a2.6,2.6 0 1,0 -5.2,0M1246.7,26.7a2.6,2.6 0 1,0 5.2,0a2.6,2.6 0 1,0 -5.2,0M1248.7,19.4a2.6,2.6 0 1,0 5.2,0a2.6,2.6 0 1,0 -5.2,0M1255.7,19.7a2.6,2.6 0 1,0 5.2,0a2.6,2.6 0 1,0 -5.2,0M1259.3,26.5a2.6,2.6 0 1,0 5.2,0a2.6,2.6 0 1,0 -5.2,0M1263.1,25.6a2.6,2.6 0 1,0 5.2,0a2.6,2.6 0 1,0 -5.2,0M1265.6,26.9a2.6,2.6 0 1,0 5.2,0a2.6,2.6 0 1,0 -5.2,0M1268.4,26.2a2.6,2.6 0 1,0 5.2,0a2.6,2.6 0 1,0 -5.2,0M1272.8,26.1a2.6,2.6 0 1,0 5.2,0a2.6,2.6 0 1,0 -5.2,0M1276.0,26.2a2.6,2.6 0 1,0 5.2,0a2.6,2.6 0 1,0 -5.2,0M1275.5,19.6a2.6,2.6 0 1,0 5.2,0a2.6,2.6 0 1,0 -5.2,0M1282.1,18.9a2.6,2.6 0 1,0 5.2,0a2.6,2.6 0 1,0 -5.2,0M1285.3,26.8a2.6,2.6 0 1,0 5.2,0a2.6,2.6 0 1,0 -5.2,0M1285.1,19.2a2.6,2.6 0 1,0 5.2,0a2.6,2.6 0 1,0 -5.2,0M1291.5,26.9a2.6,2.6 0 1,0 5.2,0a2.6,2.6 0 1,0 -5.2,0M1295.0,26.2a2.6,2.6 0 1,0 5.2,0a2.6,2.6 0 1,0 -5.2,0M1295.2,19.2a2.6,2.6 0 1,0 5.2,0a2.6,2.6 0 1,0 -5.2,0M1297.8,26.9a2.6,2.6 0 1,0 5.2,0a2.6,2.6 0 1,0 -5.2,0M1301.1,25.4a2.6,2.6 0 1,0 5.2,0a2.6,2.6 0 1,0 -5.2,0M1300.1,18.8a2.6,2.6 0 1,0 5.2,0a2.6,2.6 0 1,0 -5.2,0M1303.2,26.9a2.6,2.6 0 1,0 5.2,0a2.6,2.6 0 1,0 -5.2,0M1307.6,25.5a2.6,2.6 0 1,0 5.2,0a2.6,2.6 0 1,0 -5.2,0M1307.7,19.0a2.6,2.6 0 1,0 5.2,0a2.6,2.6 0 1,0 -5.2,0M1310.8,26.7a2.6,2.6 0 1,0 5.2,0a2.6,2.6 0 1,0 -5.2,0M1317.4,18.9a2.6,2.6 0 1,0 5.2,0a2.6,2.6 0 1,0 -5.2,0M1319.3,26.7a2.6,2.6 0 1,0 5.2,0a2.6,2.6 0 1,0 -5.2,0M1323.1,26.4a2.6,2.6 0 1,0 5.2,0a2.6,2.6 0 1,0 -5.2,0M1326.7,25.8a2.6,2.6 0 1,0 5.2,0a2.6,2.6 0 1,0 -5.2,0M1343.0,26.8a2.6,2.6 0 1,0 5.2,0a2.6,2.6 0 1,0 -5.2,0M1352.9,25.5a2.6,2.6 0 1,0 5.2,0a2.6,2.6 0 1,0 -5.2,0M1354.7,26.5a2.6,2.6 0 1,0 5.2,0a2.6,2.6 0 1,0 -5.2,0M1355.8,19.3a2.6,2.6 0 1,0 5.2,0a2.6,2.6 0 1,0 -5.2,0M1358.9,25.5a2.6,2.6 0 1,0 5.2,0a2.6,2.6 0 1,0 -5.2,0M1364.5,26.1a2.6,2.6 0 1,0 5.2,0a2.6,2.6 0 1,0 -5.2,0M1369.0,25.7a2.6,2.6 0 1,0 5.2,0a2.6,2.6 0 1,0 -5.2,0M1367.2,19.4a2.6,2.6 0 1,0 5.2,0a2.6,2.6 0 1,0 -5.2,0M1371.2,18.8a2.6,2.6 0 1,0 5.2,0a2.6,2.6 0 1,0 -5.2,0M1375.1,26.0a2.6,2.6 0 1,0 5.2,0a2.6,2.6 0 1,0 -5.2,0M1380.2,25.4a2.6,2.6 0 1,0 5.2,0a2.6,2.6 0 1,0 -5.2,0M1380.0,18.9a2.6,2.6 0 1,0 5.2,0a2.6,2.6 0 1,0 -5.2,0M1406.4,25.3a2.6,2.6 0 1,0 5.2,0a2.6,2.6 0 1,0 -5.2,0M1405.9,18.9a2.6,2.6 0 1,0 5.2,0a2.6,2.6 0 1,0 -5.2,0M1408.7,19.7a2.6,2.6 0 1,0 5.2,0a2.6,2.6 0 1,0 -5.2,0M1413.5,26.8a2.6,2.6 0 1,0 5.2,0a2.6,2.6 0 1,0 -5.2,0M1416.7,26.3a2.6,2.6 0 1,0 5.2,0a2.6,2.6 0 1,0 -5.2,0M1426.3,25.7a2.6,2.6 0 1,0 5.2,0a2.6,2.6 0 1,0 -5.2,0M1428.0,27.0a2.6,2.6 0 1,0 5.2,0a2.6,2.6 0 1,0 -5.2,0M1431.5,19.0a2.6,2.6 0 1,0 5.2,0a2.6,2.6 0 1,0 -5.2,0M1436.2,26.9a2.6,2.6 0 1,0 5.2,0a2.6,2.6 0 1,0 -5.2,0M1439.4,18.8a2.6,2.6 0 1,0 5.2,0a2.6,2.6 0 1,0 -5.2,0M1445.6,25.4a2.6,2.6 0 1,0 5.2,0a2.6,2.6 0 1,0 -5.2,0M1448.4,25.4a2.6,2.6 0 1,0 5.2,0a2.6,2.6 0 1,0 -5.2,0M1458.3,19.7a2.6,2.6 0 1,0 5.2,0a2.6,2.6 0 1,0 -5.2,0M1461.6,26.0a2.6,2.6 0 1,0 5.2,0a2.6,2.6 0 1,0 -5.2,0M1461.5,19.1a2.6,2.6 0 1,0 5.2,0a2.6,2.6 0 1,0 -5.2,0M1463.7,25.3a2.6,2.6 0 1,0 5.2,0a2.6,2.6 0 1,0 -5.2,0M1467.1,26.0a2.6,2.6 0 1,0 5.2,0a2.6,2.6 0 1,0 -5.2,0M1474.5,26.0a2.6,2.6 0 1,0 5.2,0a2.6,2.6 0 1,0 -5.2,0M1476.2,18.9a2.6,2.6 0 1,0 5.2,0a2.6,2.6 0 1,0 -5.2,0" fill="#95a92c"/>
<circle cx="397.7" cy="348.5" r="2.2" fill="#95a92c"/>
<polyline points="1378.5,1107.5 1385,1113.5 1391,1119" fill="none" stroke="#95a92c" stroke-width="5" stroke-linecap="round"/>
<polyline points="452,440 458,447 464,456 471,466" fill="none" stroke="#95a92c" stroke-width="5" stroke-linecap="round"/>
<text x="830" y="1288.5" font-size="53.5" text-anchor="middle" font-family="Liberation Sans, sans-serif">Number of columns/reactions</text>
<text x="841" y="1353" font-size="53.5" text-anchor="middle" font-family="Liberation Sans, sans-serif">(5328 nonzero elements)</text>
<text transform="translate(39.5,594) rotate(-90)" font-size="53.5" text-anchor="middle" font-family="Liberation Sans, sans-serif">Number of rows/metabolites</text>
</svg>
</body></html>
